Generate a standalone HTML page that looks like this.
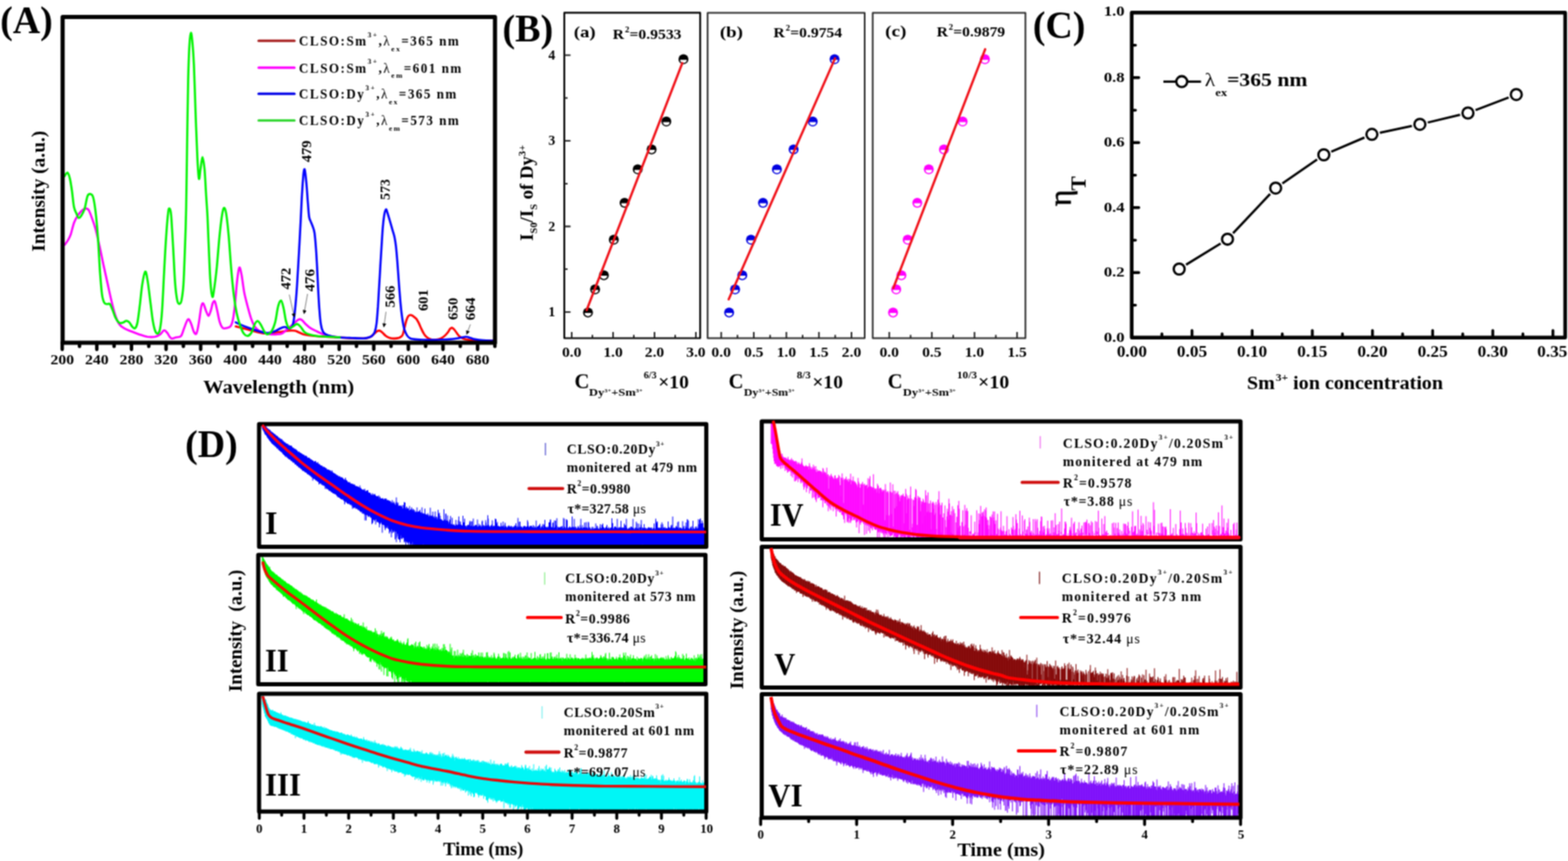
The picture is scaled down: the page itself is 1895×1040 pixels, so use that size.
<!DOCTYPE html>
<html lang="en"><head><meta charset="utf-8"><title>Figure</title>
<style>
html,body{margin:0;padding:0;background:#fff;}
body{width:1895px;height:1040px;overflow:hidden;}
svg{display:block;}
svg text{font-family:"Liberation Serif","DejaVu Serif",serif;font-weight:bold;fill:#000;}
</style></head><body>
<svg width="1895" height="1040" viewBox="0 0 1895 1040">
<defs><filter id="soft" x="0" y="0" width="100%" height="100%" color-interpolation-filters="sRGB"><feConvolveMatrix order="3" kernelMatrix="1 2 1 2 4 2 1 2 1" divisor="16" edgeMode="duplicate" preserveAlpha="false"/></filter></defs>
<g filter="url(#soft)">
<rect width="1895" height="1040" fill="#fff"/>
<g id="panelA">
<g fill="none" stroke-width="2.6" stroke-linejoin="round" stroke-linecap="round">
<path stroke="#ff0000" d="M284.9 394.3C286.7 394.7 291.9 396.1 295.7 397.1C299.5 398.1 303.7 399.3 307.7 400.3C311.8 401.2 316.5 402.4 320 402.7C323.5 402.9 325.8 402.2 328.9 401.9C331.9 401.7 335.3 401.4 338.5 401C341.7 400.6 345.1 399.8 348.1 399.5C351.1 399.3 354.3 399.2 356.5 399.5C358.7 399.9 359.5 400.7 361.3 401.5C363.1 402.2 364.3 403.1 367.3 403.9C370.3 404.6 374.5 405.3 379.3 405.8C384.1 406.3 391 406.7 396.2 407C401.4 407.3 405.8 407.5 410.6 407.7C415.4 408 419.8 408.3 425 408.4C430.2 408.6 438 409 441.8 408.7C445.7 408.4 446.1 407.8 447.9 406.8C449.7 405.8 451.3 403.8 452.7 402.7C454.1 401.5 455.2 400.3 456.3 399.8C457.4 399.3 458.2 399.2 459.2 399.5C460.2 399.9 461.1 400.9 462.3 401.9C463.5 403 464.9 404.7 466.4 405.8C467.9 406.8 469.5 407.7 471.2 408.2C472.9 408.7 474.9 409 476.7 408.9C478.6 408.9 480.6 408.6 482.2 408C483.8 407.3 485.2 407 486.3 405.1C487.4 403.2 487.9 399.7 488.7 396.7C489.5 393.7 490.3 389.5 491.1 387C491.9 384.6 492.7 382.8 493.5 381.7C494.3 380.7 495 380.5 495.9 380.5C496.9 380.5 497.9 381 499.1 381.7C500.3 382.5 502 383.6 503.2 385.1C504.4 386.6 505.3 388.6 506.3 390.6C507.3 392.6 508.1 394.9 509.2 397.1C510.2 399.3 511.6 402.1 512.8 403.9C514 405.6 515 406.7 516.4 407.7C517.8 408.7 519.4 409.4 521.2 409.9C523 410.3 525.2 410.6 527.2 410.4C529.2 410.2 531.4 409.6 533.2 408.7C535 407.8 536.6 406.4 538 405.1C539.4 403.8 540.6 402.3 541.6 401C542.6 399.7 543.2 398 544 397.1C544.8 396.3 545.6 395.8 546.4 395.9C547.2 396.1 547.9 396.8 548.8 397.9C549.8 398.9 550.9 400.8 552 402.2C553 403.6 554 405.2 555.3 406.3C556.6 407.4 557.7 408.2 559.7 408.9C561.6 409.6 563.7 410.2 566.9 410.6C570.1 411 573.9 411.2 578.9 411.3C583.9 411.5 593.9 411.5 596.9 411.6"/>
<path stroke="#ff00ff" d="M78.1 295.7C78.7 294.9 80.5 292.9 81.7 290.9C82.9 288.9 84.1 287.3 85.3 283.7C86.6 280.1 88 273 89.4 269.2C90.8 265.4 92.2 263.2 93.8 260.8C95.3 258.4 97 256.3 98.6 254.8C100.2 253.3 102 252.1 103.4 251.9C104.8 251.7 105.8 251.9 107 253.6C108.2 255.3 109.2 258.2 110.6 262C112 265.8 113.8 270.6 115.4 276.4C117 282.3 118.6 289.7 120.2 296.9C121.8 304.1 123.4 312.3 125 319.7C126.6 327.1 128.2 334.1 129.8 341.4C131.4 348.6 133 356.4 134.6 363C136.2 369.6 137.8 376.2 139.4 381C141 385.8 142.4 389.2 144.3 391.8C146.1 394.5 147.9 395.3 150.3 396.7C152.7 398.1 155.7 399.1 158.7 400.3C161.7 401.5 165.1 402.8 168.3 403.9C171.5 405 174.7 406.3 177.9 406.8C181.1 407.2 184.9 407.2 187.5 406.8C190.1 406.3 191.7 405.2 193.5 403.9C195.3 402.6 196.9 399.4 198.3 399.1C199.7 398.7 200.5 400.3 202 401.9C203.4 403.5 205 407.8 206.8 408.7C208.6 409.6 210.8 408 212.8 407.5C214.8 407 217.2 407.6 218.8 405.8C220.4 404 221 400 222.4 396.7C223.8 393.3 225.8 386.8 227.2 385.8C228.6 384.8 229.6 388.1 230.8 390.6C232 393.2 233.3 399 234.4 401C235.5 403 236.5 404.6 237.5 402.7C238.5 400.7 239.5 394.9 240.4 389.4C241.4 384 242.4 374 243.3 370.2C244.2 366.4 244.8 365.8 245.7 366.6C246.6 367.4 247.8 372.5 248.8 375C249.9 377.5 251 381.5 252 381.5C253 381.5 254 377.6 254.8 375C255.7 372.4 256.4 367.7 257.2 365.9C258.1 364.1 258.8 362.7 259.7 364.2C260.5 365.7 261.5 370.8 262.5 375C263.5 379.2 264.5 385.9 265.7 389.4C266.8 393 267.9 395.1 269.3 396.2C270.7 397.3 272.5 396.6 274.1 396.2C275.7 395.8 277.6 395.7 278.9 393.8C280.2 391.8 280.9 389.4 281.8 384.6C282.7 379.9 283.4 373 284.2 365.4C285 357.8 285.7 346 286.6 339C287.4 331.9 288.3 324.5 289.2 323.3C290.1 322.1 290.9 326.7 291.9 331.7C292.9 336.8 294 347 295.2 353.4C296.5 359.8 298 365 299.3 370.2C300.7 375.4 302 380.6 303.4 384.6C304.8 388.6 306.2 391.8 307.7 394.3C309.3 396.7 310.5 397.8 312.5 399.1C314.6 400.3 318.1 401.2 320 401.9C321.9 402.7 321.8 403.1 324 403.4C326.3 403.7 330.9 404 333.7 403.9C336.5 403.7 338.7 403.7 340.9 402.7C343.1 401.7 345.1 399.3 346.9 397.9C348.7 396.4 350.1 395.2 351.7 393.8C353.3 392.4 354.9 390.8 356.5 389.4C358.1 388.1 359.9 386.3 361.3 385.8C362.7 385.4 363.5 385.6 364.9 386.6C366.3 387.6 367.9 390.2 369.7 391.8C371.5 393.5 373.5 395.3 375.7 396.7C377.9 398.1 380.3 399.1 382.9 400.3C385.5 401.5 388.4 402.9 391.4 403.9C394.4 404.9 397.8 405.7 401 406.3C404.2 406.9 409 407.3 410.6 407.5"/>
<path stroke="#0000ff" d="M284.9 389.4C286.7 390.2 291.9 392.7 295.7 394.3C299.5 395.8 303.7 397.3 307.7 398.6C311.8 399.9 316.9 401.4 320 401.9C323.1 402.5 324.2 402.3 326.4 401.9C328.7 401.5 331.5 400.5 333.7 399.5C335.9 398.6 337.9 396.9 339.7 396.2C341.5 395.4 342.8 394.9 344.5 395C346.2 395.1 348.4 397.1 350 396.7C351.6 396.2 352.8 395.9 353.9 392.3C354.9 388.7 355.7 382.7 356.5 375C357.3 367.3 358.1 357.8 358.9 346.2C359.7 334.5 360.5 318.9 361.3 305.3C362.1 291.7 362.8 276.8 363.5 264.4C364.1 252 364.6 239.6 365.2 230.8C365.7 222 366.2 216 366.6 211.6C367 207.2 367.4 204.8 367.8 204.4C368.2 204 368.5 205.6 369 209.2C369.5 212.8 370.2 220 370.7 226C371.2 232 371.6 239.2 372.1 245.2C372.6 251.2 373 258.2 373.6 262C374.2 265.8 375 266 375.7 268C376.5 270 377.4 271.8 378.1 274C378.9 276.2 379.5 277.2 380.1 281.3C380.7 285.3 381.2 291.3 381.7 298.1C382.3 304.9 382.7 313.3 383.2 322.1C383.7 330.9 384.1 342.2 384.6 351C385.1 359.8 385.5 368.2 386.1 375C386.6 381.8 387.1 387.6 387.8 391.8C388.4 396.1 389.2 398.3 390.2 400.3C391.2 402.3 392 402.9 393.8 403.9C395.6 404.9 398.2 405.7 401 406.3C403.8 406.9 406.6 407.2 410.6 407.5C414.6 407.8 420.2 408 425 408.2C429.8 408.4 436 408.8 439.4 408.7C442.8 408.6 443.8 408.2 445.5 407.7C447.1 407.2 448.3 406.9 449.5 405.8C450.8 404.7 452 403.5 452.9 401C453.8 398.5 454.4 395.8 455.1 390.6C455.7 385.5 456.2 377.6 456.8 370.2C457.3 362.8 457.7 354.2 458.2 346.2C458.7 338.2 459.2 330.1 459.6 322.1C460.1 314.1 460.6 305.7 461.1 298.1C461.6 290.5 462 282.7 462.5 276.4C463 270.2 463.6 264.7 464.2 260.8C464.8 256.9 465.7 253.5 466.4 252.9C467.1 252.3 467.5 254.9 468.3 257.2C469.1 259.5 470.2 263.4 471.2 266.8C472.2 270.2 473.4 274.4 474.3 277.6C475.2 280.9 476 282.7 476.7 286.1C477.4 289.5 478 292.9 478.6 298.1C479.2 303.3 479.7 309.7 480.3 317.3C480.9 324.9 481.6 335.3 482.2 343.8C482.9 352.2 483.5 360.8 484.2 367.8C484.8 374.8 485.6 380.8 486.3 385.8C487.1 390.8 487.8 394.7 488.7 397.9C489.7 401.1 490.7 403.3 491.9 405.1C493.1 406.9 493.9 407.8 495.9 408.7C498 409.5 501 409.8 504.4 410.1C507.8 410.4 512 410.6 516.4 410.6C520.8 410.6 526.4 410.5 530.8 410.4C535.2 410.2 539.2 410.2 542.8 409.9C546.4 409.6 549.8 409.1 552.4 408.7C555 408.3 556.6 407.8 558.5 407.5C560.3 407.2 561.7 406.7 563.3 406.8C564.9 406.8 566.3 407.4 568.1 408C569.9 408.5 571.5 409.4 574.1 409.9C576.7 410.4 579.9 410.8 583.7 411.1C587.5 411.4 594.7 411.5 596.9 411.6"/>
<path stroke="#00f400" d="M78.1 212.8C78.5 212.3 79.4 210.2 80.1 209.6C80.7 209 81.5 208 82.2 209.2C83 210.3 83.8 212.8 84.6 216.4C85.4 220 86.2 225.2 87 230.8C87.8 236.4 88.5 245.4 89.4 250C90.4 254.6 91.6 256.2 92.6 258.4C93.5 260.6 94 262.8 95 263.2C95.9 263.6 96.9 262.6 98.1 260.8C99.3 259 100.9 256.4 102.2 252.4C103.5 248.4 104.6 239.8 105.8 236.8C107 233.8 108.3 234.2 109.4 234.4C110.5 234.6 111.5 234.6 112.5 238C113.5 241.4 114.4 246.8 115.4 254.8C116.4 262.8 117.4 273.6 118.3 286.1C119.2 298.5 120.1 317.7 120.9 329.3C121.8 341 122.5 349.7 123.3 355.8C124.2 361.9 125.1 364 126.2 365.9C127.3 367.8 128.7 367.1 129.8 367.3C130.9 367.5 131.7 366 132.7 367.1C133.7 368.2 134.7 371.1 135.8 373.8C137 376.5 138 380.7 139.4 383.4C140.8 386.1 142.6 388.9 144.3 389.9C145.9 390.9 147.7 389.8 149.1 389.4C150.5 389 151.5 387.5 152.7 387.5C153.9 387.5 155.1 388.2 156.3 389.4C157.5 390.6 158.8 393.5 159.9 394.7C161 395.9 162 397.3 163 396.7C164 396 164.9 395.1 165.9 390.6C166.9 386.2 167.8 378 168.8 370.2C169.8 362.4 170.8 350.8 171.9 343.8C173 336.8 174.4 328.9 175.5 328.1C176.6 327.3 177.4 333.1 178.4 339C179.4 344.8 180.5 355 181.5 363C182.6 371 183.6 380.9 184.6 387C185.6 393.1 186.5 396.9 187.5 399.5C188.5 402.2 189.7 403.4 190.7 402.9C191.7 402.4 192.7 401.3 193.5 396.7C194.4 392 195.1 386.2 195.9 375C196.7 363.8 197.5 344.2 198.3 329.3C199.1 314.5 199.9 298.1 200.8 286.1C201.6 274 202.5 262.9 203.2 257.2C203.8 251.5 204.2 251.5 204.8 251.9C205.4 252.3 206 251.9 206.8 259.6C207.5 267.3 208.4 284.5 209.2 298.1C210 311.7 210.8 330.7 211.6 341.4C212.4 352 213.2 357.5 214 361.8C214.8 366.1 215.5 366.9 216.4 367.1C217.3 367.3 218.4 366.9 219.3 363C220.1 359.1 220.9 354.6 221.7 343.8C222.4 332.9 223 313.7 223.6 298.1C224.2 282.5 224.6 271.6 225 250C225.5 228.4 225.8 193.9 226.2 168.3C226.6 142.7 227 115 227.4 96.2C227.9 77.3 228.3 64.7 228.9 55.3C229.4 45.9 230.2 40.1 230.8 39.7C231.4 39.3 232.1 46.3 232.7 52.9C233.3 59.5 233.8 65.7 234.4 79.3C235 93 235.7 116.2 236.3 134.6C237 153.1 237.8 176.4 238.5 189.9C239.2 203.5 239.8 213.5 240.4 215.9C241.1 218.3 241.6 208.7 242.3 204.4C243.1 200 243.9 189.9 244.7 189.9C245.5 189.9 246.4 196.7 247.2 204.4C247.9 212 248.5 226 249.1 235.6C249.7 245.2 250.2 251.2 250.8 262C251.3 272.8 251.8 287.3 252.4 300.5C253 313.7 253.6 331.7 254.4 341.4C255.1 351.1 256 357.9 256.8 358.7C257.6 359.5 258.3 352.3 259.2 346.2C260.1 340.1 261 332.9 262.1 322.1C263.1 311.3 264.5 292.1 265.7 281.3C266.8 270.4 267.9 262.2 268.8 257.2C269.7 252.2 270.4 250.8 271.2 251.2C272 251.6 272.7 253.8 273.6 259.6C274.5 265.4 275.5 275.2 276.5 286.1C277.4 296.9 278.4 312.9 279.4 324.5C280.4 336.2 281.4 346.8 282.5 355.8C283.6 364.8 284.8 372.3 286.1 378.6C287.4 385 289 389.8 290.4 393.8C291.8 397.8 293 400.7 294.5 402.7C296 404.7 297.7 406 299.3 405.8C300.9 405.6 302.7 403.8 304.1 401.5C305.5 399.1 306.5 394.1 307.7 391.8C308.9 389.6 310.1 387.8 311.3 387.8C312.5 387.8 313.5 389.6 314.9 391.8C316.4 394.1 318.7 399.5 320 401.5C321.3 403.5 321.6 403.9 322.8 403.9C324.1 403.8 326 403.4 327.6 401C329.3 398.6 331.1 394.6 332.5 389.4C333.9 384.3 334.9 374.6 336.1 370.2C337.3 365.8 338.5 362.6 339.7 363C340.8 363.4 341.8 368.4 342.8 372.6C343.8 376.8 344.6 384.3 345.7 388.2C346.8 392.2 347.9 395.2 349.3 396.2C350.7 397.2 352.5 395.1 354.1 394.3C355.7 393.5 357.4 391.4 358.9 391.4C360.4 391.4 361.6 392.8 363 394.3C364.4 395.7 365.8 398.7 367.3 400.3C368.8 401.8 369.7 402.5 372.1 403.4C374.5 404.3 377.7 405.2 381.7 405.8C385.7 406.4 391.4 406.5 396.2 406.8C401 407 408.2 407.4 410.6 407.5"/>
</g>
<rect x="75.7" y="20.6" width="522.5" height="393.3" fill="none" stroke="#000" stroke-width="5" stroke-linejoin="round"/>
<path d="M75.2 413.9V422.1M96.1 413.9V418.5M117 413.9V422.1M137.9 413.9V418.5M158.9 413.9V422.1M179.8 413.9V418.5M200.7 413.9V422.1M221.6 413.9V418.5M242.5 413.9V422.1M263.4 413.9V418.5M284.4 413.9V422.1M305.3 413.9V418.5M326.2 413.9V422.1M347.1 413.9V418.5M368 413.9V422.1M388.9 413.9V418.5M409.9 413.9V422.1M430.8 413.9V418.5M451.7 413.9V422.1M472.6 413.9V418.5M493.5 413.9V422.1M514.4 413.9V418.5M535.4 413.9V422.1M556.3 413.9V418.5M577.2 413.9V422.1M598.1 413.9V418.5" stroke="#000" stroke-width="4.2" stroke-linecap="round" fill="none"/>
<text x="75.2" y="440.3" font-size="17.6" text-anchor="middle" textLength="28.6" lengthAdjust="spacingAndGlyphs">200</text>
<text x="117" y="440.3" font-size="17.6" text-anchor="middle" textLength="28.6" lengthAdjust="spacingAndGlyphs">240</text>
<text x="158.9" y="440.3" font-size="17.6" text-anchor="middle" textLength="28.6" lengthAdjust="spacingAndGlyphs">280</text>
<text x="200.7" y="440.3" font-size="17.6" text-anchor="middle" textLength="28.6" lengthAdjust="spacingAndGlyphs">320</text>
<text x="242.5" y="440.3" font-size="17.6" text-anchor="middle" textLength="28.6" lengthAdjust="spacingAndGlyphs">360</text>
<text x="284.4" y="440.3" font-size="17.6" text-anchor="middle" textLength="28.6" lengthAdjust="spacingAndGlyphs">400</text>
<text x="326.2" y="440.3" font-size="17.6" text-anchor="middle" textLength="28.6" lengthAdjust="spacingAndGlyphs">440</text>
<text x="368" y="440.3" font-size="17.6" text-anchor="middle" textLength="28.6" lengthAdjust="spacingAndGlyphs">480</text>
<text x="409.9" y="440.3" font-size="17.6" text-anchor="middle" textLength="28.6" lengthAdjust="spacingAndGlyphs">520</text>
<text x="451.7" y="440.3" font-size="17.6" text-anchor="middle" textLength="28.6" lengthAdjust="spacingAndGlyphs">560</text>
<text x="493.5" y="440.3" font-size="17.6" text-anchor="middle" textLength="28.6" lengthAdjust="spacingAndGlyphs">600</text>
<text x="535.4" y="440.3" font-size="17.6" text-anchor="middle" textLength="28.6" lengthAdjust="spacingAndGlyphs">640</text>
<text x="577.2" y="440.3" font-size="17.6" text-anchor="middle" textLength="28.6" lengthAdjust="spacingAndGlyphs">680</text>
<text x="336.8" y="474.5" font-size="23" text-anchor="middle" textLength="182.5" lengthAdjust="spacingAndGlyphs">Wavelength (nm)</text>
<text x="53.5" y="231" font-size="23" text-anchor="middle" textLength="146" lengthAdjust="spacingAndGlyphs" transform="rotate(-90 53.5 231)">Intensity (a.u.)</text>
<text x="0.3" y="40.4" font-size="47" textLength="63.5" lengthAdjust="spacingAndGlyphs">(A)</text>
<line x1="312.6" y1="49.3" x2="355.8" y2="49.3" stroke="#a82020" stroke-width="3" stroke-linecap="round"/>
<text x="361.3" y="55.1" font-size="15.8" textLength="193.2" lengthAdjust="spacing">CLSO:Sm<tspan font-size="9" dy="-10.5">3+</tspan><tspan dy="10.5">,</tspan><tspan font-weight="normal">λ</tspan><tspan font-size="9" dy="6.5">ex</tspan><tspan dy="-6.5">=365 nm</tspan></text>
<line x1="312.6" y1="81.7" x2="355.8" y2="81.7" stroke="#ff00ff" stroke-width="3" stroke-linecap="round"/>
<text x="361.3" y="87.5" font-size="15.8" textLength="196.2" lengthAdjust="spacing">CLSO:Sm<tspan font-size="9" dy="-10.5">3+</tspan><tspan dy="10.5">,</tspan><tspan font-weight="normal">λ</tspan><tspan font-size="9" dy="6.5">em</tspan><tspan dy="-6.5">=601 nm</tspan></text>
<line x1="312.6" y1="113.2" x2="355.8" y2="113.2" stroke="#0000e8" stroke-width="3" stroke-linecap="round"/>
<text x="361.3" y="119" font-size="15.8" textLength="190.2" lengthAdjust="spacing">CLSO:Dy<tspan font-size="9" dy="-10.5">3+</tspan><tspan dy="10.5">,</tspan><tspan font-weight="normal">λ</tspan><tspan font-size="9" dy="6.5">ex</tspan><tspan dy="-6.5">=365 nm</tspan></text>
<line x1="312.6" y1="145.6" x2="355.8" y2="145.6" stroke="#38d838" stroke-width="3" stroke-linecap="round"/>
<text x="361.3" y="151.4" font-size="15.8" textLength="193.2" lengthAdjust="spacing">CLSO:Dy<tspan font-size="9" dy="-10.5">3+</tspan><tspan dy="10.5">,</tspan><tspan font-weight="normal">λ</tspan><tspan font-size="9" dy="6.5">em</tspan><tspan dy="-6.5">=573 nm</tspan></text>
<text x="376.2" y="182.8" font-size="16" text-anchor="middle" textLength="26.5" lengthAdjust="spacingAndGlyphs" transform="rotate(-90 376.2 182.8)">479</text>
<text x="471.2" y="228.9" font-size="16" text-anchor="middle" textLength="25.3" lengthAdjust="spacingAndGlyphs" transform="rotate(-90 471.2 228.9)">573</text>
<text x="351" y="336.6" font-size="16" text-anchor="middle" textLength="26.5" lengthAdjust="spacingAndGlyphs" transform="rotate(-90 351 336.6)">472</text>
<text x="380.5" y="338.6" font-size="16" text-anchor="middle" textLength="27.2" lengthAdjust="spacingAndGlyphs" transform="rotate(-90 380.5 338.6)">476</text>
<text x="476.7" y="358.2" font-size="16" text-anchor="middle" textLength="26.4" lengthAdjust="spacingAndGlyphs" transform="rotate(-90 476.7 358.2)">566</text>
<text x="516.8" y="362.6" font-size="16" text-anchor="middle" textLength="25.7" lengthAdjust="spacingAndGlyphs" transform="rotate(-90 516.8 362.6)">601</text>
<text x="552.9" y="372.9" font-size="16" text-anchor="middle" textLength="27.1" lengthAdjust="spacingAndGlyphs" transform="rotate(-90 552.9 372.9)">650</text>
<text x="573.8" y="373.2" font-size="16" text-anchor="middle" textLength="27.6" lengthAdjust="spacingAndGlyphs" transform="rotate(-90 573.8 373.2)">664</text>
<defs><marker id="ah" viewBox="0 0 10 10" refX="9" refY="5" markerWidth="9.5" markerHeight="4.8" markerUnits="userSpaceOnUse" orient="auto"><path d="M0 0L10 5L0 10z" fill="#000"/></marker></defs>
<line x1="349.6" y1="355.8" x2="355.6" y2="383" stroke="#444" stroke-width="0.7" marker-end="url(#ah)"/>
<line x1="371.7" y1="355" x2="367.4" y2="379" stroke="#444" stroke-width="0.7" marker-end="url(#ah)"/>
<line x1="466.5" y1="376.6" x2="463.9" y2="395" stroke="#444" stroke-width="0.7" marker-end="url(#ah)"/>
<line x1="568.5" y1="391.8" x2="564" y2="403.8" stroke="#444" stroke-width="0.7" marker-end="url(#ah)"/>
</g>
<g id="panelB">
<circle cx="710.6" cy="377.4" r="6" fill="#000000"/><path d="M706.6 378.1A4 3.8 0 0 0 714.6 378.1z" fill="#fff"/>
<circle cx="719.2" cy="349.6" r="6" fill="#000000"/><path d="M715.2 350.3A4 3.8 0 0 0 723.2 350.3z" fill="#fff"/>
<circle cx="729.8" cy="332.4" r="6" fill="#000000"/><path d="M725.8 333.1A4 3.8 0 0 0 733.8 333.1z" fill="#fff"/>
<circle cx="741.8" cy="289.6" r="6" fill="#000000"/><path d="M737.8 290.3A4 3.8 0 0 0 745.8 290.3z" fill="#fff"/>
<circle cx="754.8" cy="244.9" r="6" fill="#000000"/><path d="M750.8 245.6A4 3.8 0 0 0 758.8 245.6z" fill="#fff"/>
<circle cx="770.7" cy="204.6" r="6" fill="#000000"/><path d="M766.7 205.3A4 3.8 0 0 0 774.7 205.3z" fill="#fff"/>
<circle cx="787.5" cy="180.4" r="6" fill="#000000"/><path d="M783.5 181.1A4 3.8 0 0 0 791.5 181.1z" fill="#fff"/>
<circle cx="805.3" cy="146.8" r="6" fill="#000000"/><path d="M801.3 147.5A4 3.8 0 0 0 809.3 147.5z" fill="#fff"/>
<circle cx="826" cy="71.5" r="6" fill="#000000"/><path d="M822 72.2A4 3.8 0 0 0 830 72.2z" fill="#fff"/>
<line x1="709" y1="374.5" x2="824.6" y2="76.3" stroke="#f01018" stroke-width="2.8" stroke-linecap="round"/>
<rect x="682" y="15.4" width="164.2" height="393.1" fill="none" stroke="#000" stroke-width="2.2" stroke-linejoin="round"/>
<text x="690.9" y="430.8" font-size="16.5" text-anchor="middle" textLength="23.5" lengthAdjust="spacingAndGlyphs">0.0</text>
<text x="740.9" y="430.8" font-size="16.5" text-anchor="middle" textLength="23.5" lengthAdjust="spacingAndGlyphs">1.0</text>
<text x="791" y="430.8" font-size="16.5" text-anchor="middle" textLength="23.5" lengthAdjust="spacingAndGlyphs">2.0</text>
<text x="841" y="430.8" font-size="16.5" text-anchor="middle" textLength="23.5" lengthAdjust="spacingAndGlyphs">3.0</text>
<path d="M690.9 408.5V401M715.9 408.5V404.5M740.9 408.5V401M766 408.5V404.5M791 408.5V401M816 408.5V404.5M841 408.5V401M682 376.9H689.5M682 325.2H686M682 273.5H689.5M682 221.8H686M682 170.1H689.5M682 118.4H686M682 66.7H689.5" stroke="#1a1a1a" stroke-width="1.8" fill="none"/>
<circle cx="881.2" cy="377.4" r="6" fill="#0000e0"/><path d="M877.2 378.1A4 3.8 0 0 0 885.2 378.1z" fill="#fff"/>
<circle cx="888.4" cy="349.6" r="6" fill="#0000e0"/><path d="M884.4 350.3A4 3.8 0 0 0 892.4 350.3z" fill="#fff"/>
<circle cx="897.1" cy="332.4" r="6" fill="#0000e0"/><path d="M893.1 333.1A4 3.8 0 0 0 901.1 333.1z" fill="#fff"/>
<circle cx="907.6" cy="289.6" r="6" fill="#0000e0"/><path d="M903.6 290.3A4 3.8 0 0 0 911.6 290.3z" fill="#fff"/>
<circle cx="922.1" cy="244.9" r="6" fill="#0000e0"/><path d="M918.1 245.6A4 3.8 0 0 0 926.1 245.6z" fill="#fff"/>
<circle cx="938.9" cy="204.6" r="6" fill="#0000e0"/><path d="M934.9 205.3A4 3.8 0 0 0 942.9 205.3z" fill="#fff"/>
<circle cx="959.1" cy="180.4" r="6" fill="#0000e0"/><path d="M955.1 181.1A4 3.8 0 0 0 963.1 181.1z" fill="#fff"/>
<circle cx="982.2" cy="146.8" r="6" fill="#0000e0"/><path d="M978.2 147.5A4 3.8 0 0 0 986.2 147.5z" fill="#fff"/>
<circle cx="1008.6" cy="71.5" r="6" fill="#0000e0"/><path d="M1004.6 72.2A4 3.8 0 0 0 1012.6 72.2z" fill="#fff"/>
<line x1="880.7" y1="361.5" x2="1009.2" y2="70.5" stroke="#f01018" stroke-width="2.8" stroke-linecap="round"/>
<rect x="855.2" y="15.4" width="189.8" height="393.1" fill="none" stroke="#2a2a2a" stroke-width="2" stroke-linejoin="round"/>
<text x="871.6" y="430.8" font-size="16.5" text-anchor="middle" textLength="23.5" lengthAdjust="spacingAndGlyphs">0.0</text>
<text x="911" y="430.8" font-size="16.5" text-anchor="middle" textLength="23.5" lengthAdjust="spacingAndGlyphs">0.5</text>
<text x="950.4" y="430.8" font-size="16.5" text-anchor="middle" textLength="23.5" lengthAdjust="spacingAndGlyphs">1.0</text>
<text x="989.7" y="430.8" font-size="16.5" text-anchor="middle" textLength="23.5" lengthAdjust="spacingAndGlyphs">1.5</text>
<text x="1029.1" y="430.8" font-size="16.5" text-anchor="middle" textLength="23.5" lengthAdjust="spacingAndGlyphs">2.0</text>
<path d="M871.6 408.5V401M891.3 408.5V404.5M911 408.5V401M930.7 408.5V404.5M950.4 408.5V401M970 408.5V404.5M989.7 408.5V401M1009.4 408.5V404.5M1029.1 408.5V401" stroke="#1a1a1a" stroke-width="1.8" fill="none"/>
<circle cx="1079.3" cy="377.4" r="6" fill="#ff00ff"/><path d="M1075.3 378.1A4 3.8 0 0 0 1083.3 378.1z" fill="#fff"/>
<circle cx="1083.1" cy="349.6" r="6" fill="#ff00ff"/><path d="M1079.1 350.3A4 3.8 0 0 0 1087.1 350.3z" fill="#fff"/>
<circle cx="1089.4" cy="332.4" r="6" fill="#ff00ff"/><path d="M1085.4 333.1A4 3.8 0 0 0 1093.4 333.1z" fill="#fff"/>
<circle cx="1097" cy="289.6" r="6" fill="#ff00ff"/><path d="M1093 290.3A4 3.8 0 0 0 1101 290.3z" fill="#fff"/>
<circle cx="1108.6" cy="244.9" r="6" fill="#ff00ff"/><path d="M1104.6 245.6A4 3.8 0 0 0 1112.6 245.6z" fill="#fff"/>
<circle cx="1122.5" cy="204.6" r="6" fill="#ff00ff"/><path d="M1118.5 205.3A4 3.8 0 0 0 1126.5 205.3z" fill="#fff"/>
<circle cx="1140.8" cy="180.4" r="6" fill="#ff00ff"/><path d="M1136.8 181.1A4 3.8 0 0 0 1144.8 181.1z" fill="#fff"/>
<circle cx="1163.4" cy="146.8" r="6" fill="#ff00ff"/><path d="M1159.4 147.5A4 3.8 0 0 0 1167.4 147.5z" fill="#fff"/>
<circle cx="1190.3" cy="71.5" r="6" fill="#ff00ff"/><path d="M1186.3 72.2A4 3.8 0 0 0 1194.3 72.2z" fill="#fff"/>
<line x1="1079.6" y1="348" x2="1190.6" y2="59.5" stroke="#f01018" stroke-width="2.8" stroke-linecap="round"/>
<rect x="1054.7" y="15.4" width="184.6" height="393.1" fill="none" stroke="#2a2a2a" stroke-width="2" stroke-linejoin="round"/>
<text x="1074.7" y="430.8" font-size="16.5" text-anchor="middle" textLength="23.5" lengthAdjust="spacingAndGlyphs">0.0</text>
<text x="1126.2" y="430.8" font-size="16.5" text-anchor="middle" textLength="23.5" lengthAdjust="spacingAndGlyphs">0.5</text>
<text x="1177.7" y="430.8" font-size="16.5" text-anchor="middle" textLength="23.5" lengthAdjust="spacingAndGlyphs">1.0</text>
<text x="1229.2" y="430.8" font-size="16.5" text-anchor="middle" textLength="23.5" lengthAdjust="spacingAndGlyphs">1.5</text>
<path d="M1074.7 408.5V401M1100.5 408.5V404.5M1126.2 408.5V401M1152 408.5V404.5M1177.7 408.5V401M1203.5 408.5V404.5M1229.2 408.5V401" stroke="#1a1a1a" stroke-width="1.8" fill="none"/>
<text x="671" y="381.9" font-size="16.5" text-anchor="end">1</text>
<text x="671" y="278.5" font-size="16.5" text-anchor="end">2</text>
<text x="671" y="175.1" font-size="16.5" text-anchor="end">3</text>
<text x="671" y="71.7" font-size="16.5" text-anchor="end">4</text>
<text x="693.4" y="45.3" font-size="19" textLength="26.5" lengthAdjust="spacingAndGlyphs">(a)</text>
<text x="870" y="44.8" font-size="19" textLength="28" lengthAdjust="spacingAndGlyphs">(b)</text>
<text x="1069.8" y="44.3" font-size="19" textLength="25.5" lengthAdjust="spacingAndGlyphs">(c)</text>
<text x="740.6" y="46.5" font-size="17.5" textLength="83" lengthAdjust="spacingAndGlyphs">R<tspan font-size="10" dy="-8" dx="1">2</tspan><tspan dy="8">=0.9533</tspan></text>
<text x="934.8" y="45.3" font-size="17.5" textLength="83" lengthAdjust="spacingAndGlyphs">R<tspan font-size="10" dy="-8" dx="1">2</tspan><tspan dy="8">=0.9754</tspan></text>
<text x="1131.9" y="44" font-size="17.5" textLength="82.9" lengthAdjust="spacingAndGlyphs">R<tspan font-size="10" dy="-8" dx="1">2</tspan><tspan dy="8">=0.9879</tspan></text>
<text x="607.2" y="50.4" font-size="47" textLength="61.5" lengthAdjust="spacingAndGlyphs">(B)</text>
<text x="644" y="233" font-size="23" text-anchor="middle" textLength="116" lengthAdjust="spacingAndGlyphs" transform="rotate(-90 644 233)">I<tspan font-size="13" dy="5">S0</tspan><tspan dy="-5">/I</tspan><tspan font-size="13" dy="5">S</tspan><tspan dy="-5"> of Dy</tspan><tspan font-size="13" dy="-9">3+</tspan></text>
<text x="694.2" y="469" font-size="25">C</text>
<text x="711.8" y="478" font-size="13.5" textLength="64.9" lengthAdjust="spacingAndGlyphs">Dy<tspan font-size="7" dy="-4.5">3+</tspan><tspan dy="4.5">+Sm</tspan><tspan font-size="7" dy="-4.5">3+</tspan></text>
<text x="777.9" y="456.8" font-size="12" textLength="15.6" lengthAdjust="spacingAndGlyphs">6/3</text>
<text x="795.4" y="469" font-size="24" textLength="37.1" lengthAdjust="spacingAndGlyphs">×10</text>
<text x="880.4" y="469" font-size="25">C</text>
<text x="899" y="478" font-size="13.5" textLength="61.5" lengthAdjust="spacingAndGlyphs">Dy<tspan font-size="7" dy="-4.5">3+</tspan><tspan dy="4.5">+Sm</tspan><tspan font-size="7" dy="-4.5">3+</tspan></text>
<text x="963" y="456.8" font-size="12" textLength="16.8" lengthAdjust="spacingAndGlyphs">8/3</text>
<text x="981.7" y="469" font-size="24" textLength="37" lengthAdjust="spacingAndGlyphs">×10</text>
<text x="1072.7" y="469" font-size="25">C</text>
<text x="1091.3" y="478" font-size="13.5" textLength="63.9" lengthAdjust="spacingAndGlyphs">Dy<tspan font-size="7" dy="-4.5">3+</tspan><tspan dy="4.5">+Sm</tspan><tspan font-size="7" dy="-4.5">3+</tspan></text>
<text x="1156.6" y="456.8" font-size="12" textLength="24.1" lengthAdjust="spacingAndGlyphs">10/3</text>
<text x="1182.1" y="469" font-size="24" textLength="37.5" lengthAdjust="spacingAndGlyphs">×10</text>
</g>
<g id="panelC">
<path d="M1433.4 319.8L1475.2 294.1M1490.2 281.8L1535 234.3M1549.8 221.6L1591.8 192.6M1608.9 183.2L1649 166.1M1667.6 160.3L1706.4 152.2M1725.5 148L1764.6 138.7M1783.3 133L1823.3 117.7" stroke="#000" stroke-width="2.8" fill="none"/>
<circle cx="1425.1" cy="325" r="6.6" fill="#fff" stroke="#000" stroke-width="2.8"/>
<circle cx="1483.5" cy="288.9" r="6.6" fill="#fff" stroke="#000" stroke-width="2.8"/>
<circle cx="1541.7" cy="227.2" r="6.6" fill="#fff" stroke="#000" stroke-width="2.8"/>
<circle cx="1599.9" cy="187" r="6.6" fill="#fff" stroke="#000" stroke-width="2.8"/>
<circle cx="1658" cy="162.3" r="6.6" fill="#fff" stroke="#000" stroke-width="2.8"/>
<circle cx="1716" cy="150.2" r="6.6" fill="#fff" stroke="#000" stroke-width="2.8"/>
<circle cx="1774.1" cy="136.5" r="6.6" fill="#fff" stroke="#000" stroke-width="2.8"/>
<circle cx="1832.5" cy="114.2" r="6.6" fill="#fff" stroke="#000" stroke-width="2.8"/>
<rect x="1367.7" y="15.3" width="523.9" height="392.5" fill="none" stroke="#000" stroke-width="4.4" stroke-linejoin="round"/>
<path d="M1404.2 407.8V403.2M1440.6 407.8V399.2M1477 407.8V403.2M1513.3 407.8V399.2M1549.7 407.8V403.2M1586 407.8V399.2M1622.4 407.8V403.2M1658.7 407.8V399.2M1695.1 407.8V403.2M1731.4 407.8V399.2M1767.8 407.8V403.2M1804.1 407.8V399.2M1840.5 407.8V403.2M1876.8 407.8V399.2M1367.7 368.6H1372.3M1367.7 329.3H1376.3M1367.7 290.1H1372.3M1367.7 250.8H1376.3M1367.7 211.6H1372.3M1367.7 172.3H1376.3M1367.7 133.1H1372.3M1367.7 93.8H1376.3M1367.7 54.6H1372.3" stroke="#000" stroke-width="3.4" stroke-linecap="round" fill="none"/>
<text x="1367.9" y="430.5" font-size="18.5" text-anchor="middle" textLength="36.5" lengthAdjust="spacingAndGlyphs">0.00</text>
<text x="1440.6" y="430.5" font-size="18.5" text-anchor="middle" textLength="36.5" lengthAdjust="spacingAndGlyphs">0.05</text>
<text x="1513.3" y="430.5" font-size="18.5" text-anchor="middle" textLength="36.5" lengthAdjust="spacingAndGlyphs">0.10</text>
<text x="1586" y="430.5" font-size="18.5" text-anchor="middle" textLength="36.5" lengthAdjust="spacingAndGlyphs">0.15</text>
<text x="1658.7" y="430.5" font-size="18.5" text-anchor="middle" textLength="36.5" lengthAdjust="spacingAndGlyphs">0.20</text>
<text x="1731.4" y="430.5" font-size="18.5" text-anchor="middle" textLength="36.5" lengthAdjust="spacingAndGlyphs">0.25</text>
<text x="1804.1" y="430.5" font-size="18.5" text-anchor="middle" textLength="36.5" lengthAdjust="spacingAndGlyphs">0.30</text>
<text x="1876" y="430.5" font-size="18.5" text-anchor="middle" textLength="36.5" lengthAdjust="spacingAndGlyphs">0.35</text>
<text x="1359.2" y="412.8" font-size="16.2" text-anchor="end" textLength="25.3" lengthAdjust="spacingAndGlyphs">0.0</text>
<text x="1359.2" y="334.3" font-size="16.2" text-anchor="end" textLength="25.3" lengthAdjust="spacingAndGlyphs">0.2</text>
<text x="1359.2" y="255.8" font-size="16.2" text-anchor="end" textLength="25.3" lengthAdjust="spacingAndGlyphs">0.4</text>
<text x="1359.2" y="177.3" font-size="16.2" text-anchor="end" textLength="25.3" lengthAdjust="spacingAndGlyphs">0.6</text>
<text x="1359.2" y="98.8" font-size="16.2" text-anchor="end" textLength="25.3" lengthAdjust="spacingAndGlyphs">0.8</text>
<text x="1359.2" y="19.3" font-size="16.2" text-anchor="end" textLength="25.3" lengthAdjust="spacingAndGlyphs">1.0</text>
<text x="1625.5" y="469.8" font-size="22.5" text-anchor="middle" textLength="237" lengthAdjust="spacingAndGlyphs">Sm<tspan font-size="13" dy="-10" dx="1">3+</tspan><tspan dy="10"> ion concentration</tspan></text>
<text x="1294" y="249" font-size="38" transform="rotate(-90 1294 249)"><tspan font-weight="normal" stroke="#000" stroke-width="0.6">η</tspan><tspan font-size="26" dy="17.5" dx="-1">T</tspan></text>
<text x="1248.3" y="45.6" font-size="47" textLength="63.5" lengthAdjust="spacingAndGlyphs">(C)</text>
<line x1="1406" y1="98.6" x2="1451.5" y2="98.6" stroke="#000" stroke-width="2.8" />
<circle cx="1428.2" cy="98.6" r="6.6" fill="#fff" stroke="#000" stroke-width="2.8"/>
<text x="1456" y="104" font-size="22.5" textLength="124" lengthAdjust="spacingAndGlyphs"><tspan font-weight="normal">λ</tspan><tspan font-size="13" dy="11.5">ex</tspan><tspan dy="-11.5">=365 nm</tspan></text>
</g>
<g id="panelD">
<path d="M317 513.2V517.6M317.5 513.2V518.7M318 513.2V519.8M318.5 513.2V520.5M319 513.2V521.5M319.5 513.4V522.4M320 513.6V524.2M320.5 515.3V524.6M321 515.1V525.4M321.5 515.1V525.7M322 515.8V526.1M322.5 516.6V527.2M323 517.1V528.4M323.5 517.5V528.8M324 518V529.6M324.5 518.2V530.2M325 519.5V530.8M325.5 518.9V531.8M326 520.1V532.3M326.5 519.4V533.2M327 520.5V533.1M327.5 521.3V534.2M328 521.1V534.8M328.5 522.1V535.7M329 522V535.8M329.5 522.5V536.4M330 522.9V537M330.5 523.2V537.2M331 523.8V537.8M331.5 524.1V538M332 524.5V538.8M332.5 524.7V538.5M333 525.1V539.8M333.5 526.1V540.1M334 526.2V539.9M334.5 526.5V541.5M335 527.3V541.4M335.5 526.8V541.3M336 527.9V542.6M336.5 528.6V542.4M337 528.3V543.8M337.5 529.5V544M338 529.5V544.2M338.5 529.5V544.9M339 530.2V545.3M339.5 530.8V545.5M340 530.4V545.9M340.5 530.6V546.4M341 531.1V546.6M341.5 532.6V547.5M342 532.6V548.5M342.5 532.6V548.9M343 533.4V548.9M343.5 534V550M344 534.3V550M344.5 534.5V550.8M345 534.8V551.8M345.5 535.5V550.9M346 535.6V552.1M346.5 536V551.4M347 536.2V552.7M347.5 536.2V553.3M348 536.5V552.7M348.5 538.1V553.9M349 537.1V554.5M349.5 537.9V554.9M350 538.2V554M350.5 538.2V554.9M351 539V555.7M351.5 538.3V556M352 539.8V557.1M352.5 538.5V556.8M353 540.5V556.8M353.5 540.4V557.7M354 540.5V558.7M354.5 541.2V558.1M355 541.2V559.2M355.5 541.8V558.8M356 542.2V559.4M356.5 542.5V560.8M357 542.6V561.2M357.5 542.7V560.8M358 543.3V560.9M358.5 543.8V562.3M359 544V562.6M359.5 544.8V562.6M360 545.7V563M360.5 546.1V563.8M361 545.8V564.7M361.5 545.4V564.2M362 546.5V565.2M362.5 546.8V564.8M363 547.1V565.9M363.5 547.1V565.9M364 547.7V567.2M364.5 547.9V566.9M365 548.2V567.1M365.5 548.6V568.7M366 549.9V567.9M366.5 549.1V568.5M367 549.6V568.9M367.5 549.5V569.3M368 550.2V569.6M368.5 550.9V569.9M369 550.8V570.6M369.5 550.4V570.6M370 551.6V571M370.5 550.9V570.9M371 551.6V571.9M371.5 553.1V572.8M372 552.7V572.4M372.5 553.1V572.6M373 553V573.4M373.5 552.8V573.6M374 553.5V574.2M374.5 553.9V574M375 554.4V575.2M375.5 555.3V574.8M376 554.8V575.6M376.5 555V576.3M377 556.6V576.8M377.5 556V576.4M378 556.3V580.6M378.5 556.5V578.2M379 557.5V577.8M379.5 557.8V578.2M380 557.8V578.7M380.5 557.1V579M381 558.3V578.8M381.5 556.8V580.4M382 559.1V579.8M382.5 558.8V580.2M383 558.9V580.9M383.5 559.6V581.6M384 558V581.3M384.5 559.8V582M385 560.2V582.4M385.5 561.1V585.2M386 560.4V582.8M386.5 561.1V583.7M387 562.2V584.3M387.5 562.2V583.7M388 562.2V584.7M388.5 562.5V584.3M389 562.5V586M389.5 563.4V585M390 563.3V586.2M390.5 564.5V586.2M391 563.9V586.5M391.5 563.9V586.1M392 564.4V587.1M392.5 564.6V587.4M393 565V590.6M393.5 565.3V588.5M394 565.4V589.9M394.5 566.2V589.5M395 566.5V590.9M395.5 567.5V590M396 567.4V591.1M396.5 567.2V591.3M397 567.5V591M397.5 567.6V592.5M398 567.8V592.5M398.5 568.3V592.5M399 568.8V593.4M399.5 568.4V593M400 568.5V593.8M400.5 570V594.4M401 570V594.7M401.5 568.4V594.9M402 571.1V594.8M402.5 570.6V596.2M403 571.6V595.3M403.5 571.4V596M404 572.7V595.7M404.5 571.8V597M405 572.9V597.2M405.5 572.5V596.5M406 572.9V597M406.5 573.8V598.1M407 573.6V598.7M407.5 574.4V599.1M408 574.2V600.5M408.5 574.6V599.8M409 575V600.6M409.5 576V601M410 576.6V600.8M410.5 575V601.6M411 577.2V601M411.5 576.6V602.5M412 576.5V601.4M412.5 576.2V603.1M413 577.1V602M413.5 577V603.4M414 576.7V603.2M414.5 578V603.1M415 578.2V604.2M415.5 579.2V605M416 578.9V605.2M416.5 580.1V609.2M417 579.4V605.7M417.5 577.1V605.5M418 581.5V606.8M418.5 579.7V606.1M419 581.3V607.4M419.5 580.6V607.9M420 581.9V606.7M420.5 582.5V608.8M421 583V608.4M421.5 582.3V607.8M422 583.1V608.6M422.5 582.9V608.9M423 582.4V610M423.5 584.1V609M424 584.2V609.9M424.5 584.5V609.5M425 584V611.3M425.5 584.6V610.3M426 584.6V614.7M426.5 584.8V612.5M427 585.9V613.4M427.5 585.5V613.5M428 584.8V613.2M428.5 585.8V613.1M429 585.8V613.5M429.5 587.2V612.7M430 587.4V614.6M430.5 587.3V614.3M431 587.5V614.3M431.5 587.6V614.1M432 587.3V615M432.5 588V616M433 588.9V615.3M433.5 588.2V615.4M434 588.8V616.8M434.5 589.3V616.9M435 586.4V617.3M435.5 589.4V618.3M436 589.4V617.8M436.5 590.1V617.9M437 592.5V619.3M437.5 591.1V617.9M438 591V620.2M438.5 592V620.2M439 591.9V620.9M439.5 591.6V619.8M440 590.8V619.8M440.5 592.9V621.4M441 590.6V628.6M441.5 593.1V621.8M442 593V622.2M442.5 593.4V628.6M443 593.7V621.7M443.5 592.4V622.1M444 593V622.1M444.5 592V623M445 594.9V624.5M445.5 594.7V624M446 595V624.1M446.5 595.3V622.7M447 595.9V623.1M447.5 595.4V624.7M448 596.6V625.2M448.5 597.5V624.8M449 598.1V626.2M449.5 598V633.2M450 595.7V626.2M450.5 597.6V631.7M451 596.8V627.6M451.5 598.4V627.7M452 597.5V627.9M452.5 597.2V629.5M453 596.5V627.9M453.5 597.9V627.6M454 599.6V633.5M454.5 598.9V627.4M455 600.4V627.4M455.5 599.6V630.2M456 599.8V631M456.5 599V629.9M457 600.3V628M457.5 600.5V631.5M458 598.4V630.2M458.5 602.8V637M459 600.6V633.6M459.5 600.3V632.3M460 602.2V632.3M460.5 602V630.7M461 602.7V631.1M461.5 602.2V633.3M462 602.5V643.5M462.5 601.6V633.8M463 604.5V633.3M463.5 602.7V634M464 603.1V633.8M464.5 603.8V634.8M465 602V637.3M465.5 602.1V640.3M466 602.9V638M466.5 602.8V635.6M467 602.2V637.7M467.5 604.2V636.9M468 605.8V638.2M468.5 604.1V635.2M469 605.6V637.1M469.5 604.2V639.1M470 604.5V638.8M470.5 605.3V644.4M471 606.5V641.3M471.5 604.9V641.7M472 606V642.6M472.5 607.7V639.4M473 606.1V649M473.5 607.6V639.4M474 604V644M474.5 607.5V641.4M475 608.8V639.2M475.5 607.2V643.1M476 605.8V642.4M476.5 608.2V640.5M477 609.1V641.9M477.5 609.9V651.5M478 607.4V641.2M478.5 610.1V642.1M479 600.8V654.8M479.5 606.4V649.7M480 610.3V644.9M480.5 608.5V644.4M481 606.9V647.6M481.5 611.4V651.1M482 610.4V646.4M482.5 611V652M483 611.1V648.4M483.5 610.8V655M484 610.6V650M484.5 612V646.6M485 610.6V651M485.5 611.7V649.9M486 613.4V651.4M486.5 614.5V648.8M487 609.9V650M487.5 614.1V649.5M488 610.1V649.7M488.5 606.5V654.6M489 612.8V655.2M489.5 607V653.3M490 613.2V652.3M490.5 615V659.1M491 613.6V652.2M491.5 611.9V654.5M492 615.7V654.3M492.5 614.4V655.7M493 613.6V653.3M493.5 614.1V659.6M494 616.4V655.9M494.5 616.6V654.6M495 611.3V654.4M495.5 616.1V659.6M496 617.7V659.4M496.5 615.3V656.8M497 615.3V658.8M497.5 612.8V656.9M498 615.7V659.6M498.5 616.9V654.7M499 615.3V659.6M499.5 614.6V659.6M500 616V659.6M500.5 617.7V657.5M501 615.9V659.6M501.5 618.5V659.6M502 617.8V658.3M502.5 618.7V659.6M503 618.7V659.6M503.5 617.7V659.5M504 612.9V659.5M504.5 618.5V659.6M505 619.3V659.6M505.5 617.8V659.1M506 619.5V659.6M506.5 617.5V659.6M507 619.7V658.8M507.5 615.8V659.2M508 618.5V658.1M508.5 619V659.6M509 619V659.6M509.5 620.5V659.6M510 612.8V659.6M510.5 619.6V659.6M511 619.7V659.6M511.5 620.4V657.5M512 620.3V659.6M512.5 620.7V659.3M513 620.9V659.6M513.5 614.4V659.6M514 620.7V659.6M514.5 621.4V659.6M515 621.7V659.6M515.5 621.5V659.6M516 621.9V659.6M516.5 622.3V659.6M517 619.8V659.5M517.5 621.7V659.6M518 624V659.6M518.5 623.8V659.5M519 622.2V659.6M519.5 622.5V659.6M520 613.3V659.6M520.5 623.4V658.8M521 622.8V659.6M521.5 623.4V659.6M522 623.4V659.6M522.5 622.4V659.6M523 618V659.6M523.5 624.4V659.6M524 623.9V659.6M524.5 625.6V659.6M525 623.5V659.6M525.5 625.5V659.6M526 617.8V659.5M526.5 626.1V659.6M527 624.2V659.6M527.5 624.1V659.6M528 624.8V659.6M528.5 627.3V659.6M529 626.5V659.6M529.5 615.8V659.6M530 626.6V659.6M530.5 620.4V659.6M531 619.4V659.6M531.5 627V659.6M532 623.1V659.6M532.5 626.8V659.6M533 627.7V659.3M533.5 627.5V659.5M534 627.7V659.6M534.5 628.6V659.6M535 629.1V659.6M535.5 628.9V659.6M536 629V659.6M536.5 615.1V659.6M537 628V659.6M537.5 629V659.6M538 627.3V659.6M538.5 620.6V659.6M539 620.5V658.9M539.5 628.8V658.7M540 629.7V659.6M540.5 628.5V659.6M541 622.6V659M541.5 629.3V659.6M542 630.1V659.6M542.5 632.8V659.6M543 631.2V659.3M543.5 627.6V659.6M544 631.1V659.6M544.5 623.3V659.1M545 633.5V659.6M545.5 633.4V659.6M546 632.8V659.6M546.5 625.4V659.6M547 633.8V659.6M547.5 634V658.3M548 633.4V659.6M548.5 633.6V659.6M549 633.7V659.6M549.5 634.9V658.9M550 635.4V659.6M550.5 634.7V659.5M551 628V659.6M551.5 632.9V659.6M552 635.8V659.6M552.5 634.2V659.6M553 634.5V659.6M553.5 633.6V659.6M554 628.5V659.6M554.5 623.8V659.6M555 633.6V659.6M555.5 633.7V659.6M556 629.6V659.6M556.5 630.4V659.6M557 635.1V659.6M557.5 633.8V659.6M558 634.4V659.6M558.5 634.8V659.6M559 635.9V659.6M559.5 623V659.6M560 634.7V659.6M560.5 630.9V659.1M561 635.6V659.6M561.5 626.5V659.6M562 634.9V659.2M562.5 635.4V658.8M563 635V659.4M563.5 637.1V659.6M564 635V659.6M564.5 636V658.2M565 634.3V659.6M565.5 634V658.5M566 635V659.6M566.5 634.5V659.6M567 633.5V659.6M567.5 630.9V659.5M568 629V658.9M568.5 635.5V659.5M569 630V659.6M569.5 635.3V659.6M570 635.1V659.6M570.5 629.6V659.2M571 636.3V659.6M571.5 635.9V659.6M572 626.4V659.6M572.5 634.8V659.3M573 635.7V659.6M573.5 635.6V659.6M574 635.2V659.5M574.5 634.1V659.6M575 633.9V659.6M575.5 634.3V659.6M576 634.6V659.6M576.5 635.9V659.6M577 627.5V659.4M577.5 636.6V659.6M578 635.5V659.6M578.5 635.4V659.6M579 632.7V659.6M579.5 635.3V659.6M580 635.5V659.6M580.5 634.2V659.6M581 635.6V659.6M581.5 636.7V659M582 635.4V659.6M582.5 630.1V659.6M583 628.7V659.2M583.5 635.6V659.6M584 635.7V659.6M584.5 634.1V659.6M585 634.8V659.6M585.5 636.2V659.6M586 635.3V659.6M586.5 635.2V659.6M587 628.3V659.5M587.5 631.3V659.6M588 634.3V659.6M588.5 635.6V659.6M589 635V659.6M589.5 622.3V659.6M590 626.4V659.6M590.5 634V659.6M591 635.5V659.6M591.5 635.7V659.6M592 635.9V659M592.5 636.9V659.6M593 634.8V659.6M593.5 634.8V659.6M594 634.7V659.6M594.5 633.4V659.6M595 628.5V659.6M595.5 636.2V659.6M596 635.9V659.6M596.5 635V659.6M597 635.7V659.6M597.5 635.9V659.6M598 634.8V659.6M598.5 626.5V659.6M599 637V659.6M599.5 627.1V659.4M600 636.5V659.6M600.5 632.3V658.9M601 630.4V658.9M601.5 635.5V659.3M602 637.1V659.6M602.5 635.2V659.6M603 635.7V659.6M603.5 636V659.6M604 636.2V658.9M604.5 636.3V659.6M605 635.7V659.6M605.5 631.5V659.6M606 635.9V659.6M606.5 635.7V659.6M607 635.9V659.6M607.5 635.4V659.6M608 630V659.2M608.5 635.7V659.6M609 634.4V659.6M609.5 636.6V659.6M610 637.5V659.6M610.5 631.5V659.6M611 635.5V659.6M611.5 635.8V659.6M612 636.3V659.6M612.5 637.7V659.6M613 636.9V659.6M613.5 636.6V659.6M614 635.3V658.8M614.5 635.9V659.6M615 634.6V659.6M615.5 635.3V659.6M616 636.1V659.6M616.5 636.4V659.6M617 637.1V659.6M617.5 635.4V659.6M618 635.3V659.6M618.5 636.9V659.6M619 636V659.6M619.5 637.8V659.6M620 636.7V659.6M620.5 636.3V659.6M621 637.7V659.4M621.5 636.3V659.6M622 634.5V659.6M622.5 635.1V659.6M623 637.3V659.6M623.5 632V659.6M624 636V659.6M624.5 637.7V659.6M625 635.3V658.8M625.5 636.7V659.6M626 625.6V659.6M626.5 636.8V659.6M627 630.3V659M627.5 636.3V659.6M628 636V659.6M628.5 630V659.6M629 635.4V659M629.5 636.6V659.6M630 636.9V659.6M630.5 636V659.6M631 638.1V659.6M631.5 637.5V659.6M632 637.6V659.6M632.5 635.6V659.6M633 636.8V659.6M633.5 635.6V659.6M634 636.2V659.6M634.5 635.2V659.6M635 637.8V659.3M635.5 636.6V659.6M636 636.4V659.6M636.5 636V659.5M637 635.8V659.6M637.5 628.4V659.6M638 630.6V659.6M638.5 635.3V659.5M639 636.2V659.6M639.5 637V658.6M640 636.7V659.6M640.5 635.4V659.2M641 635.2V659.6M641.5 635.7V659.6M642 638.4V659.6M642.5 634.9V659.6M643 637.1V659.6M643.5 636.7V659.6M644 637.1V659.6M644.5 634.3V659.6M645 637.5V659.6M645.5 637.7V659.3M646 635.4V659M646.5 636.5V659.6M647 636.9V659.6M647.5 637.4V659.6M648 628.7V659.6M648.5 637.8V659.5M649 636.4V658.5M649.5 636V659.6M650 636.5V659.6M650.5 635.3V659.1M651 636.8V659.6M651.5 634.3V659.6M652 637.5V659.6M652.5 632.7V659.6M653 638.1V659.6M653.5 638V659.6M654 635.8V659.6M654.5 636.8V659.6M655 636V659.6M655.5 634.8V659.6M656 632.8V659.6M656.5 637.8V659M657 636.4V659.6M657.5 633.6V659.6M658 635.1V659.1M658.5 627.9V659.6M659 636.7V659.6M659.5 636.3V659.6M660 636.6V659.6M660.5 637.2V658.5M661 637.5V659.5M661.5 637.1V659.6M662 635.8V659.6M662.5 637.4V659.6M663 636.5V659.6M663.5 631V659.6M664 638.2V659.6M664.5 630.7V659.6M665 627.7V659.3M665.5 627.6V659.6M666 636.3V659.2M666.5 637V659.6M667 636.7V659.6M667.5 637.3V659.6M668 631.5V659.6M668.5 631.3V659.6M669 638.8V659.6M669.5 637.5V659.6M670 628.7V659.6M670.5 636.8V659.6M671 637.3V659.6M671.5 628.8V659.6M672 637.1V658.7M672.5 634.5V659.6M673 625.9V659.6M673.5 639.3V659.6M674 637.1V659.6M674.5 636.3V659.6M675 637.9V659.6M675.5 637.3V659.6M676 636.9V659.6M676.5 636.9V659.6M677 636.7V659.6M677.5 636.5V658.2M678 636V659.6M678.5 637.9V659.6M679 635.7V659.6M679.5 635.6V659.6M680 638.8V659.6M680.5 638.1V659.6M681 625.6V657.9M681.5 637.4V659.6M682 626.6V659.6M682.5 636V658.4M683 637.2V659.6M683.5 638.7V659.3M684 637.6V659.6M684.5 627.2V659.6M685 638.4V659.6M685.5 628.2V659.6M686 637.4V659.6M686.5 638.8V659.6M687 637.5V659.6M687.5 637.1V658.6M688 637.8V659.5M688.5 635.7V659.6M689 637.8V659.3M689.5 637.5V659.6M690 637V659.6M690.5 637.2V659.6M691 636.4V659.6M691.5 623.8V659.6M692 638.5V659.2M692.5 637.1V659.6M693 636V659.6M693.5 636.7V659.6M694 626.7V659.6M694.5 637.9V659.6M695 636.7V659.6M695.5 636.5V659.6M696 636.4V659.6M696.5 638.6V659.6M697 638.4V659.6M697.5 638.2V659.6M698 637.5V659.2M698.5 635.5V659.2M699 636.3V659.6M699.5 637.6V659.6M700 638.5V659.6M700.5 638.2V659.6M701 634.4V659.2M701.5 637.9V659.6M702 626.7V659.6M702.5 636.9V659.6M703 637.7V658.9M703.5 638.2V659.6M704 634.4V659.6M704.5 638.3V659.6M705 637V659.6M705.5 637V659.6M706 637.8V659.6M706.5 631.2V659.6M707 638V659.6M707.5 637.5V659.6M708 636.6V659.6M708.5 630.7V659.6M709 637V659.6M709.5 637.6V659.4M710 637.9V659.6M710.5 638.9V658.9M711 630.3V659.6M711.5 631.3V659.6M712 637.7V659.6M712.5 637.7V659M713 636.6V659.2M713.5 639.1V659.6M714 638.3V659.2M714.5 639.3V659.1M715 640.1V659.6M715.5 636.5V659.6M716 638.7V659.6M716.5 639V659.6M717 636.5V657.8M717.5 639V659.6M718 638.2V659.2M718.5 638.8V659.6M719 638.1V659.6M719.5 638V659.5M720 632.3V659.6M720.5 638.4V659.6M721 638.1V659.6M721.5 635.3V659.6M722 635.5V659.6M722.5 638.1V659.6M723 638.4V659.6M723.5 638.8V658.7M724 640V659.6M724.5 638.6V659.6M725 636.4V659.6M725.5 633.2V659.6M726 638.3V659.4M726.5 637.7V659.6M727 638.2V659.6M727.5 634V658.8M728 633.7V659.6M728.5 632.4V659.6M729 636.4V659M729.5 637V659.6M730 638.8V659.6M730.5 638.4V659.6M731 637.6V659.6M731.5 638.4V659.6M732 637.5V659.5M732.5 636.3V659.6M733 637.7V659.6M733.5 634V659.6M734 639V659.6M734.5 638.1V659.6M735 638.4V659.6M735.5 636.5V659.6M736 638.2V658.9M736.5 639.2V659.6M737 638.3V658.7M737.5 637.8V659.3M738 637V659.6M738.5 637.6V659.6M739 638.9V659.6M739.5 626V659.6M740 637.3V659.6M740.5 631.8V659.6M741 637.6V659.4M741.5 638.9V659.6M742 638.4V659.2M742.5 636.4V659.6M743 637V658.2M743.5 635.7V659.6M744 638.4V659.6M744.5 636.7V659.6M745 639.2V658.3M745.5 637.8V659.6M746 626.7V659.6M746.5 638.4V659.6M747 636.9V659.3M747.5 638.3V659.6M748 638.2V659.6M748.5 637.2V659.6M749 636.5V659.4M749.5 637.6V658.8M750 637.8V659.6M750.5 629.1V659.6M751 637.7V659.6M751.5 637.7V659.6M752 636.9V659.6M752.5 637.8V659.6M753 637.6V659.6M753.5 637.8V659.6M754 637.1V659.6M754.5 632.5V659.6M755 634.1V659.6M755.5 638.1V658.7M756 634.9V659.6M756.5 634.5V659.6M757 626.6V659.6M757.5 637.3V659.6M758 639.5V659.6M758.5 639.1V658.7M759 638.6V659.6M759.5 638.3V659.6M760 638.9V659.6M760.5 637.8V659.6M761 636.8V659.6M761.5 638.6V659.6M762 638.6V659.6M762.5 636.1V659.6M763 637.2V658.7M763.5 636.4V659.6M764 638.2V659.6M764.5 637.6V659.6M765 626.8V659.6M765.5 637.5V659.6M766 638.7V659.6M766.5 639.6V659.6M767 638.6V659.6M767.5 638.3V659.6M768 637.2V659.6M768.5 637.4V659.2M769 630.1V659.6M769.5 638.6V659.6M770 632V659.3M770.5 638.6V659.6M771 638V658.9M771.5 637.7V659.6M772 632.5V659.6M772.5 640V659.6M773 637.9V659.6M773.5 636.9V659.6M774 637.9V659.6M774.5 633.8V659.6M775 628.1V659.6M775.5 639.6V659.6M776 637.2V659.6M776.5 637.3V657.8M777 638.7V659.6M777.5 637.9V659.3M778 637.7V659.6M778.5 633.1V659.6M779 638V659.6M779.5 638V659.6M780 637.2V658.9M780.5 639V659.6M781 637.9V659.6M781.5 639.6V659.6M782 638.4V659.4M782.5 638.6V659.6M783 638.2V659.6M783.5 636.9V659.6M784 636.8V659.3M784.5 637.8V659.6M785 638.1V659.6M785.5 637.4V659.5M786 637.3V659.6M786.5 638.3V659.6M787 639.1V659.6M787.5 637.1V659.5M788 639.7V659.6M788.5 639.3V659.2M789 638.7V659.6M789.5 637.7V659.2M790 638.6V659.6M790.5 632.3V659.6M791 639V659.6M791.5 639.9V659.6M792 638V659.6M792.5 626.5V659.6M793 637.4V659.5M793.5 631.7V659.6M794 629.7V659.6M794.5 630.3V659.6M795 639.7V659.6M795.5 637.8V658.9M796 637.2V659.6M796.5 637.6V659.6M797 637.9V658.6M797.5 637.7V659.6M798 639.7V659.6M798.5 637.5V659.6M799 633.4V659.6M799.5 637V659.4M800 630.9V659.6M800.5 638.8V659.6M801 633.2V659.6M801.5 637.8V659.6M802 636.8V659.6M802.5 637.5V659.6M803 637.6V658.9M803.5 638.6V659.6M804 636.6V659.6M804.5 638.1V658.1M805 639V659.6M805.5 638V659.6M806 639.5V658.9M806.5 638.2V659.6M807 637.8V659.6M807.5 629.9V659.6M808 637.6V659.6M808.5 636.7V659.6M809 639.3V659.6M809.5 637.8V659.6M810 639.7V659.3M810.5 636.9V659.6M811 634.5V659.6M811.5 635.3V659.6M812 633.9V659.6M812.5 638.1V659.6M813 623.9V659.6M813.5 637.9V659.6M814 638.5V659.6M814.5 637.4V658M815 638V658.8M815.5 637.8V659.6M816 639.2V659.6M816.5 637.4V659.6M817 635.7V659.6M817.5 635.5V659.6M818 639.3V659.6M818.5 637.2V659.6M819 630.8V658.4M819.5 637.4V659.6M820 629.8V658.9M820.5 639.1V659.6M821 637.5V659.6M821.5 637.5V659.1M822 638.7V659.6M822.5 637.3V659.6M823 638.9V659.6M823.5 638.4V659.6M824 637.9V659.5M824.5 639.2V659.6M825 629.5V659.1M825.5 638.2V659.6M826 636.7V659.4M826.5 635.4V659.6M827 639.2V659.6M827.5 638.6V659.6M828 639V659.6M828.5 635.6V659.6M829 631.1V659.6M829.5 638.1V659.6M830 636.5V659.6M830.5 627.3V659.6M831 627.6V659.6M831.5 638V659.6M832 628.8V659.6M832.5 638.3V659.6M833 639.4V659.6M833.5 638.9V659.6M834 638.4V659.6M834.5 636.8V659.6M835 636.6V659.6M835.5 638V659.6M836 635.6V659.6M836.5 639.4V659.6M837 639.4V659.6M837.5 629V659.6M838 636.9V659.6M838.5 639V659.6M839 638.7V659.6M839.5 638.9V659.6M840 638.6V659.6M840.5 636.2V659.6M841 638V659.6M841.5 638.3V659.6M842 635.8V659M842.5 638.8V659.6M843 637.9V659.1M843.5 637.9V659.6M844 627.1V659.6M844.5 633.3V659.6M845 638.5V659.6M845.5 627.6V659.6M846 636.1V659.6M846.5 626.2V659.1M847 639.3V659.6M847.5 632.2V659.6M848 638.1V659.6M848.5 628.8V659.6M849 634.4V659.6M849.5 631.7V659.6M850 636.8V659.4M850.5 637.4V659.6M851 638.2V657.7M851.5 638.4V659.6" stroke="#0000ff" stroke-width="1" fill="none"/>
<path d="M317 671.5V682.6M317.5 672.5V683.8M318 673.9V685.1M318.5 674.4V687.7M319 675.4V688.9M319.5 676.6V690.4M320 677.2V692.1M320.5 677.7V693.8M321 679V694.9M321.5 679.8V695.8M322 680.8V697M322.5 681.5V697.7M323 681.9V698.4M323.5 682.7V699.4M324 683.3V699.4M324.5 684.3V700.5M325 684.8V702M325.5 685.6V702.7M326 684.6V703.2M326.5 687.1V704.2M327 688V704.8M327.5 688.5V705.7M328 689.7V706.1M328.5 689.7V706.4M329 690V707M329.5 690.8V707M330 690.5V708.1M330.5 691.6V709M331 691.4V708.9M331.5 692.4V709.4M332 692.4V709.6M332.5 693.3V710.2M333 693.6V710.1M333.5 694.3V710.8M334 694.2V712.6M334.5 694.2V712.4M335 694.8V712.5M335.5 695.6V713.3M336 696V713.2M336.5 696.3V714.1M337 697V714.5M337.5 696.8V714.9M338 697V714.6M338.5 697.7V715.7M339 698.4V716.1M339.5 698.4V716.5M340 699.2V717.4M340.5 699.7V717.2M341 699.4V717.5M341.5 700.8V718.7M342 700.1V718.9M342.5 700.8V721M343 702.1V719.1M343.5 701.7V720M344 702.1V720.3M344.5 701.8V720.6M345 702.7V721.5M345.5 703.1V721.7M346 704.2V722.7M346.5 704.4V722.9M347 704.6V723.3M347.5 704.7V724.4M348 705V723.4M348.5 705.6V724.6M349 705.1V725.1M349.5 705.7V725.2M350 706.3V725.6M350.5 706.6V725.4M351 707.2V726.4M351.5 707.2V726.5M352 707.2V727.3M352.5 707.8V727.9M353 708V728M353.5 708.8V729.2M354 709V729.4M354.5 710.5V728.8M355 709.9V729.8M355.5 709.8V729.6M356 711.5V730.2M356.5 711.5V730.4M357 710.9V731.3M357.5 712V732.3M358 713.3V735.7M358.5 711.9V732.5M359 712.9V732.7M359.5 713.3V732.8M360 712.8V733.4M360.5 714.1V734.6M361 714.3V734.4M361.5 715.1V734.3M362 714.7V735.5M362.5 715.8V735.4M363 714.8V735.9M363.5 716.6V736M364 715.8V737M364.5 716.9V736.7M365 716.8V738M365.5 717.5V738M366 718.2V738.5M366.5 718.7V739.7M367 718.4V741.7M367.5 719.1V739M368 718.6V739.2M368.5 719V739.1M369 719.3V740.9M369.5 720.2V740.7M370 719.2V741.5M370.5 720V741.4M371 720.5V741.9M371.5 720.6V742.9M372 721.4V742.7M372.5 721.6V742.8M373 721.7V743.1M373.5 721.9V743.4M374 722.4V743.9M374.5 722.4V744.8M375 723V744.8M375.5 724.3V744.7M376 723.8V745.1M376.5 724.2V746M377 724.3V745.7M377.5 724.8V746.5M378 724.7V747.1M378.5 724.7V747.9M379 725.6V748.2M379.5 725.6V749M380 726.4V748.8M380.5 727V749.3M381 726.4V749.4M381.5 727.4V749.4M382 727.3V749.5M382.5 724.1V750.5M383 728.2V750.3M383.5 728.1V751.2M384 729.1V751M384.5 728.9V751.9M385 728.7V752.6M385.5 730.5V752.6M386 730.1V752.9M386.5 730.1V752.9M387 729.9V753.3M387.5 731.8V753.8M388 730.7V754.2M388.5 731.4V754.4M389 732V755.4M389.5 732.2V754.9M390 732V756.1M390.5 733.2V755.7M391 732.4V756.2M391.5 733.4V756.5M392 733.4V758.1M392.5 733.3V757.6M393 733.4V758.1M393.5 735.1V758.8M394 733.6V759.2M394.5 734.6V759.6M395 734.9V759.3M395.5 735.5V759.8M396 735.4V760.5M396.5 735.5V760.4M397 736.6V761.2M397.5 736.6V760.9M398 736.2V761.5M398.5 737V761.3M399 736.8V763M399.5 738.1V762.2M400 737.7V763.1M400.5 738.6V763.7M401 738.6V764.7M401.5 738.9V764.8M402 738V765.7M402.5 739.1V765.1M403 739.3V765.5M403.5 740.7V765.6M404 740.3V766.9M404.5 740.9V766.3M405 741.6V767.4M405.5 741.7V766.8M406 740.1V767M406.5 741.4V768.1M407 741.4V769.4M407.5 741.7V769.2M408 742V768.6M408.5 742V769M409 742.3V770.7M409.5 743.5V769.6M410 743.6V770.3M410.5 743V770.4M411 743.4V770.8M411.5 742.9V772.7M412 743.8V771.6M412.5 744.6V772.2M413 745.4V773.9M413.5 745.5V773.3M414 745.5V773.6M414.5 746.1V774.1M415 745.2V774M415.5 745.9V774.6M416 741.9V773.9M416.5 747.1V775.4M417 746.8V776.6M417.5 747.3V776.1M418 748.3V775.2M418.5 747.1V777.3M419 747.8V778.5M419.5 747.6V777.2M420 747.5V777.8M420.5 748.7V778M421 749.6V778.8M421.5 749.3V778.6M422 749.4V778.8M422.5 750V778.4M423 750.4V780.4M423.5 751.4V779.5M424 749.7V779.9M424.5 746.2V780.8M425 751.1V780.6M425.5 751V781M426 748.4V781.3M426.5 751.6V782.6M427 752.2V783M427.5 751.6V786.6M428 753.3V782.7M428.5 753.9V783.6M429 751.9V782.3M429.5 752.8V783M430 753.6V783.5M430.5 753.2V784.3M431 753.5V785.3M431.5 754.4V785.5M432 756V784.8M432.5 754.8V787.2M433 753.2V786.1M433.5 753.3V785M434 755.4V785.4M434.5 756V790M435 756V786.4M435.5 756V788.1M436 755.9V785.4M436.5 755.4V790.4M437 757.5V788M437.5 757.4V789.6M438 755.9V791.3M438.5 757.9V789.6M439 751.8V790.4M439.5 758.1V789M440 757.1V789.5M440.5 757.6V789.9M441 757.7V790.1M441.5 759V791M442 759.5V792.4M442.5 760V792.2M443 756.7V793.1M443.5 760.2V793.1M444 761.2V793.9M444.5 761.6V794.1M445 761.9V794.3M445.5 761.3V793.9M446 762V794.2M446.5 761.3V793.9M447 762.8V799.2M447.5 762.2V798.3M448 763.3V797.3M448.5 761.5V799.6M449 762.6V796.8M449.5 763.2V795M450 763V796.1M450.5 764.3V796.3M451 764.6V797.9M451.5 763.5V797.1M452 763.4V799.9M452.5 764V798.2M453 763.6V798M453.5 758.9V798.7M454 764.7V800.7M454.5 766.3V799.4M455 761.8V801M455.5 764.4V805.3M456 766.3V800.8M456.5 766V801.6M457 765.9V800.9M457.5 769.4V802.9M458 766.8V808.4M458.5 767.4V802.5M459 766.3V808.7M459.5 767.1V800M460 765.4V802.6M460.5 768.7V802.7M461 761.9V811.3M461.5 767.5V803.1M462 765V804.9M462.5 767.6V805.2M463 764.9V804.6M463.5 763.9V805.9M464 763.5V815.4M464.5 769.7V807.5M465 768.7V807.1M465.5 769.5V805.8M466 768.6V806.3M466.5 770.3V807.1M467 768.3V806.8M467.5 769.7V816.8M468 770.2V807.4M468.5 769.3V805.9M469 772.2V817.1M469.5 771.5V809M470 773.6V811M470.5 772.1V811M471 770.8V810.4M471.5 772.6V810.9M472 769.8V810.4M472.5 771.8V811.4M473 768.9V813.3M473.5 771V818.4M474 773.7V814M474.5 773V820.4M475 773.6V812.7M475.5 772.2V810.6M476 775.3V812M476.5 774.6V814.9M477 773.7V825.1M477.5 774.7V813.9M478 775.6V814.3M478.5 774.2V816.4M479 775.7V816.7M479.5 774.3V820.4M480 772.7V815.7M480.5 772V823.7M481 775.8V816.9M481.5 774.2V819.1M482 776.9V825.4M482.5 776.1V815.2M483 776.2V818M483.5 777.3V818.2M484 773.8V817.3M484.5 776.4V817.5M485 776.1V817.1M485.5 777.8V825.4M486 777V819.5M486.5 778.8V819.5M487 779.6V823.3M487.5 777.3V821.6M488 774.9V825.4M488.5 777.2V820M489 779.5V822.6M489.5 778.8V825.4M490 779.8V821.9M490.5 778.5V818.9M491 779.7V822.2M491.5 776.3V823.2M492 776.2V821.7M492.5 772.4V823.4M493 770.9V818.9M493.5 778.9V823.1M494 780V824.5M494.5 780.2V825.4M495 780.5V825.4M495.5 780V825.4M496 779.3V822.4M496.5 779.6V822.2M497 781.3V825.4M497.5 778.2V825.1M498 779V824.8M498.5 778.6V825.2M499 782.2V825.4M499.5 779.4V824M500 781V825.4M500.5 782.9V825.1M501 776.9V825.4M501.5 781.5V825.4M502 780.2V825.4M502.5 775V825.4M503 781V825.4M503.5 782.5V825.1M504 781.5V825.4M504.5 779.9V825.4M505 781.4V825.4M505.5 781.2V825.4M506 776.1V824.7M506.5 782.9V824.8M507 779.6V825.4M507.5 774.8V825.2M508 781.7V825.4M508.5 780.9V824.6M509 781.7V825.4M509.5 781.2V825.4M510 782.6V824.8M510.5 781.9V825.3M511 782.6V825.4M511.5 783.5V825.4M512 781V825.4M512.5 783.6V825.4M513 781.2V825.4M513.5 783.2V825.4M514 783.5V825.4M514.5 784.5V825.3M515 783V824.6M515.5 783.9V825.4M516 778.8V825.4M516.5 784.3V825.4M517 781.4V825M517.5 782.9V825.4M518 780V825.2M518.5 777.9V825.4M519 781.6V825.4M519.5 785.9V825.4M520 782.6V825.4M520.5 784V825.4M521 784.8V825.4M521.5 783.7V825.4M522 780.7V823.5M522.5 782.9V825.4M523 784.2V825.4M523.5 777.7V825.4M524 783.1V825.4M524.5 785.3V825.1M525 783.9V825.4M525.5 777.4V825.4M526 784.8V825.4M526.5 784.7V825.1M527 781.8V824.3M527.5 785.2V825M528 777.7V825.4M528.5 783V825.4M529 785V825.4M529.5 784.5V825.4M530 780.5V824.5M530.5 784.7V825.4M531 785.2V825.4M531.5 786.6V825.4M532 784.7V825.4M532.5 784.2V825.4M533 786.7V825.4M533.5 786.3V825.4M534 782.6V825.4M534.5 786.3V825.4M535 785.3V825.4M535.5 783.1V825.4M536 778.1V825.1M536.5 786.2V825.4M537 778.1V825.2M537.5 786.3V825.4M538 781.2V825.4M538.5 784.9V824.3M539 786V825.4M539.5 785V825.4M540 785.8V825.4M540.5 786.1V825.4M541 787.1V825.4M541.5 789V825.4M542 786.8V825.4M542.5 787.1V824.8M543 787.5V825.2M543.5 788.3V825.4M544 777.7V825.4M544.5 790.5V824.8M545 784.5V825.4M545.5 787.6V825.4M546 782.1V824.5M546.5 791.7V824.6M547 792.8V825.4M547.5 791.9V825.4M548 791.7V825.4M548.5 794.9V825.4M549 786.3V825.4M549.5 793.3V825.4M550 786.5V825.4M550.5 792.2V825.4M551 792.2V823.7M551.5 792.9V824.8M552 791.3V825.4M552.5 792.2V825.4M553 784.7V825.4M553.5 793.5V825.4M554 793.2V825.4M554.5 791.2V825.4M555 792.5V825.4M555.5 793.3V825.4M556 788.8V823.5M556.5 792.3V825.4M557 793.6V825.4M557.5 789.6V825.4M558 792.7V825.4M558.5 793.7V824.1M559 788.3V824.3M559.5 788.8V825.4M560 784.8V824.7M560.5 793.8V825.4M561 793.1V825.4M561.5 790.9V825M562 792.5V825.4M562.5 791.8V825.3M563 793.4V825.4M563.5 794.2V823.6M564 791.5V824.6M564.5 789.9V825M565 794.1V824.7M565.5 793.5V825.4M566 791.1V825.1M566.5 792.4V825.4M567 794.7V824.9M567.5 792V823.7M568 793.7V825.4M568.5 792.4V825.4M569 795.4V824M569.5 788.8V825.4M570 793.9V825.4M570.5 792.1V825.4M571 785.5V825.4M571.5 794.9V825.4M572 791.8V825.4M572.5 791.3V825.4M573 794.7V824.6M573.5 794.1V824.5M574 792.1V823.7M574.5 790.1V825.4M575 790.9V825.4M575.5 793.4V824.4M576 793.6V825.4M576.5 791.7V825.4M577 792.7V825.4M577.5 792.2V823.9M578 793V825.4M578.5 788.2V825.3M579 792.8V825.4M579.5 794V825.4M580 793.6V824.7M580.5 792.5V825.4M581 788.3V825.4M581.5 794.9V825.4M582 793V825.1M582.5 793.3V824.7M583 788.3V825.4M583.5 793.1V825.4M584 793.9V825.4M584.5 795.1V825.4M585 794V824.8M585.5 794.7V825.4M586 792.8V824.7M586.5 794.2V825.4M587 793.7V825.4M587.5 795.4V825.4M588 788.1V824.7M588.5 788.5V825.1M589 787.7V823.2M589.5 794.5V823.4M590 792.1V824.9M590.5 795.1V825.4M591 793.8V824.9M591.5 793.9V825.4M592 794.2V825.4M592.5 795.4V824.6M593 793.4V825.4M593.5 795.1V824.3M594 791.3V825.4M594.5 795.5V825.4M595 794.3V825.4M595.5 795.3V825.4M596 793.8V825.4M596.5 795.1V825.4M597 788.3V823.9M597.5 790.2V825.4M598 792.9V823.6M598.5 794.6V825.4M599 795.7V825.3M599.5 796.3V825.4M600 794.8V824.7M600.5 796.2V825.4M601 795.1V825.4M601.5 793.1V825.4M602 797.6V825.4M602.5 789.7V823.2M603 794.3V825.4M603.5 797.2V825.1M604 792.8V825.4M604.5 794.7V825.4M605 795.6V824.5M605.5 795V825.4M606 795.8V823.9M606.5 795V825.1M607 795.9V825.4M607.5 794.2V823.9M608 795.3V823.6M608.5 788.7V825.4M609 794.9V825M609.5 795.3V825.4M610 789V825.4M610.5 795.1V825.4M611 793.1V825.4M611.5 789.9V825.4M612 795.4V825.4M612.5 794.4V825.4M613 796.7V825.4M613.5 795.6V825.4M614 787.4V825.3M614.5 796.3V825.4M615 786.4V825.4M615.5 794V825.4M616 795.9V825.4M616.5 788.2V824.4M617 796.1V824.5M617.5 795.9V825.4M618 795.2V825.4M618.5 795.9V823.9M619 794.1V824.9M619.5 794.8V825.4M620 793.1V825.4M620.5 795.2V825.4M621 796.6V825.4M621.5 793.2V825.4M622 794.9V824M622.5 790.8V825.4M623 794.9V825.4M623.5 794.9V825.4M624 797.1V825.4M624.5 795.5V824.5M625 796.3V825.4M625.5 791.5V825.4M626 795.1V825.4M626.5 789.9V825.4M627 794.6V824.9M627.5 795.6V825.4M628 793.7V824.8M628.5 795V825.4M629 788.5V825.4M629.5 795.9V825.1M630 793.4V825.4M630.5 795.3V825.4M631 795.4V825.4M631.5 796.3V825.4M632 793.2V825.4M632.5 796.4V825.4M633 795.2V825.4M633.5 793.6V825.4M634 796.6V825.4M634.5 796.1V825.4M635 791.7V825.4M635.5 791.8V823.9M636 794.9V824.6M636.5 796.3V824.8M637 788.1V825.4M637.5 795.7V825.3M638 793V825.1M638.5 795V825.4M639 794.3V825.4M639.5 794.9V825.4M640 795.8V824.5M640.5 794.7V823.3M641 795.7V824.7M641.5 796.4V825.4M642 788.8V825.4M642.5 796.6V825.4M643 796V825.4M643.5 796.6V825.4M644 795.7V825.4M644.5 795.1V824.6M645 795.3V825.4M645.5 794.7V825.3M646 794.9V825.4M646.5 787.4V825.4M647 795.7V825.4M647.5 794.8V825.4M648 797.3V825.4M648.5 796.9V825.4M649 794.8V825.4M649.5 792.4V825.4M650 796.3V825.4M650.5 796.9V825.4M651 793.8V825.4M651.5 795.1V825.4M652 796.1V824.7M652.5 790.9V825.4M653 790V823.3M653.5 795.9V825.4M654 795.7V825.4M654.5 795.7V825.2M655 793.1V824M655.5 795.2V825.4M656 794.6V825.4M656.5 796.9V824.8M657 792.6V825.4M657.5 795.2V825.4M658 795.5V825.4M658.5 789.5V823.9M659 796V825.4M659.5 796.9V825.4M660 796.7V825.4M660.5 797V825.4M661 795.1V825.4M661.5 789V825.4M662 789V825.4M662.5 794.9V823.5M663 797.1V825.4M663.5 795.9V825.4M664 796.9V825.4M664.5 795.9V823.4M665 788.4V825.4M665.5 794.9V825.4M666 788V824.8M666.5 795.5V824.4M667 792.9V824.9M667.5 793.4V825.4M668 796.2V825.4M668.5 796.1V825.4M669 795.7V824M669.5 793.7V825M670 793.9V825.4M670.5 796.1V825.4M671 792.8V825.4M671.5 795.5V823.7M672 796.2V824.8M672.5 794.7V825.4M673 790.6V825.4M673.5 795.4V825.4M674 795.2V823.1M674.5 796.8V825.4M675 794.7V825.4M675.5 787.9V825.4M676 797.5V825.4M676.5 795.5V825.4M677 797V824.6M677.5 795V824.9M678 793.9V825.4M678.5 796.3V825.4M679 795.6V825.4M679.5 798.2V824.5M680 794.4V824.4M680.5 794.3V825.4M681 794.9V824.6M681.5 796.1V825.4M682 795.8V825.2M682.5 796.1V825.4M683 795.2V824.1M683.5 795.2V825.4M684 794.6V823.9M684.5 796.3V825.3M685 789.7V825.4M685.5 796.8V824.6M686 796.3V825.4M686.5 794.2V825.4M687 796.1V825.4M687.5 795.1V824.9M688 795.8V825.4M688.5 796.5V825.4M689 790.3V825.4M689.5 796.1V824.7M690 796.4V825.4M690.5 794.7V825.4M691 793.8V825.4M691.5 795.1V824.9M692 798.5V825.4M692.5 795.6V825.4M693 794.9V825.4M693.5 797.2V824.8M694 796.5V825.4M694.5 795.2V825.4M695 790.8V825.4M695.5 794.8V824.6M696 796.3V825.4M696.5 794.7V825.4M697 794.6V825.4M697.5 796.8V825.4M698 796.6V824.6M698.5 795V823.6M699 797.3V824.6M699.5 795V824.2M700 795.5V825.4M700.5 796.4V825.4M701 797.7V825.4M701.5 796.1V825.4M702 796.7V825.4M702.5 795.4V824.8M703 795.6V825.4M703.5 795.9V825.4M704 794.4V825.4M704.5 795.9V825.4M705 795.2V825.4M705.5 795.6V824.6M706 798.1V825.4M706.5 796.9V823.7M707 795V825.4M707.5 794.8V825.4M708 790.6V825.4M708.5 796.1V825.4M709 794.7V825.4M709.5 795.7V825.4M710 796.4V825.4M710.5 794.8V825.4M711 798.4V825.4M711.5 795.5V825.4M712 795.6V825.4M712.5 794.2V824.3M713 794.9V824.4M713.5 795.1V825.4M714 795.4V825.4M714.5 795.5V825.4M715 793.1V824.4M715.5 787.5V824.8M716 792.5V825.4M716.5 793.8V825.4M717 790.9V825.4M717.5 795V824.6M718 795.9V825.4M718.5 797.6V825.4M719 794.5V824.9M719.5 796.3V825.4M720 794.8V825.3M720.5 795.4V825.4M721 795.4V825.4M721.5 793.9V825.4M722 795V825.4M722.5 795.3V825.4M723 796.1V825.1M723.5 795.8V824.2M724 796.3V825.4M724.5 795V824.3M725 794.6V825.4M725.5 794.6V825M726 791.4V825.1M726.5 792.1V825.4M727 795.9V825.4M727.5 794.3V824.3M728 796.4V824.5M728.5 795.7V825.4M729 794.2V825.4M729.5 792.8V825.4M730 793.1V825.4M730.5 795.2V825.4M731 796.8V825.4M731.5 790.4V825.4M732 788.7V825.4M732.5 794.5V825.4M733 795.1V824.5M733.5 797.5V825.4M734 795.5V824.4M734.5 797.3V825.4M735 795.6V825.4M735.5 797.7V825.4M736 795.8V823.4M736.5 788.5V825.4M737 795.9V825.4M737.5 796.5V825.3M738 796.4V823.9M738.5 796.2V825.4M739 793.5V824.4M739.5 797.8V825.4M740 794.5V825.4M740.5 793.5V825.4M741 794.3V825.4M741.5 793.9V825.4M742 795.7V825.4M742.5 796V825.4M743 796.7V825.4M743.5 796.4V825.2M744 797.4V825.3M744.5 795V825.4M745 793.2V825.4M745.5 795.6V825.4M746 797.9V825.1M746.5 797V825.4M747 795.7V825M747.5 794.1V825.4M748 795.2V825.4M748.5 794.1V825.4M749 790.5V825.4M749.5 794.6V825.4M750 797.3V825.4M750.5 795.6V824.9M751 794V824.4M751.5 796.4V825.4M752 794.9V824.3M752.5 797.3V825.4M753 794V825.4M753.5 788.4V825.1M754 794.3V824.3M754.5 791.8V823M755 797.8V825.4M755.5 796.4V825.4M756 788.2V825.4M756.5 793.5V824.5M757 795.6V825.4M757.5 798.3V825.4M758 797.3V825.4M758.5 792V825.4M759 796.9V825.4M759.5 795.1V825.4M760 793V824.5M760.5 796.6V825.4M761 797.6V825.4M761.5 794V823.9M762 790.6V825.4M762.5 797.2V824.8M763 796.5V823.5M763.5 795.3V825.3M764 798.6V823.2M764.5 795.1V825.4M765 795.5V824.8M765.5 791.5V823.9M766 797.5V825.4M766.5 795.3V824.2M767 797.2V825.4M767.5 795.7V825.4M768 796.4V825.4M768.5 795.7V824.2M769 796.6V825.4M769.5 797.5V825.4M770 793.2V825.4M770.5 797.3V824.7M771 798.4V825.4M771.5 795.1V825.4M772 797V825.4M772.5 795.5V824.5M773 796.5V825.4M773.5 795.9V824.5M774 795.8V825.4M774.5 794.6V825.4M775 796.1V825.4M775.5 795V825.4M776 796.2V825.4M776.5 798.7V824.6M777 795.9V825.4M777.5 795.7V825M778 793.7V825.4M778.5 795V825.4M779 791.8V824.9M779.5 794.2V825.2M780 796V825.4M780.5 796.3V825.4M781 790.4V825.4M781.5 796.3V825.4M782 795.2V825.3M782.5 796.5V825.3M783 793.8V824.8M783.5 796.3V825.4M784 790.3V825.4M784.5 795.8V825.4M785 794.3V825.4M785.5 797V824.2M786 793.2V823.6M786.5 796.4V825.4M787 793V825.4M787.5 791.5V825.4M788 795.4V825.4M788.5 796.1V825.4M789 795.6V824.9M789.5 795.1V825.4M790 796V825.4M790.5 798.4V825.4M791 795.4V825.4M791.5 796.7V825.4M792 790.1V825.4M792.5 795.3V825.4M793 795.6V825M793.5 797.5V825.4M794 791.6V825.4M794.5 794.5V825.4M795 796.4V825.4M795.5 795.2V824.9M796 795.8V825.4M796.5 797.4V825.4M797 795.6V825.4M797.5 795V824M798 796.6V825.4M798.5 794.9V825.4M799 793.7V825.4M799.5 795.8V825.4M800 794.3V824.1M800.5 794.7V825.4M801 795.5V825.4M801.5 796.1V825.4M802 793.9V825.4M802.5 795.3V825.3M803 795.9V825.4M803.5 796.6V824.7M804 797.4V825.4M804.5 796.8V825.4M805 792.5V825.4M805.5 795.6V825.4M806 795.6V825M806.5 796.9V825.4M807 797.5V825.4M807.5 791.5V824.4M808 794V824.8M808.5 796.8V825.4M809 796.2V825.4M809.5 795.8V825.4M810 797.6V825.4M810.5 796.8V825.4M811 793.9V825.4M811.5 793.6V825.4M812 795.8V825.4M812.5 795.5V824M813 795.1V825.4M813.5 795.2V825.1M814 795V825.4M814.5 795V825.4M815 794.1V823.2M815.5 792.4V825.3M816 795.6V825.4M816.5 786.7V825.4M817 788.3V825.4M817.5 795.3V825.4M818 794.3V823.8M818.5 796.5V825.4M819 793.6V825.4M819.5 794V824.5M820 791.1V825.3M820.5 795.7V825.4M821 796.6V824.5M821.5 793.9V825.4M822 796.4V825.4M822.5 796V825.4M823 795.4V825.4M823.5 796.1V824.9M824 795.3V825.4M824.5 796.2V825.4M825 789.8V825.4M825.5 795.7V824M826 794.9V825.4M826.5 791.8V825.4M827 796.7V825.4M827.5 797.4V825.4M828 796.9V825.4M828.5 795.2V825.4M829 794.9V825.4M829.5 789.5V825.4M830 795.4V825.4M830.5 795.2V825.4M831 797.1V825.4M831.5 795.8V825.4M832 795.8V825.4M832.5 794.2V825.1M833 796.9V824.6M833.5 797V825.4M834 796.6V825.4M834.5 795.9V825.4M835 794.5V825M835.5 798V825.4M836 795.1V825.4M836.5 794.8V825.4M837 796.7V825.4M837.5 796V825.4M838 797.6V825.4M838.5 797.9V825.4M839 791.5V825.1M839.5 795.6V825.4M840 795V825.4M840.5 798.5V824.3M841 796.5V825.4M841.5 794.2V825.4M842 795.2V825.4M842.5 796.7V824.8M843 795.8V824.1M843.5 790.3V825.4M844 797.1V825.4M844.5 794.4V825.4M845 797.4V824.5M845.5 792.4V825.4M846 790.5V824.6M846.5 796.2V825.4M847 795.4V825.4M847.5 793.5V825.4M848 790V825.4M848.5 796.1V825.4M849 796.5V824.1M849.5 795.9V824.3M850 795.1V825.4M850.5 795.8V825.4M851 788.9V825.4M851.5 796.5V825.4" stroke="#00fa00" stroke-width="1" fill="none"/>
<path d="M317 839V851.3M317.5 840.2V853.7M318 840.5V855.3M318.5 841.6V857.2M319 842.4V858.7M319.5 842.7V861.2M320 844.2V862.3M320.5 844.6V865.2M321 845.4V865.9M321.5 845.1V866.8M322 847.5V867.9M322.5 849V868.4M323 850.1V869.1M323.5 850.6V870.8M324 852.3V871.1M324.5 853.9V872.8M325 855V873.8M325.5 855.8V874.2M326 856.5V875.6M326.5 857.6V875.7M327 857.9V876.2M327.5 857.4V876.6M328 858.2V877M328.5 858.4V876.5M329 858.4V876.7M329.5 857.4V877.3M330 858.1V876.7M330.5 859.5V877.1M331 859V877.5M331.5 859.1V877.7M332 860V878.2M332.5 859.1V877.7M333 859.9V878.1M333.5 860.5V878M334 860.2V877.6M334.5 860.5V878.8M335 860.7V878.4M335.5 861.1V878.6M336 861.4V879.7M336.5 861.5V879.5M337 861.2V879.3M337.5 862V880.3M338 862.6V880.1M338.5 862.6V880.3M339 862.5V880.5M339.5 860.5V880.7M340 862.6V881M340.5 863V880.9M341 863.6V881.6M341.5 863.6V881.5M342 863.7V881.7M342.5 864.6V881.7M343 864.1V882.1M343.5 864.5V882.6M344 864.7V881.6M344.5 864.3V882.6M345 865V882.9M345.5 864.4V883.4M346 865.7V883.6M346.5 865.5V883.4M347 865.3V883.4M347.5 865.3V883.7M348 866.3V884.1M348.5 865.9V884.4M349 866.1V884.7M349.5 866.4V885.2M350 866.9V884.8M350.5 866.9V885.4M351 867.1V885.2M351.5 866.6V885.3M352 867.4V887M352.5 867.2V886.7M353 867.6V886.1M353.5 867.6V886.8M354 867.5V887.2M354.5 868.3V887.8M355 868.6V888.1M355.5 868.6V887.5M356 868V887.9M356.5 868.8V888.3M357 869.1V891.7M357.5 868.7V888.3M358 868.6V889.3M358.5 869.5V889.6M359 869V889.5M359.5 869.5V889.8M360 870.4V889.8M360.5 869.4V890.5M361 869.8V890.5M361.5 870.1V890.9M362 871V890.6M362.5 869.8V891M363 870.9V892.3M363.5 871V891.2M364 870.5V891.4M364.5 871V891.5M365 872V892.4M365.5 871.7V891.6M366 871.4V892.5M366.5 872.2V893.4M367 871.9V893M367.5 871.7V893.5M368 871.8V892.7M368.5 872.6V893.6M369 872.8V893.1M369.5 872.3V895M370 872.9V894M370.5 873.4V893.5M371 873.1V894.2M371.5 872.8V894.8M372 873V894.7M372.5 871V895M373 873.3V895.1M373.5 873.8V896.5M374 874.3V895.5M374.5 874V895.4M375 873.8V895.7M375.5 874.9V896.4M376 875.2V896.6M376.5 875.5V896.6M377 875.4V895.9M377.5 875.3V896.7M378 874.9V896.8M378.5 875.5V897.9M379 876.1V897.7M379.5 876.9V896.8M380 873.1V897.9M380.5 876V898.4M381 875.9V898.6M381.5 876.5V898.9M382 876.7V898.5M382.5 877.7V899.2M383 877V898.7M383.5 876.9V899.9M384 876.9V899.2M384.5 877.4V899.7M385 877.2V900M385.5 877.4V899.5M386 878.4V900.6M386.5 877.8V899.4M387 877.7V900.7M387.5 877V900.2M388 877.1V900.7M388.5 878.8V901.3M389 877.7V901.2M389.5 878.3V901.7M390 879.5V901.2M390.5 878.7V900.7M391 879.7V902.4M391.5 879.8V901.8M392 877.8V901.4M392.5 879.8V901.6M393 879.5V903.1M393.5 879.6V902.6M394 881.3V902.9M394.5 879.2V903.1M395 881.2V902.5M395.5 880.3V903.3M396 881.2V903.1M396.5 880.2V903.8M397 881V903.4M397.5 881.2V902.8M398 881.8V904.7M398.5 881.4V904M399 882V904M399.5 881.8V904.8M400 882.2V904.9M400.5 882.1V905.1M401 882.5V904.8M401.5 882.3V904.8M402 883.6V904.2M402.5 883V905.1M403 883.2V905.8M403.5 882.8V905.8M404 883V905.8M404.5 883.4V905.1M405 883.4V906.8M405.5 884.5V907M406 883.3V906.1M406.5 884V907.2M407 884.7V906.3M407.5 883.6V906.7M408 884.1V907.3M408.5 884.3V908.2M409 884.3V907.6M409.5 884.7V907.2M410 885V908.2M410.5 885.9V908.2M411 885.4V909.5M411.5 885V909.1M412 885.9V911.8M412.5 884.8V909.6M413 886V908.6M413.5 885.3V910.3M414 886.6V910.8M414.5 886.9V909.8M415 886V910.4M415.5 886.5V910.8M416 886.6V910.5M416.5 887.2V911.2M417 886.9V910.8M417.5 887.5V911.2M418 887.7V911.2M418.5 888V911.5M419 888.4V911.5M419.5 887.2V912.3M420 887.9V912.2M420.5 887.1V912.4M421 887.9V912.3M421.5 888.2V911.6M422 888.3V912.4M422.5 888V913.1M423 889.3V912.2M423.5 889.2V913.4M424 888.6V913.6M424.5 887.2V912.6M425 889.9V913.7M425.5 889.2V914M426 889.7V915.3M426.5 889.8V913.6M427 890.3V914.9M427.5 890.7V915.2M428 889.8V914.9M428.5 889.5V915.5M429 891.3V914.7M429.5 890.8V914.6M430 891V915.1M430.5 890.7V914.9M431 889.7V915.2M431.5 891.8V914.8M432 891.6V915.6M432.5 891.3V915.8M433 892.1V916.1M433.5 892.2V917.7M434 892.5V915.2M434.5 892.7V916.6M435 892.1V915.7M435.5 892.3V917.7M436 892.7V917M436.5 892.3V917.3M437 892.4V917.9M437.5 892.5V917.9M438 893.7V921.4M438.5 893.8V917.5M439 893.4V917.6M439.5 890.4V918.5M440 894.1V918.5M440.5 893V918.7M441 894.4V918M441.5 894.4V919.7M442 894.2V918.6M442.5 894.7V918.8M443 892.9V920.1M443.5 895.1V919.3M444 894.1V919.9M444.5 895.6V918.8M445 896.2V919.7M445.5 894.6V919.1M446 894.5V920.2M446.5 895.4V920M447 896.1V920.4M447.5 896.5V920M448 894.7V921M448.5 896.7V921.4M449 896.7V920.6M449.5 895.6V921.7M450 896.9V921.6M450.5 897.7V920.9M451 895.6V920.9M451.5 897.2V921.9M452 897V922.9M452.5 897.8V922.4M453 894.3V923.4M453.5 896.8V923M454 898.7V921.8M454.5 897.7V922.8M455 897V921.7M455.5 898.7V922.6M456 898.6V923.6M456.5 898.5V922.9M457 899.2V923.2M457.5 897.7V927.2M458 899V923.9M458.5 898.3V923.5M459 899.8V924.8M459.5 899.8V923.6M460 900.9V925.3M460.5 899.6V925.2M461 899V924.7M461.5 899.6V925.3M462 899.5V924.8M462.5 899.6V926.6M463 898.6V927.2M463.5 900.3V926.3M464 900.9V925.2M464.5 899.6V925.8M465 900.7V926.3M465.5 900.2V926.9M466 900.3V927.4M466.5 901.2V927.3M467 902.1V926.8M467.5 901.9V928.1M468 900.6V931.4M468.5 901.8V928.2M469 900.9V927.4M469.5 900.5V928.2M470 900.9V928.9M470.5 902.2V928.7M471 902.4V929.6M471.5 901.3V928.6M472 902.6V929.7M472.5 902V929.8M473 903.2V929.1M473.5 903.3V932.7M474 902.2V929.5M474.5 903V928.8M475 902.3V930.4M475.5 903.4V930.5M476 905V930.8M476.5 903.4V930.5M477 901.9V932.2M477.5 901.5V930.3M478 903.5V931.8M478.5 903.7V932.1M479 901.8V930.9M479.5 902.6V931.8M480 901.6V931.2M480.5 904.1V932.6M481 903.6V933.5M481.5 903.6V932.2M482 905.4V933.5M482.5 904.9V933.1M483 903.7V932.7M483.5 904.6V932.9M484 904.6V932.7M484.5 901.9V932.9M485 904.5V932.9M485.5 903.8V933.1M486 903.5V934.8M486.5 905.5V934M487 906.2V934.1M487.5 905.7V934.7M488 905.8V934.3M488.5 906.4V935M489 905.9V938.2M489.5 905.4V935.5M490 905.6V933.9M490.5 905.7V936.5M491 906.9V935.7M491.5 905.8V934.6M492 906.3V934.5M492.5 906.4V935.8M493 905.7V935.9M493.5 906.4V936.2M494 907.3V935.2M494.5 905.9V935.7M495 905V935.5M495.5 908.3V935.2M496 903.3V936.2M496.5 906V937.1M497 907.3V937.1M497.5 908V937.3M498 907.8V937.9M498.5 908.1V938.3M499 907.9V938.8M499.5 908.2V938M500 904.6V937.6M500.5 908.7V938M501 907.5V936.7M501.5 906.7V942M502 909.5V938.5M502.5 908.2V938.6M503 908.7V939.6M503.5 907.2V941.1M504 909V939.6M504.5 906.8V939.5M505 909.4V939.3M505.5 907.9V939.4M506 907.3V942.5M506.5 908.3V938.2M507 910.3V939.6M507.5 907.8V940.5M508 908.4V940.8M508.5 910.8V941.1M509 908.4V944.4M509.5 909.8V938.3M510 906.4V941M510.5 910.2V941.7M511 910.9V941.4M511.5 910.3V942.7M512 911.2V940.4M512.5 910.3V942.5M513 910.5V941.6M513.5 910.8V940.1M514 910.6V941.1M514.5 910.2V942.1M515 909.1V941.1M515.5 908.9V942.1M516 910.9V945.2M516.5 910.2V942.5M517 911.1V942.4M517.5 911.3V941.6M518 910.6V943.1M518.5 911.7V942M519 911.2V945.9M519.5 908.8V943.2M520 910.1V943.3M520.5 911.2V942.2M521 908.4V942.9M521.5 910.8V942.4M522 909.6V943.4M522.5 912V942.6M523 909.7V942.1M523.5 911.6V947.7M524 911.5V942.8M524.5 912.8V941.5M525 911.1V944.6M525.5 911.1V943M526 912.1V940.1M526.5 912.8V943.1M527 912.6V943.9M527.5 911.3V943.8M528 912.2V944.5M528.5 913.1V943.2M529 912.1V943.8M529.5 911.4V943.1M530 910.5V943.6M530.5 913.6V942.5M531 907.5V944.6M531.5 913.9V943.9M532 910.9V943.8M532.5 910.6V942.4M533 913.6V949.1M533.5 915.3V944.5M534 912.6V945.7M534.5 914.2V944.8M535 910V948.9M535.5 910.5V945.3M536 914.6V945.5M536.5 913.8V944.2M537 909.2V946.7M537.5 912.7V944.7M538 914.5V942.9M538.5 912.2V949.8M539 912.4V943.1M539.5 913.1V945.8M540 911.5V944.5M540.5 913.5V944.2M541 915V947.4M541.5 913.9V946.4M542 911.8V946.8M542.5 913.1V945.1M543 914.6V946.3M543.5 914.6V947.3M544 914.6V949.8M544.5 915.5V947.7M545 916.1V947.1M545.5 915.8V952.2M546 913.4V948.6M546.5 915.2V948M547 910.6V950.4M547.5 914.1V949M548 912.8V951.7M548.5 915.4V949.8M549 915.3V950.2M549.5 918.7V949.9M550 914.6V950.3M550.5 916.4V951.7M551 914.6V949.5M551.5 914.2V950.2M552 916.3V950.5M552.5 915.9V951.6M553 916.6V951.6M553.5 916.7V952.3M554 914.2V952.7M554.5 917.3V950.8M555 917V951.2M555.5 916.3V953.1M556 916.5V951.1M556.5 917.4V951.4M557 916.7V955.5M557.5 917.3V953.2M558 917.5V954.4M558.5 915.7V952.3M559 919.8V953M559.5 917.1V954.8M560 917.7V954.7M560.5 917.2V955M561 915.8V953.6M561.5 915.7V953M562 917.7V954.6M562.5 918V957.4M563 917V954M563.5 917.7V954.6M564 918.9V956.1M564.5 918.1V955.1M565 918.9V955M565.5 917V954.6M566 918.1V961.1M566.5 917.3V955.7M567 921.7V956.9M567.5 920.3V955.4M568 917V959.5M568.5 916.8V956M569 918V958.5M569.5 919.2V961.8M570 918.9V957.6M570.5 919.3V957.3M571 919V957.1M571.5 917.6V959.1M572 918.3V956.6M572.5 919.9V963M573 917.5V962.6M573.5 920.3V961.7M574 918.6V958M574.5 919.1V957.6M575 920V956.9M575.5 920.2V957.8M576 918.6V958.6M576.5 918.4V957.4M577 920.9V958.4M577.5 919.5V960.2M578 917.9V960M578.5 921.3V963.3M579 919.4V959M579.5 921V960.6M580 920.4V958.5M580.5 920.8V960M581 921.4V961.5M581.5 920.9V959.9M582 920.2V961.1M582.5 919.1V961M583 921V960.6M583.5 922V958.7M584 918.8V960.3M584.5 919.3V964.8M585 922.6V961.8M585.5 919.9V960.6M586 920V961.6M586.5 922.1V962.1M587 921.2V960.7M587.5 920V966.2M588 921.2V962.2M588.5 921.4V966.9M589 922V962.7M589.5 922.2V969.5M590 919.9V962.9M590.5 922.4V965.2M591 921.8V964.1M591.5 922.2V963.2M592 923.2V962.8M592.5 923.2V965.4M593 917.5V962.2M593.5 923.9V963.8M594 924.3V966.2M594.5 923V965.5M595 921.6V965.3M595.5 923.1V963.9M596 922.8V968.1M596.5 923.5V964.2M597 918.9V965.8M597.5 923.1V964.2M598 922.8V967.2M598.5 923.7V966.6M599 922.8V966.6M599.5 925V968.2M600 922.6V969.8M600.5 923.3V967.8M601 923.9V968.3M601.5 924.2V966.9M602 922.6V965.1M602.5 924V967.4M603 925.6V966.9M603.5 925.1V965.7M604 923.8V967M604.5 922.9V966.8M605 923.6V967.4M605.5 922.2V968.8M606 924V966.8M606.5 922.8V968.1M607 924.5V967.6M607.5 924.8V968.2M608 924.6V968.1M608.5 924.5V965.7M609 926.3V976.3M609.5 924.5V968.1M610 926.2V967.7M610.5 922.3V969.4M611 924.1V969.4M611.5 924V969.8M612 922.3V970.3M612.5 923.3V969.6M613 926.7V970.5M613.5 922.2V969.6M614 921V972.3M614.5 924V970.1M615 925.8V971M615.5 926.7V970.4M616 925.8V975.9M616.5 927.1V971.5M617 926.2V975.9M617.5 927.3V971.7M618 924.5V970.7M618.5 924.8V971M619 927.9V970.5M619.5 926.8V972M620 927V970M620.5 926V979.2M621 927.5V973M621.5 926.3V971.9M622 925.7V971.2M622.5 924.9V975.7M623 926.7V973.3M623.5 927.8V974M624 925.3V971.1M624.5 927.9V972.3M625 926.8V973.4M625.5 929.1V979.2M626 927.1V979.2M626.5 927.1V976.9M627 927V973.5M627.5 929.1V976.3M628 926.7V973.6M628.5 927.9V974.2M629 927.6V973.8M629.5 928.9V975M630 928V979.2M630.5 924.2V973.1M631 926.4V975.4M631.5 927.6V971.9M632 926.8V975M632.5 928V974.5M633 929.8V979.2M633.5 930.1V979.2M634 929V978.2M634.5 926.4V979.2M635 923.7V979.2M635.5 924.4V977M636 927.9V976.6M636.5 928.3V976.2M637 928.2V974.4M637.5 930.7V976.1M638 927.3V978.2M638.5 927.8V979.2M639 929.7V978.7M639.5 929.8V979M640 925.2V979.2M640.5 929.4V975.8M641 932V977.7M641.5 929.8V976.5M642 931.4V978.6M642.5 931V978.9M643 928.1V979.2M643.5 932.2V975.4M644 930.8V978.2M644.5 931.1V979.2M645 923.1V979.1M645.5 930.7V978.5M646 930.4V977.3M646.5 931V979.2M647 931V979.2M647.5 929.6V979.2M648 931V979.2M648.5 930.6V979.2M649 931V979.2M649.5 931V977.6M650 928.2V978.5M650.5 930.9V979.2M651 930.4V979.2M651.5 925.3V979.2M652 929.9V979.2M652.5 931.8V977.6M653 931.5V979.2M653.5 930.3V979.2M654 927.9V978.2M654.5 930.7V977.8M655 931.3V979.2M655.5 929.4V979.2M656 932.4V979.2M656.5 928.6V979M657 932V979.2M657.5 931.2V976.7M658 930.5V979.2M658.5 930.3V977.8M659 925.6V977.8M659.5 932.1V978.8M660 932V978.7M660.5 923.8V979.2M661 931.1V979.2M661.5 929.3V979.2M662 931.3V979M662.5 929.2V977.4M663 931.5V979.2M663.5 928V979.2M664 926.3V978.3M664.5 927.7V978.9M665 932.1V979M665.5 930.6V978M666 927.1V978.2M666.5 931.3V979.1M667 933.4V979.2M667.5 932.9V979.2M668 932.4V979.2M668.5 931.9V979.2M669 933V979.2M669.5 933.5V978.3M670 932.4V979.2M670.5 928.5V978.4M671 931.9V979.2M671.5 930.5V978.7M672 932.3V979.2M672.5 933.4V978.8M673 931.4V979.2M673.5 931.7V977.5M674 933.6V979.2M674.5 929.2V978.3M675 932.3V979.2M675.5 932.1V979.2M676 929.5V979M676.5 927V979.2M677 933.1V977.2M677.5 932.2V978.7M678 933V978.3M678.5 932.6V979.2M679 930.2V979.2M679.5 932.7V979.2M680 934.2V977.3M680.5 931.2V979.2M681 932V979.2M681.5 933.7V978.2M682 933.4V979.2M682.5 930.1V979.2M683 933.9V979M683.5 933.8V979.2M684 932.8V978.7M684.5 932.3V977.9M685 933.3V979.2M685.5 933.3V979.1M686 933.8V977.9M686.5 933V979M687 933.5V979.2M687.5 930.5V979.2M688 934.1V979M688.5 929V975.6M689 932.9V979.2M689.5 932.3V977.8M690 933V979.2M690.5 932.9V978.6M691 933.4V979.2M691.5 931.5V978.1M692 935V979.2M692.5 935.5V978.6M693 932.9V979.2M693.5 933.7V979.2M694 934.5V979.2M694.5 935.1V979.2M695 930.2V977.5M695.5 933.4V978.9M696 930.2V977.3M696.5 933V977.8M697 934.9V979.2M697.5 931.1V979M698 933.6V979.2M698.5 935.8V978.4M699 935.5V975.9M699.5 935.1V976.9M700 934.6V979.2M700.5 932.2V977M701 929V979.2M701.5 934V978.4M702 935.3V977.9M702.5 927.9V979.2M703 934.7V979.1M703.5 935.1V978.9M704 935V977.5M704.5 934.9V978.7M705 935.5V978.4M705.5 934.6V979M706 936V979.2M706.5 934.8V979.2M707 934.9V979.2M707.5 935V979.2M708 934.6V979.2M708.5 934.9V979.2M709 934.3V979.2M709.5 932.6V979.2M710 934V979.2M710.5 936.5V979.2M711 933.1V979.2M711.5 934.4V979.2M712 935.8V979.2M712.5 935.2V976.9M713 934.4V978M713.5 934.6V979.2M714 935.7V979.2M714.5 935.9V979.2M715 936.6V977.4M715.5 936.9V977.2M716 935.9V978.9M716.5 933.2V978.5M717 937.6V979.2M717.5 935.7V978M718 935.6V978.1M718.5 934.8V979.2M719 935.5V977M719.5 936.3V979.2M720 938.1V977.8M720.5 935.3V979M721 935.4V979.1M721.5 935.6V979.2M722 935.3V978.4M722.5 934.8V977M723 936.9V979.2M723.5 938.5V978.5M724 936.7V978.6M724.5 936.9V979.2M725 934.5V979.2M725.5 935.1V979.2M726 933.8V979.2M726.5 936.5V979.2M727 937.3V979.2M727.5 936.7V979.2M728 938.3V979.2M728.5 935.8V978.7M729 936V978.4M729.5 938.2V978M730 930.8V977.1M730.5 935.8V979.2M731 936.4V978.6M731.5 939.9V978.1M732 936.7V978.3M732.5 938.3V979.2M733 939.8V979.2M733.5 938.7V978.9M734 937.7V977.8M734.5 937.7V979.2M735 937.1V979.2M735.5 934.2V979.2M736 937.7V977.6M736.5 936.8V979.2M737 937.1V979.2M737.5 938.3V978.4M738 937.2V979.1M738.5 939.5V979.2M739 932.8V979.2M739.5 939.1V979.2M740 937.7V978M740.5 937.4V979.2M741 937.8V979.2M741.5 937.4V979.2M742 937.6V979.2M742.5 937.2V979.2M743 937V979.2M743.5 939.6V979.2M744 938.8V979.2M744.5 938.4V978.8M745 938V979.2M745.5 939.4V979.2M746 939.2V979.2M746.5 936.6V978.6M747 938.7V979.2M747.5 938.8V979.2M748 940.3V979.2M748.5 932V977.7M749 937.3V979.2M749.5 939.8V979.2M750 938.2V977.2M750.5 941.2V977.9M751 939.3V979.2M751.5 937.6V977.7M752 937.8V978.7M752.5 939.7V978.3M753 938.5V978.8M753.5 937.5V979.2M754 936.4V979.2M754.5 937.8V979.2M755 939V977M755.5 940.3V979.2M756 939.8V979.2M756.5 941V979.2M757 938.9V978.4M757.5 940.9V979.2M758 939.3V979.1M758.5 939.7V979.2M759 937.7V977.3M759.5 938.8V977.4M760 938.4V976.8M760.5 938.9V979.2M761 940.5V979.2M761.5 938.9V977.7M762 936.3V979.2M762.5 939.6V977M763 939V979.2M763.5 941.6V977.9M764 938.3V979.2M764.5 939.5V978.5M765 937.5V978M765.5 938.2V979.2M766 935.7V979.2M766.5 939.5V979.2M767 940.6V978.6M767.5 941.3V975.8M768 940.2V979.2M768.5 938.9V979.2M769 940.1V979.2M769.5 940.7V979.2M770 939.2V979.2M770.5 939.7V976.7M771 939.7V978.8M771.5 939.7V979.2M772 940.6V976.3M772.5 941.7V979.2M773 940.1V979.2M773.5 940.6V978M774 941.4V979.2M774.5 940.6V979.2M775 939.2V978.5M775.5 939V978.6M776 940.6V978.4M776.5 939.7V979.2M777 940.4V978.6M777.5 940.1V979.2M778 941.1V979.2M778.5 939.1V977.6M779 934.6V978.4M779.5 941.6V979.2M780 939.6V979.2M780.5 941V977M781 935.8V979.2M781.5 941.1V977.3M782 941.3V979.2M782.5 940.9V979.2M783 942.4V979.2M783.5 940.1V978.7M784 940.6V979.2M784.5 940.2V979.2M785 938.6V979.2M785.5 938V978.8M786 941.8V979.2M786.5 939.1V979.2M787 935.8V979.2M787.5 941.5V979.2M788 942.5V979.2M788.5 937.6V978.9M789 937.4V979.2M789.5 940.3V978.4M790 941.1V975.9M790.5 940.9V979.2M791 940.7V979.2M791.5 940V978.2M792 940.5V978M792.5 941.7V978.8M793 940.1V979.2M793.5 936.6V978.5M794 940.4V978.9M794.5 941.1V979.2M795 942V979.2M795.5 942.5V979.2M796 942.9V979.2M796.5 941.9V979.2M797 941.8V979.2M797.5 943.5V978.6M798 942.4V978.3M798.5 945.8V978.3M799 941.8V978.7M799.5 936.7V979.2M800 943.5V979.2M800.5 941.9V977.8M801 935.2V978.4M801.5 941.8V979.2M802 937.1V978.9M802.5 943.5V979.2M803 943.6V978.6M803.5 943.3V979.2M804 943.1V978.1M804.5 942.5V977.3M805 941.6V979.2M805.5 943.7V979.2M806 943.3V978.5M806.5 942.7V978.2M807 943.8V979.2M807.5 942.2V979.2M808 943.7V978.3M808.5 939.4V979.2M809 945.5V979.2M809.5 942.1V979.2M810 942.1V979.2M810.5 943.5V979.2M811 944.4V979.2M811.5 942.7V978.2M812 943.8V979.2M812.5 944.1V979.2M813 942.6V979.2M813.5 943.1V979M814 942.8V979.2M814.5 940.2V975.9M815 944.8V978.1M815.5 942.9V979.1M816 943V979.2M816.5 945.6V977.8M817 945.1V977M817.5 943.6V977.4M818 944.1V978.9M818.5 942.8V979.2M819 942.6V978.8M819.5 944.3V979.2M820 943.5V979.2M820.5 945.2V979.2M821 938.8V979.2M821.5 943.7V977.9M822 943.8V979.2M822.5 943.7V979.2M823 945V979.2M823.5 941.8V978M824 944.3V979.2M824.5 944.8V979.2M825 944.5V979.2M825.5 944.3V978.6M826 944.7V977.6M826.5 942.6V979.2M827 944.4V979.2M827.5 943.1V978.7M828 945.6V979.2M828.5 946.5V976.7M829 943.4V979.2M829.5 944.1V979.2M830 944.5V979.2M830.5 940.8V979.2M831 941.4V979.2M831.5 944.9V977.1M832 945.5V979.2M832.5 946.5V979.2M833 944.6V979.2M833.5 941.4V979.2M834 945V977.5M834.5 945.2V979M835 944.4V979.2M835.5 945.1V978.4M836 946.1V979.2M836.5 945.3V979.2M837 944.9V979.2M837.5 943.6V977.1M838 942.4V979.2M838.5 945.9V979.2M839 937.8V979.2M839.5 936.5V979.2M840 944V979.2M840.5 944.8V978.7M841 945.6V978M841.5 947.4V979M842 945.6V978.9M842.5 946.4V979.2M843 945.2V979.2M843.5 946.4V979.2M844 944.8V977.4M844.5 944.7V976.5M845 944.2V979.2M845.5 937.8V978.7M846 945V979.2M846.5 945.4V979.1M847 947V979.2M847.5 946.1V978.6M848 946.3V978.5M848.5 946.2V979.2M849 942.5V979.2M849.5 946V979M850 944.9V979.2M850.5 945.8V977.9M851 946.4V979.2M851.5 944.3V979.2" stroke="#00f6f6" stroke-width="1" fill="none"/>
<rect x="313.1" y="512.2" width="540.5" height="148.4" fill="none" stroke="#000" stroke-width="5" stroke-linejoin="round"/>
<rect x="312.1" y="670.2" width="540.5" height="156.2" fill="none" stroke="#000" stroke-width="5" stroke-linejoin="round"/>
<rect x="313.1" y="838" width="540.5" height="142.2" fill="none" stroke="#000" stroke-width="5" stroke-linejoin="round"/>
<path d="M316.9 513.4C317.8 514.4 320.2 517.5 322 519.6C323.9 521.7 325.9 523.9 327.9 526C329.9 528.1 331.9 530.1 333.9 532C335.9 533.9 337.9 535.7 339.9 537.5C342 539.3 344 541.2 346 543C348 544.7 348.9 545.5 352 548.1C355.1 550.7 359.3 554.6 364.4 558.7C369.5 562.8 376.6 568.1 382.7 572.6C388.8 577 394.9 581.1 401 585.4C407.1 589.6 413.1 594 419.2 598.2C425.3 602.3 431.4 606.5 437.5 610.2C443.6 614 449.7 617.5 455.8 620.6C461.9 623.7 468 626.6 474 628.9C480.1 631.1 486.2 632.9 492.3 634.3C498.4 635.8 502.6 636.6 510.6 637.6C518.5 638.6 530.7 639.5 540 640.2C549.3 640.8 549.9 641.3 566.5 641.6C583.1 642 591.8 642 639.6 642.2C687.4 642.3 817.8 642.5 853.4 642.6" stroke="#ff0018" stroke-width="3.4" fill="none" stroke-linejoin="round"/>
<path d="M317.5 678.3C317.8 679.8 318.7 684.7 319.7 687.4C320.6 690.1 322 692.7 323.3 694.7C324.7 696.7 324.1 696 327.9 699.3C331.7 702.6 340.1 709.7 346.2 714.4C352.2 719.2 358.3 723.4 364.4 728C370.5 732.5 376.6 737.3 382.7 741.8C388.8 746.4 394.9 751 401 755.4C407.1 759.8 413.1 764.2 419.2 768.2C425.3 772.1 431.4 775.8 437.5 779.1C443.6 782.5 449.7 785.5 455.8 788.3C461.9 791 468 793.6 474 795.6C480.1 797.5 486.2 798.6 492.3 799.8C498.4 800.9 502.6 801.7 510.6 802.5C518.5 803.3 530.7 804.2 540 804.7C549.3 805.2 549.9 805.2 566.5 805.4C583.1 805.6 591.8 805.7 639.6 805.8C687.4 805.9 817.8 805.8 853.4 805.8" stroke="#ee1000" stroke-width="3.4" fill="none" stroke-linejoin="round"/>
<path d="M317.5 840.9C318 842.7 319.5 848.2 320.6 851.8C321.7 855.5 323 860.3 324.2 862.8C325.5 865.3 326.1 865.7 327.9 866.8C329.7 868 332.2 868.6 335.2 869.7C338.2 870.8 341.3 871.8 346.2 873.4C351 875 358.3 877.2 364.4 879.2C370.5 881.3 376.6 883.5 382.7 885.6C388.8 887.8 394.9 889.9 401 892C407.1 894.2 413.1 896.3 419.2 898.4C425.3 900.5 431.4 902.5 437.5 904.4C443.6 906.4 449.7 908.4 455.8 910.3C461.9 912.2 468 914 474 915.8C480.1 917.5 486.2 919.2 492.3 920.9C498.4 922.6 502.6 924.1 510.6 925.8C518.5 927.6 530.7 929.6 540 931.5C549.3 933.4 559.1 935.8 566.5 937.3C574 938.9 578.7 939.7 584.8 940.6C590.9 941.5 597 942.1 603.1 942.8C609.2 943.5 615.3 944.1 621.3 944.6C627.4 945.2 632 945.6 639.6 946.1C647.2 946.6 657.9 947.3 667 947.7C676.2 948.2 683.8 948.5 694.4 948.8C705.1 949.1 715.7 949.4 731 949.6C746.2 949.8 765.4 949.8 785.8 949.9C806.2 950.1 842.1 950.2 853.4 950.3" stroke="#e60a0a" stroke-width="3.4" fill="none" stroke-linejoin="round"/>
<text x="313.4" y="1006.4" font-size="15.5" text-anchor="middle">0</text>
<text x="367.4" y="1006.4" font-size="15.5" text-anchor="middle">1</text>
<text x="421.4" y="1006.4" font-size="15.5" text-anchor="middle">2</text>
<text x="475.4" y="1006.4" font-size="15.5" text-anchor="middle">3</text>
<text x="529.4" y="1006.4" font-size="15.5" text-anchor="middle">4</text>
<text x="583.4" y="1006.4" font-size="15.5" text-anchor="middle">5</text>
<text x="637.4" y="1006.4" font-size="15.5" text-anchor="middle">6</text>
<text x="691.4" y="1006.4" font-size="15.5" text-anchor="middle">7</text>
<text x="745.4" y="1006.4" font-size="15.5" text-anchor="middle">8</text>
<text x="799.4" y="1006.4" font-size="15.5" text-anchor="middle">9</text>
<text x="853.9" y="1006.4" font-size="15.5" text-anchor="middle">10</text>
<path d="M313.4 980.2V988.4M340.4 980.2V984.8M367.4 980.2V988.4M394.4 980.2V984.8M421.4 980.2V988.4M448.4 980.2V984.8M475.4 980.2V988.4M502.4 980.2V984.8M529.4 980.2V988.4M556.4 980.2V984.8M583.4 980.2V988.4M610.4 980.2V984.8M637.4 980.2V988.4M664.4 980.2V984.8M691.4 980.2V988.4M718.4 980.2V984.8M745.4 980.2V988.4M772.4 980.2V984.8M799.4 980.2V988.4M826.4 980.2V984.8M853.4 980.2V988.4" stroke="#000" stroke-width="3.6" stroke-linecap="round" fill="none"/>
<text x="584" y="1033" font-size="22.5" text-anchor="middle" textLength="97" lengthAdjust="spacingAndGlyphs">Time (ms)</text>
<text x="291.7" y="762" font-size="22.5" text-anchor="middle" textLength="147.5" lengthAdjust="spacingAndGlyphs" transform="rotate(-90 291.7 762)">Intensity  (a.u.)</text>
<text x="223.8" y="552.2" font-size="47" textLength="63.5" lengthAdjust="spacingAndGlyphs">(D)</text>
<text x="320.3" y="644.6" font-size="39">I</text>
<text x="320.3" y="811" font-size="39" textLength="28.5" lengthAdjust="spacingAndGlyphs">II</text>
<text x="320.3" y="960.8" font-size="39" textLength="43.5" lengthAdjust="spacingAndGlyphs">III</text>
<line x1="659.2" y1="535" x2="659.2" y2="550" stroke="#5a5ad0" stroke-width="1.3" />
<text x="685" y="548.3" font-size="16.6" textLength="118" lengthAdjust="spacing">CLSO:0.20Dy<tspan font-size="9" dy="-9.5">3+</tspan></text>
<text x="685" y="570.2" font-size="16.4" textLength="157.5" lengthAdjust="spacing">monitered at 479 nm</text>
<line x1="639.3" y1="590.1" x2="680.1" y2="590.1" stroke="#d01010" stroke-width="3.8" stroke-linecap="round"/>
<text x="685" y="595.8" font-size="16.8" textLength="77" lengthAdjust="spacing">R<tspan font-size="9.5" dy="-9">2</tspan><tspan dy="9">=0.9980</tspan></text>
<text x="686" y="620.3" font-size="16.8" textLength="94.5" lengthAdjust="spacing">τ*=327.58 <tspan font-weight="normal">μs</tspan></text>
<line x1="658.3" y1="691.3" x2="658.3" y2="706.3" stroke="#90f090" stroke-width="1.3" />
<text x="683.1" y="704.4" font-size="16.6" textLength="119" lengthAdjust="spacing">CLSO:0.20Dy<tspan font-size="9" dy="-9.5">3+</tspan></text>
<text x="683.1" y="726.3" font-size="16.4" textLength="157.5" lengthAdjust="spacing">monitered at 573 nm</text>
<line x1="637.5" y1="745.9" x2="678.3" y2="745.9" stroke="#ff0000" stroke-width="3.8" stroke-linecap="round"/>
<text x="683.1" y="752.5" font-size="16.8" textLength="78" lengthAdjust="spacing">R<tspan font-size="9.5" dy="-9">2</tspan><tspan dy="9">=0.9986</tspan></text>
<text x="685.3" y="776.2" font-size="16.8" textLength="95" lengthAdjust="spacing">τ*=336.74 <tspan font-weight="normal">μs</tspan></text>
<line x1="655.1" y1="853" x2="655.1" y2="868" stroke="#80f0f0" stroke-width="1.3" />
<text x="681.3" y="865.7" font-size="16.6" textLength="121" lengthAdjust="spacing">CLSO:0.20Sm<tspan font-size="9" dy="-9.5">3+</tspan></text>
<text x="681.3" y="888" font-size="16.4" textLength="157.5" lengthAdjust="spacing">monitered at 601 nm</text>
<line x1="635.6" y1="908.5" x2="675.6" y2="908.5" stroke="#d01010" stroke-width="3.8" stroke-linecap="round"/>
<text x="681.3" y="914.5" font-size="16.8" textLength="77" lengthAdjust="spacing">R<tspan font-size="9.5" dy="-9">2</tspan><tspan dy="9">=0.9877</tspan></text>
<text x="685.3" y="937.9" font-size="16.8" textLength="94.7" lengthAdjust="spacing">τ*=697.07 <tspan font-weight="normal">μs</tspan></text>
<path d="M932 510V536.1M932.6 510V536M933.2 510V537.3M933.8 510V542.3M934.4 510.4V547.9M935 510.3V553.2M935.6 512V557M936.2 514.8V560.6M936.8 521.9V559.7M937.4 525.7V559.9M938 532.4V561M938.6 537.5V563M939.2 543V563.1M939.8 544.5V563.2M940.4 546.4V564.3M941 546.9V563.1M941.6 546.5V563.5M942.2 548V563.2M942.8 544.3V562.5M943.4 548.2V566.4M944 548.4V561M944.6 551.4V562M945.2 547.9V562.5M945.8 550.4V565.7M946.4 551.9V562M947 553.3V562.1M947.6 552.4V562.2M948.2 552.6V564.7M948.8 553V568.9M949.4 553.3V565.4M950 552.6V566.5M950.6 554.4V567.7M951.2 554.7V567.7M951.8 554.5V571M952.4 551.8V570.1M953 554.9V567.2M953.6 555.5V568.8M954.2 557V569.3M954.8 555.3V569.6M955.4 555.4V567.8M956 557.5V575M956.6 553.4V570.9M957.2 557.3V571M957.8 555.6V576.8M958.4 555.4V571.2M959 557.3V573M959.6 557V573M960.2 557.5V581.4M960.8 557.5V574M961.4 556.7V581.3M962 557V574.3M962.6 559.8V579.9M963.2 557.9V575.6M963.8 561V578.1M964.4 560.4V582.4M965 559.3V578.5M965.6 558.4V577.6M966.2 561.2V578.2M966.8 560.1V579.3M967.4 560.7V582.3M968 561.1V584M968.6 558.4V581.3M969.2 553.7V581.1M969.8 560.4V582.9M970.4 561.8V582.2M971 562.9V587.6M971.6 562.9V591.5M972.2 563.9V585.8M972.8 563.4V588.8M973.4 563.1V584.8M974 561.7V587M974.6 562.9V594.5M975.2 563.5V588.6M975.8 563.8V590M976.4 563.7V586.9M977 563V586.7M977.6 566.9V586.6M978.2 559.5V596.2M978.8 562.5V587.4M979.4 564.3V592.4M980 566.6V592.4M980.6 566.7V592.6M981.2 564.1V591.3M981.8 565.4V601.7M982.4 566.9V593.2M983 561.3V600.8M983.6 565V594.1M984.2 563.3V595.1M984.8 567.4V600.7M985.4 567.2V603.6M986 563.1V599.6M986.6 569.8V606.4M987.2 570.4V595.8M987.8 566.9V598.3M988.4 569V602.2M989 568.8V599.9M989.6 569.2V600.8M990.2 568V601.3M990.8 569.3V600.8M991.4 568.9V600.3M992 570.1V604.5M992.6 569.4V603.6M993.2 570.3V603.9M993.8 572.3V604.3M994.4 565.4V612.7M995 566.3V605.1M995.6 571.5V603.9M996.2 569.4V604.4M996.8 570.3V607.6M997.4 570.8V608M998 571V605.2M998.6 573.1V606.2M999.2 564.9V609.6M999.8 575.6V610.7M1000.4 572.9V607.1M1001 573.3V617.5M1001.6 590.4V611.8M1002.2 575.5V609.5M1002.8 574.5V614.1M1003.4 577.1V610.3M1004 574.4V616.2M1004.6 572.4V608.7M1005.2 574.9V611.6M1005.8 575.5V611.6M1006.4 576.6V611.9M1007 577.4V617.5M1007.6 578.4V613M1008.2 578.9V611.4M1008.8 574.5V612.4M1009.4 574.2V615.1M1010 577.8V614M1010.6 578.3V623.9M1011.2 577.4V615.1M1011.8 579.4V614.7M1012.4 577V617.4M1013 579.6V615.7M1013.6 573.7V615.5M1014.2 582.5V617.9M1014.8 575.3V618.8M1015.4 586V619M1016 599.3V618.4M1016.6 577.1V617.5M1017.2 577.5V621.7M1017.8 571.8V621.8M1018.4 579.9V621.8M1019 577.2V623.4M1019.6 607.6V627.3M1020.2 579V620.1M1020.8 579.8V631.7M1021.4 578.2V619.4M1022 580.8V621.1M1022.6 575.8V620M1023.2 579.7V622.7M1023.8 579.3V630.8M1024.4 580.6V628.5M1025 578.3V630.2M1025.6 582.2V631.6M1026.2 581.3V626.1M1026.8 578.6V621.1M1027.4 579.3V631.2M1028 572.2V631.6M1028.6 585V628.5M1029.2 580V626.9M1029.8 580.7V628.9M1030.4 581.9V625.1M1031 575.5V624.1M1031.6 580.5V628M1032.2 583.3V628.4M1032.8 581.3V626.5M1033.4 581.9V626.5M1034 583.2V628.4M1034.6 583.8V631.2M1035.2 586.3V637.1M1035.8 585.3V629.9M1036.4 588.3V630.3M1037 577.3V628M1037.6 581.6V628.4M1038.2 583.5V644.1M1038.8 585.1V629.8M1039.4 589.1V631.6M1040 622.2V633.8M1040.6 584.7V631M1041.2 584.3V629.2M1041.8 586.1V631M1042.4 582.1V629.6M1043 585.1V630.6M1043.6 609.5V632.8M1044.2 585.3V630.9M1044.8 584.1V646.3M1045.4 586.4V631.6M1046 588.7V634.3M1046.6 586.1V633.7M1047.2 585.8V644.9M1047.8 585.7V632M1048.4 589.7V634.8M1049 577.6V632.9M1049.6 588.1V641.3M1050.2 587.8V633.3M1050.8 578.4V635.7M1051.4 575.2V643.9M1052 590.4V636.1M1052.6 587.4V637.5M1053.2 588.3V638.5M1053.8 588.1V635.8M1054.4 589.3V640.8M1055 589.2V636.5M1055.6 572.8V636.6M1056.2 588.8V637.1M1056.8 592V638.9M1057.4 590.1V639.3M1058 590.4V640.2M1058.6 591.4V639.7M1059.2 589.8V639.6M1059.8 595.1V638.8M1060.4 584.4V650.4M1061 593.3V643.2M1061.6 586.6V642.5M1062.2 595.9V640.2M1062.8 590.2V650M1063.4 589.7V642.3M1064 589.3V643.1M1064.6 589.4V641.1M1065.2 593.4V644.3M1065.8 591.1V641.8M1066.4 594.1V643.8M1067 592V641.3M1067.6 593V645.7M1068.2 591.4V650.4M1068.8 592.9V643.1M1069.4 628.5V644.2M1070 584.7V650.4M1070.6 591.2V644.4M1071.2 594.4V645.9M1071.8 622.3V644M1072.4 593.7V640.2M1073 593.1V650.4M1073.6 595.3V643.2M1074.2 622.5V644.2M1074.8 638.9V645.5M1075.4 593.6V648.2M1076 582.8V645.7M1076.6 593.7V647.3M1077.2 620.9V647.2M1077.8 595.2V646.2M1078.4 594.6V646.4M1079 584.9V644.1M1079.6 636.2V644.2M1080.2 592.7V650.4M1080.8 597.1V647.6M1081.4 613.9V647.9M1082 592.8V645.7M1082.6 596.7V650.4M1083.2 595.7V649.6M1083.8 611.7V648.9M1084.4 594.8V650M1085 593.2V650.4M1085.6 597.6V648.2M1086.2 597.1V646.3M1086.8 600.4V644.7M1087.4 605.4V645.6M1088 598.8V650.4M1088.6 601.3V647.1M1089.2 598.6V650.4M1089.8 597.7V648.1M1090.4 598.5V648.5M1091 644.8V646.6M1091.6 596.3V648.2M1092.2 599V650.3M1092.8 632.1V648.2M1093.4 599.9V650.4M1094 601.1V646.4M1094.6 590.6V650.2M1095.2 596.5V647M1095.8 619.9V645.6M1096.4 603.3V650.4M1097 598.5V649.6M1097.6 601.1V649.2M1098.2 602.2V650.1M1098.8 602.6V650.4M1099.4 640V649.6M1100 597.8V650.4M1100.6 587.7V646.1M1101.2 643.1V648.9M1101.8 602.3V646.8M1102.4 637V647.8M1103 632.6V647.4M1103.6 603.7V650.2M1104.2 603.9V650.4M1104.8 611.1V649.8M1105.4 600.6V646M1106 601.7V648.2M1106.6 590.6V647.9M1107.2 591.8V648.4M1107.8 601.7V650.2M1108.4 634V649M1109 646.5V647.8M1109.6 599V649.4M1110.2 604.4V650.4M1110.8 600.8V650.2M1111.4 600.7V647.3M1112 601.5V649.1M1112.6 617.5V650.4M1113.2 605.1V649.3M1113.8 608.9V648.8M1114.4 606.2V649.5M1115 632.6V649.8M1115.6 602.4V650.4M1116.2 604.4V649.8M1116.8 606.8V650.1M1117.4 607V646.4M1118 622.9V648.7M1118.6 592.1V650.4M1119.2 606.8V650.4M1119.8 598.3V646.6M1120.4 618.4V650.4M1121 607.3V647.6M1121.6 594.7V649.7M1122.2 617.3V648.2M1122.8 608.2V649.1M1123.4 619.1V646.2M1124 608V649.2M1124.6 604.6V648.5M1125.2 639.3V650.1M1125.8 618.9V648.1M1126.4 607.5V648.9M1127 608V647.8M1127.6 605.8V646.9M1128.2 614.5V648.4M1128.8 607.6V650.4M1129.4 621.8V645.8M1130 609.9V648M1130.6 619.6V647.4M1131.2 606.4V650.4M1131.8 639V650.4M1132.4 646.3V648.8M1133 609.3V648.7M1133.6 603.5V650.2M1134.2 612.5V648.3M1134.8 593.3V650.4M1135.4 607.4V648M1136 610.2V650.4M1136.6 621.4V650.4M1137.2 643.3V648.2M1137.8 610.2V650.4M1138.4 607.2V649.9M1139 647.6V650.4M1139.6 625V646.9M1140.2 647.8V650.4M1140.8 620V650.1M1141.4 648V650M1142 610.5V650.4M1142.6 628.1V650.4M1143.2 636.6V648.5M1143.8 647.4V649.1M1144.4 623.9V648.9M1145 614.5V645.5M1145.6 618V647.2M1146.2 627.5V647.2M1146.8 602.4V650.3M1147.4 608.1V649.3M1148 623V650.4M1148.6 621.8V649.5M1149.2 643.6V646.4M1149.8 617.4V649.1M1150.4 623V650.4M1151 611.5V648.6M1151.6 645.1V647.9M1152.2 616.8V650.4M1152.8 614.9V648.5M1153.4 648.8V650.4M1154 619.8V650.4M1154.6 648.6V650M1155.2 631V650M1155.8 647.7V650.4M1156.4 624.2V649.3M1157 641.2V647.5M1157.6 610.3V649.5M1158.2 637.4V650.2M1158.8 605V650.4M1159.4 614.5V649.4M1160 642.1V644.6M1160.6 635.2V650.4M1161.2 647.9V649.5M1161.8 647.1V649M1162.4 630.6V650.4M1163 646.7V648.8M1163.6 616.4V649M1164.2 648.2V650.4M1164.8 635.6V647.7M1165.4 645.7V648.2M1166 609.8V650.4M1166.6 633.8V647.7M1167.2 616.8V650.1M1167.8 646.8V648.8M1168.4 613.8V647.9M1169 648.9V650.1M1169.6 617.3V649.1M1170.2 637.6V649.5M1170.8 648.3V650.1M1171.4 646.3V648M1172 642.1V648.4M1172.6 641.6V644.3M1173.2 642.8V644.4M1173.8 622.4V649.5M1174.4 647.8V649.1M1175 647.5V649.4M1175.6 645.1V647.5M1176.2 645.9V648.7M1176.8 644.3V649.4M1177.4 645.6V648.5M1178 630.1V648.2M1178.6 642.6V645.7M1179.2 647.1V650.4M1179.8 647.5V649.7M1180.4 616.4V648.7M1181 648.6V650.4M1181.6 647.1V650M1182.2 643.2V650.4M1182.8 620.1V647.2M1183.4 632.9V647.6M1184 628.2V647M1184.6 620.8V650.4M1185.2 611.1V648.8M1185.8 648.2V650.4M1186.4 623.8V650.4M1187 619.2V650.4M1187.6 619.6V650.4M1188.2 617.8V650.4M1188.8 622.8V648M1189.4 648.2V650.4M1190 615.1V649.1M1190.6 624V650.4M1191.2 616.7V650.4M1191.8 612.9V649M1192.4 625.4V648M1193 628.1V650.4M1193.6 634.2V650.4M1194.2 628V650.4M1194.8 639.1V649.4M1195.4 647.6V650M1196 634.4V648.7M1196.6 623.8V648.8M1197.2 645.3V648.2M1197.8 624.5V648.7M1198.4 625.6V648.9M1199 621.5V650.4M1199.6 646.1V650.1M1200.2 617.7V647.9M1200.8 624.9V647.5M1201.4 629V650.4M1202 617.8V650.4M1202.6 632.8V649.7M1203.2 648.2V650.4M1203.8 628.5V650.4M1204.4 645V650.4M1205 645.9V648.4M1205.6 620.6V647.8M1206.2 638.4V648.5M1206.8 647.6V650.1M1207.4 648.8V650.4M1208 639.7V649.5M1208.6 648.7V650.4M1209.2 637.2V650.4M1209.8 617.5V650.4M1210.4 640.4V647.9M1211 648.3V650.4M1211.6 641.5V648.6M1212.2 646.9V648.9M1212.8 635.2V648.2M1213.4 641.2V647.9M1214 648.2V650.4M1214.6 645.7V648.4M1215.2 646.3V649.1M1215.8 642.1V649.2M1216.4 640.8V649.3M1217 623.5V649.2M1217.6 646.1V648.8M1218.2 647.5V650.4M1218.8 649.1V650.4M1219.4 639.3V650.4M1220 644.7V647.2M1220.6 646.9V648.7M1221.2 646.1V648.3M1221.8 645.6V649.8M1222.4 637.2V645.7M1223 648.5V649.8M1223.6 639.3V649.9M1224.2 624.5V650.4M1224.8 635.3V647.1M1225.4 646.9V648.9M1226 640.1V646.9M1226.6 646.3V649.1M1227.2 638.6V650.4M1227.8 621.1V650.4M1228.4 627.7V649.8M1229 646.7V649.1M1229.6 631.8V648.3M1230.2 646.3V647.6M1230.8 646.6V648.5M1231.4 648.9V650.4M1232 638.5V649.5M1232.6 616.9V648.5M1233.2 648.3V650.4M1233.8 645.1V647.7M1234.4 646.8V648.4M1235 648.7V650.4M1235.6 622.6V649.5M1236.2 647.3V649.1M1236.8 641.9V649.2M1237.4 647.4V649.3M1238 628.9V642.1M1238.6 627.1V646.3M1239.2 645.2V647.6M1239.8 644.8V650.4M1240.4 639.9V650.4M1241 639.5V650.2M1241.6 645V648M1242.2 635.9V649M1242.8 646.5V648.2M1243.4 647V649.8M1244 625.3V648.9M1244.6 630.4V648.3M1245.2 644.7V650.4M1245.8 643V649.5M1246.4 641V650.4M1247 645.7V647.5M1247.6 646.2V649M1248.2 643.2V645.7M1248.8 627V650.4M1249.4 644.7V646.6M1250 648.1V650.4M1250.6 646.3V648M1251.2 626.9V650.4M1251.8 629.5V649.6M1252.4 645.7V649.9M1253 647.8V650.4M1253.6 627.2V648.1M1254.2 637.6V650.4M1254.8 644.7V646M1255.4 646V647.4M1256 647.7V650.4M1256.6 641.3V647.2M1257.2 645.9V649.3M1257.8 629.5V650.4M1258.4 623.9V649.5M1259 624.3V650.4M1259.6 645.5V648.9M1260.2 641.5V646.1M1260.8 636.1V647.1M1261.4 643.4V650.4M1262 635.1V649.8M1262.6 638.7V650.4M1263.2 646.7V649.4M1263.8 647.5V649.4M1264.4 645.4V650.4M1265 647.8V650.4M1265.6 638.2V649M1266.2 628.9V650.4M1266.8 641.7V647.1M1267.4 645.3V647.9M1268 638.3V649.1M1268.6 645.6V648.5M1269.2 644.4V646.1M1269.8 645.8V647.6M1270.4 628.7V648.2M1271 649.1V650.4M1271.6 646.5V648.4M1272.2 628.4V649.4M1272.8 643V648.8M1273.4 646.4V648M1274 637V650.4M1274.6 643.1V649.6M1275.2 619.9V648.2M1275.8 648.1V650.2M1276.4 634.1V650.1M1277 646.9V650M1277.6 645.3V647.2M1278.2 646.1V648.7M1278.8 633V647.4M1279.4 644.2V646.9M1280 641.2V643M1280.6 630.1V649.5M1281.2 648V649.3M1281.8 647.6V650.4M1282.4 642.5V645.1M1283 614.2V649.7M1283.6 648.2V650.4M1284.2 649.2V650.4M1284.8 645.7V647.6M1285.4 645.3V647.9M1286 645.8V648.7M1286.6 638.4V648.1M1287.2 630.1V650.4M1287.8 630.2V649.7M1288.4 632.5V648.1M1289 648.1V649.7M1289.6 646.9V648.4M1290.2 647V648.8M1290.8 644.6V646.3M1291.4 647.4V650.4M1292 647.6V650.4M1292.6 640.4V649M1293.2 636.5V649.9M1293.8 639.3V650.4M1294.4 641.4V649.6M1295 625.4V650.4M1295.6 646.9V649.1M1296.2 644.7V646.1M1296.8 648.4V650.4M1297.4 632.4V649.9M1298 648.7V650.4M1298.6 630.2V648.1M1299.2 646.6V648.2M1299.8 644.4V648.5M1300.4 643V647.3M1301 647.6V650.4M1301.6 649V650.4M1302.2 638.7V645.9M1302.8 645.1V646.3M1303.4 645.9V650.4M1304 630.8V648.3M1304.6 641V647.3M1305.2 647.8V650.2M1305.8 644.2V646.8M1306.4 638.5V650.4M1307 648.1V650.4M1307.6 634.8V649.9M1308.2 648.4V650.4M1308.8 643.4V646.5M1309.4 648.5V650.4M1310 631.1V646.5M1310.6 647.4V650.4M1311.2 630.6V649.4M1311.8 647.3V649.7M1312.4 630.5V645.7M1313 633.1V649.2M1313.6 627.6V650.4M1314.2 649V650.4M1314.8 648V649.8M1315.4 632.4V650.4M1316 631.8V648.3M1316.6 643.9V646.1M1317.2 645.5V647.3M1317.8 634.4V649M1318.4 647.6V650.4M1319 629.5V646.7M1319.6 647.9V650.4M1320.2 631.1V647.7M1320.8 641.6V650.4M1321.4 647.2V649.4M1322 646.8V649M1322.6 644.6V645.9M1323.2 647.4V649.4M1323.8 629.3V646.6M1324.4 648V649.9M1325 641.4V648.7M1325.6 630.2V647.9M1326.2 642.4V645.3M1326.8 647.6V649.3M1327.4 616.8V650.4M1328 637.6V650.4M1328.6 646V647.8M1329.2 646.8V648.9M1329.8 647.9V650.4M1330.4 647.2V648.7M1331 647.5V650.4M1331.6 626.4V650.4M1332.2 645.4V647M1332.8 647.2V648.6M1333.4 645.6V646.9M1334 633V650.4M1334.6 645.4V648.2M1335.2 623.4V649.9M1335.8 647.6V650.4M1336.4 642.6V650.4M1337 647.5V650.4M1337.6 640.8V648.5M1338.2 644.5V646M1338.8 647.5V648.7M1339.4 643.9V645.6M1340 646.8V648.7M1340.6 648.8V650.2M1341.2 646.4V650.1M1341.8 648V650.4M1342.4 646.5V648M1343 649.1V650.4M1343.6 648.7V650.4M1344.2 632.1V650.2M1344.8 648V650.4M1345.4 648V650.1M1346 631.1V650.4M1346.6 637.3V650.4M1347.2 646.7V649.5M1347.8 644.7V646.4M1348.4 631.6V650.4M1349 648.8V650.4M1349.6 648.4V650.4M1350.2 637.8V650.3M1350.8 644.1V650.4M1351.4 631.2V650.4M1352 643.5V649.2M1352.6 646.1V647.6M1353.2 639.5V647.2M1353.8 645.6V647.4M1354.4 648.1V650M1355 647.9V649.6M1355.6 641.3V650.4M1356.2 646.4V648.1M1356.8 647.6V650.4M1357.4 644.5V647.1M1358 632.4V649.5M1358.6 648.3V649.7M1359.2 632.8V650.4M1359.8 642.4V650.4M1360.4 632.9V647.7M1361 647.7V649.4M1361.6 644.6V648.5M1362.2 635V648.9M1362.8 646.3V649M1363.4 630.5V649.3M1364 637.9V644.8M1364.6 649.1V650.4M1365.2 641V648.7M1365.8 648.4V649.9M1366.4 648.6V650.4M1367 648.4V650.4M1367.6 636.3V648.2M1368.2 647.3V649.2M1368.8 617.6V647.7M1369.4 642.9V648.6M1370 648V650.4M1370.6 641.6V647.4M1371.2 635.5V649M1371.8 635.9V650.4M1372.4 635.1V647.6M1373 647.3V650.3M1373.6 646V647.6M1374.2 644.5V647.3M1374.8 648.2V650.4M1375.4 615.5V650.4M1376 645.8V650.4M1376.6 647V649.6M1377.2 639.4V650.4M1377.8 641.6V650.4M1378.4 646.2V649.5M1379 623.1V650.4M1379.6 634.6V650.4M1380.2 641.3V649.7M1380.8 646.2V647.7M1381.4 631.8V649.1M1382 633.7V649.4M1382.6 648.4V649.7M1383.2 648.3V649.9M1383.8 648.2V649.9M1384.4 645.4V650.3M1385 623.5V644.8M1385.6 647.6V650.4M1386.2 639.9V650.4M1386.8 643.2V645.2M1387.4 648.3V650.4M1388 630.3V645.7M1388.6 647.3V649.7M1389.2 647.2V648.4M1389.8 637.7V650.4M1390.4 630.9V645.3M1391 640.3V647.8M1391.6 641.6V650.3M1392.2 648.7V650M1392.8 647.6V650.4M1393.4 646.7V648.2M1394 606.6V646.2M1394.6 635.2V644.8M1395.2 615.8V648.1M1395.8 648.9V650.3M1396.4 646.9V649.1M1397 648.3V650.4M1397.6 643.4V650.4M1398.2 649V650.4M1398.8 649V650.4M1399.4 643.5V645.5M1400 632.6V646.1M1400.6 644.4V650.4M1401.2 648.1V650.4M1401.8 643.9V647.8M1402.4 648.5V650.4M1403 631.9V650.4M1403.6 645V646.9M1404.2 631.3V649.3M1404.8 644.3V649.5M1405.4 635.8V648.8M1406 648V650.4M1406.6 646.3V649.3M1407.2 636.4V650.4M1407.8 646.9V649.8M1408.4 637.1V650.4M1409 635.9V649.7M1409.6 639.5V650.4M1410.2 648V650.4M1410.8 649.2V650.4M1411.4 646.7V649.3M1412 646.3V648.5M1412.6 648.1V650.4M1413.2 646.5V648.8M1413.8 647.3V649.4M1414.4 615V649.6M1415 647.5V650.4M1415.6 645.5V647.9M1416.2 645.7V647.9M1416.8 643.9V647.6M1417.4 647.5V650.4M1418 637.6V648.8M1418.6 646.9V649.8M1419.2 647V648.4M1419.8 648.1V650.4M1420.4 648.2V649.4M1421 632.9V647.8M1421.6 649V650.4M1422.2 645.1V647.2M1422.8 649V650.4M1423.4 646.6V648.6M1424 648V650.4M1424.6 647.5V649.2M1425.2 647.4V650.4M1425.8 639.2V648.8M1426.4 616.7V649M1427 639.6V650M1427.6 631.1V647.9M1428.2 644.9V649.3M1428.8 646.9V648.5M1429.4 638.4V648.2M1430 645.2V646.5M1430.6 645.4V647.3M1431.2 646.7V648M1431.8 648.6V650.4M1432.4 631.7V650.4M1433 637.6V649.6M1433.6 646.7V648.5M1434.2 643.5V646.1M1434.8 644.6V647.3M1435.4 648V650.4M1436 647.3V650.4M1436.6 631.4V650.4M1437.2 647.9V650.1M1437.8 648.6V650M1438.4 644.6V646.7M1439 631.8V650.4M1439.6 646.8V650.4M1440.2 636.9V647.5M1440.8 643.6V645.8M1441.4 643.8V646.5M1442 646V648.9M1442.6 644.9V646.2M1443.2 641.7V647.9M1443.8 644.8V647.8M1444.4 644.1V646.1M1445 645.7V647.9M1445.6 619.1V650.4M1446.2 631.9V644.5M1446.8 646.5V648.6M1447.4 647.3V649.7M1448 643.4V647.2M1448.6 647.2V650.2M1449.2 645.2V650.4M1449.8 647.9V650.4M1450.4 647.1V648.7M1451 644V649M1451.6 642.9V650.4M1452.2 643.2V648M1452.8 646.8V649.5M1453.4 632.5V647.6M1454 646.3V648.9M1454.6 645.9V648.5M1455.2 647.1V650M1455.8 646.9V648.3M1456.4 648.8V650M1457 648.4V650.4M1457.6 638.5V648.9M1458.2 646.5V647.8M1458.8 648.9V650.4M1459.4 635.9V650.4M1460 648.3V650.4M1460.6 645.4V648.4M1461.2 647.9V649.5M1461.8 632.2V647.3M1462.4 647.7V650.4M1463 647.6V649.7M1463.6 647.4V648.8M1464.2 647.7V649.5M1464.8 631.7V646.2M1465.4 647.2V649.2M1466 640.5V650.4M1466.6 628.1V647.5M1467.2 646.3V647.7M1467.8 636.2V648.8M1468.4 643.6V645.8M1469 638.7V648.6M1469.6 648.6V650.4M1470.2 634.7V648.5M1470.8 648.9V650.4M1471.4 647.3V649.8M1472 640.9V646.3M1472.6 618.8V649.7M1473.2 647.1V649.4M1473.8 635.3V650.4M1474.4 647.9V650.4M1475 646.3V648.9M1475.6 645.2V647.6M1476.2 645.2V647.3M1476.8 610.5V650.4M1477.4 643V645.4M1478 636.5V647.1M1478.6 637V648.4M1479.2 626.4V650.2M1479.8 645V648.1M1480.4 644.2V649.3M1481 648.3V650.4M1481.6 640.9V646.5M1482.2 645.7V647.4M1482.8 631.4V648.2M1483.4 642.8V649.5M1484 637.3V649.9M1484.6 626.6V647.4M1485.2 644.5V649.3M1485.8 646.8V648.6M1486.4 649V650.4M1487 647.7V650.2M1487.6 640V647.7M1488.2 647.5V649.9M1488.8 647.8V650.1M1489.4 647.9V649.7M1490 646.8V648.7M1490.6 632.9V646.6M1491.2 649.1V650.4M1491.8 631.4V650.4M1492.4 646.8V649.5M1493 648V650.4M1493.6 645.6V647.5M1494.2 639.7V649.3M1494.8 631.2V648.5M1495.4 649.1V650.4M1496 647.7V649.2M1496.6 646V647.5" stroke="#ff00ff" stroke-width="1" fill="none"/>
<path d="M932 663.1V674.7M932.6 664.1V677.2M933.2 665.4V680M933.8 666.5V683M934.4 668.3V684.8M935 668.7V686.4M935.6 670.2V687.7M936.2 672.1V689.4M936.8 671.8V691.8M937.4 674.6V692.2M938 674.5V693.5M938.6 675.4V694.5M939.2 676V695.1M939.8 676.5V695.9M940.4 677.4V696.4M941 678.6V698.1M941.6 678.7V697.8M942.2 680V699.1M942.8 680.1V700M943.4 680.1V700.2M944 681.9V701.2M944.6 681.6V701.8M945.2 682.9V702.1M945.8 682.5V703M946.4 682.6V703.1M947 684V703.5M947.6 683.8V704.1M948.2 683.7V704.5M948.8 684.3V704.4M949.4 684.4V705.4M950 685.9V705.8M950.6 686.1V706.3M951.2 686.3V706.7M951.8 687.6V707.2M952.4 687.5V708.3M953 687.8V707.7M953.6 689.2V707.7M954.2 689.6V708.9M954.8 691.4V708.7M955.4 689.6V709.2M956 690.1V709.4M956.6 691.3V710.2M957.2 691.2V710.6M957.8 691.5V711.5M958.4 691.9V711.3M959 693.2V711.5M959.6 692.8V712M960.2 694.1V713.5M960.8 694.4V712.6M961.4 695.1V713.5M962 695.2V713M962.6 694.9V716.3M963.2 696.2V714.7M963.8 695.9V714M964.4 696V714.9M965 696.5V714.9M965.6 697V714.5M966.2 697.4V714.8M966.8 696.9V716.6M967.4 697.5V717M968 697.6V716.5M968.6 699.3V717M969.2 698.9V717.7M969.8 699V717M970.4 700.3V721.1M971 699.8V718.3M971.6 700.6V717.8M972.2 699.4V719.9M972.8 700.2V718.5M973.4 701.5V719.8M974 701.9V720.3M974.6 701.5V720.6M975.2 702V721.1M975.8 703.2V719.7M976.4 701.4V720.9M977 702.7V721.6M977.6 703V720.8M978.2 701.9V721.6M978.8 702.7V722.5M979.4 705V723.1M980 703.8V723.7M980.6 704.8V722.8M981.2 704.4V724.4M981.8 704.9V726.9M982.4 704.7V723.5M983 705.4V724.5M983.6 705.4V724.8M984.2 706V726.6M984.8 706.1V725.7M985.4 709V726.4M986 707.9V726.6M986.6 706.4V726.2M987.2 708.7V725.8M987.8 708.8V726.7M988.4 708V727.5M989 707.9V727.5M989.6 708.7V727.5M990.2 709.6V730.4M990.8 708.9V727.7M991.4 710.3V729.8M992 710.1V729.8M992.6 709.9V731M993.2 710.3V729.6M993.8 710.9V731.6M994.4 712.5V731.1M995 712.5V731M995.6 712.4V731.6M996.2 713.4V732.8M996.8 711.8V732M997.4 712V732.5M998 713.8V733.9M998.6 712.3V736.5M999.2 714.6V734.2M999.8 712.8V733.9M1000.4 715.5V734.5M1001 715.6V735.5M1001.6 715.2V734.8M1002.2 715.4V736.5M1002.8 714.9V737.4M1003.4 716.5V737.7M1004 716.1V735.3M1004.6 717.5V738.2M1005.2 716.9V736.8M1005.8 717.1V736.6M1006.4 717.1V737.8M1007 718.3V738.2M1007.6 718.1V738.1M1008.2 719.3V737.8M1008.8 718V739.7M1009.4 719.4V739.2M1010 720.2V738.9M1010.6 720.2V740.6M1011.2 719.7V741.1M1011.8 718.7V740.5M1012.4 719.8V740.3M1013 720.3V740.5M1013.6 721.8V741M1014.2 721.2V742.7M1014.8 721.6V742.3M1015.4 723.7V741.4M1016 722.5V743.3M1016.6 722.5V742.6M1017.2 722.8V743.2M1017.8 722.3V743.9M1018.4 723.9V748.4M1019 723.1V743.6M1019.6 724.8V744.2M1020.2 725.3V744.9M1020.8 719.5V746M1021.4 725.2V744.3M1022 726.2V745.8M1022.6 725.4V744.7M1023.2 725V747.2M1023.8 725.1V747.4M1024.4 725.5V745.9M1025 727.3V747.7M1025.6 725.6V746.1M1026.2 726.2V747.5M1026.8 726.8V748.6M1027.4 726.3V748.5M1028 726.4V748.6M1028.6 727.5V749.2M1029.2 727.5V748.9M1029.8 728.2V748M1030.4 728.9V751.4M1031 729.3V750.1M1031.6 730.3V752.3M1032.2 729.9V750.6M1032.8 730.4V751.6M1033.4 730.4V750.1M1034 729.9V751.3M1034.6 730.5V752.2M1035.2 731.9V752.8M1035.8 731.3V751.4M1036.4 732.7V753.5M1037 731.7V752.3M1037.6 732.4V752.7M1038.2 733.3V753.5M1038.8 732.3V752.2M1039.4 731.4V755.3M1040 733.9V754.6M1040.6 734.2V756M1041.2 734.4V753M1041.8 732.2V756.3M1042.4 735.2V754.4M1043 734.3V755.8M1043.6 735V756.8M1044.2 733.5V757.4M1044.8 734.9V755.8M1045.4 734.3V756.3M1046 734.3V759.4M1046.6 737.3V757.8M1047.2 734.3V757.3M1047.8 737.2V757.8M1048.4 737.6V758.4M1049 736.8V758M1049.6 736.9V763.4M1050.2 737.7V758.6M1050.8 736.8V758.2M1051.4 739.1V759.7M1052 737.5V761.1M1052.6 737.3V759.8M1053.2 739.2V759.6M1053.8 739.1V762.1M1054.4 739.4V762.1M1055 739.1V761.4M1055.6 739.6V762.2M1056.2 740.3V761.7M1056.8 740.6V762.2M1057.4 742.4V763.6M1058 738.8V765.5M1058.6 740.1V766.8M1059.2 736.3V763.1M1059.8 740.5V765M1060.4 741.2V763.3M1061 736.6V764.1M1061.6 739.6V763.8M1062.2 741.8V764.9M1062.8 742.4V764.8M1063.4 743V765.7M1064 743.9V764.2M1064.6 742.5V763.8M1065.2 742.6V764.1M1065.8 744.5V764.7M1066.4 744.4V764.9M1067 744.3V764.9M1067.6 744.6V765M1068.2 741.5V770.1M1068.8 744.6V765.6M1069.4 745.8V766M1070 744.5V768.1M1070.6 745.4V768.9M1071.2 744.7V767.7M1071.8 746.4V768.1M1072.4 745.6V768.7M1073 744.1V769.2M1073.6 747.8V768M1074.2 745.8V769.4M1074.8 747.3V770.1M1075.4 747.4V770.7M1076 748V770.4M1076.6 745.6V771.4M1077.2 747.9V770.4M1077.8 747.7V769.9M1078.4 748.5V770.5M1079 749.7V771M1079.6 748.8V770.6M1080.2 749.9V771.6M1080.8 749.6V769.8M1081.4 747.9V770.1M1082 749.3V774.6M1082.6 749V770.7M1083.2 749V773.8M1083.8 750.9V773.8M1084.4 752V774.1M1085 749.6V773M1085.6 749.4V773.8M1086.2 751.2V775.6M1086.8 751.4V775.7M1087.4 747.5V775.4M1088 751.1V775.2M1088.6 754V776.5M1089.2 751.3V775.8M1089.8 752.1V775.6M1090.4 751.8V776.1M1091 751.6V776.3M1091.6 752.8V779.9M1092.2 752.8V776.4M1092.8 753.5V775.9M1093.4 754.4V778.6M1094 752.7V778.5M1094.6 755V784.5M1095.2 753.9V778.4M1095.8 753.2V779.9M1096.4 753.8V778.8M1097 752.2V779.9M1097.6 756.5V780.3M1098.2 753.5V781.7M1098.8 753.7V782.6M1099.4 752.7V780.1M1100 755.8V780.9M1100.6 757.7V780.9M1101.2 755.5V780.2M1101.8 756.1V782.1M1102.4 758.3V781.8M1103 759.4V783.3M1103.6 756.7V780.4M1104.2 760.9V786.4M1104.8 755.4V790M1105.4 757.7V783.6M1106 760.2V783.1M1106.6 758.5V783.8M1107.2 760.6V784.4M1107.8 759.7V785.9M1108.4 756.5V783.8M1109 758.7V783.5M1109.6 757.5V786.2M1110.2 756.6V790.7M1110.8 761.7V784.9M1111.4 762.6V786M1112 760.3V787.7M1112.6 761.6V787.6M1113.2 755.1V786.3M1113.8 761.1V785M1114.4 762.7V785.4M1115 761.7V787M1115.6 762.7V787.3M1116.2 763V789.7M1116.8 761.3V786.5M1117.4 763.5V796.2M1118 762.9V788.3M1118.6 763.8V790.2M1119.2 764.6V789.7M1119.8 765.7V789.1M1120.4 766.4V789.3M1121 764V791.4M1121.6 766.8V794.3M1122.2 767.1V791M1122.8 765.9V790.3M1123.4 766.2V790.8M1124 766.2V790.6M1124.6 766.7V790.4M1125.2 769.3V792.6M1125.8 768.6V791.9M1126.4 764.6V791.5M1127 768.6V793.5M1127.6 762.6V791.9M1128.2 767V791.9M1128.8 769.4V794M1129.4 766V801.9M1130 770.7V795.1M1130.6 768.4V794.9M1131.2 767.1V795.4M1131.8 767.9V795.2M1132.4 766.7V800M1133 770.2V797.3M1133.6 769.7V795.6M1134.2 771.4V796M1134.8 770.2V795M1135.4 771.3V795.9M1136 770.3V795.6M1136.6 769.3V797.9M1137.2 771.8V799.3M1137.8 774.3V798.5M1138.4 771.4V797M1139 772.5V798.5M1139.6 771.8V798.6M1140.2 774.2V797.4M1140.8 769.1V799.6M1141.4 771.6V799.1M1142 768V797.6M1142.6 772.5V799.4M1143.2 767.9V799.4M1143.8 774.9V802.1M1144.4 776.2V799.1M1145 774.1V800.1M1145.6 771.6V800.5M1146.2 775.8V802.1M1146.8 774.8V801.1M1147.4 774.3V803.2M1148 775.3V802.9M1148.6 773.9V801.1M1149.2 772.2V809.3M1149.8 776.3V802.2M1150.4 774V802.6M1151 776.3V804.4M1151.6 772.3V805.1M1152.2 776V804.3M1152.8 776.4V802.7M1153.4 777.4V804M1154 776.7V802.5M1154.6 778V804.5M1155.2 777.2V805.1M1155.8 774V806.4M1156.4 778.1V803.6M1157 779.8V809.4M1157.6 777.1V807.7M1158.2 776.6V805.1M1158.8 779.3V808.8M1159.4 778.3V812.8M1160 778.8V807.4M1160.6 775.7V807.7M1161.2 777.5V807.8M1161.8 779.2V806M1162.4 776.9V809.2M1163 776.3V809.6M1163.6 779.8V810.2M1164.2 778.4V808.8M1164.8 775.1V810.2M1165.4 780.7V816.4M1166 778.8V808M1166.6 781.6V811.9M1167.2 783.1V810.7M1167.8 781.3V810.5M1168.4 782.4V810.5M1169 781.8V810.9M1169.6 782.7V811M1170.2 780.4V816.9M1170.8 780.6V812.9M1171.4 780.5V812.3M1172 782.5V810.1M1172.6 783.5V812.3M1173.2 778.4V813.9M1173.8 782.1V813.7M1174.4 777.5V812.5M1175 783.4V814.1M1175.6 780.2V814.4M1176.2 781.1V813.4M1176.8 777.7V813.3M1177.4 786V821.6M1178 782.6V816.2M1178.6 786.2V816.8M1179.2 779.4V814.4M1179.8 784.2V816.7M1180.4 783.5V816.3M1181 785.6V815.3M1181.6 787.2V814.4M1182.2 785.3V819M1182.8 785.3V817.2M1183.4 786.8V817.2M1184 784.9V818.3M1184.6 778.8V817.7M1185.2 783.9V817.1M1185.8 783.6V818.8M1186.4 785.6V817.9M1187 786.7V817.1M1187.6 787.2V817.5M1188.2 784.6V816.7M1188.8 787.4V819.2M1189.4 787.8V820.4M1190 785.5V818.4M1190.6 784.9V818.7M1191.2 786.8V818.4M1191.8 787V824.6M1192.4 788.8V818.3M1193 784.2V816.7M1193.6 787.8V816.9M1194.2 788.2V820.8M1194.8 790.4V821.4M1195.4 787V820.1M1196 787.7V820.5M1196.6 786.6V819.1M1197.2 787.2V820.7M1197.8 787.2V819M1198.4 788.8V820.7M1199 781.9V822.4M1199.6 786.3V820.2M1200.2 788.2V821.1M1200.8 786.7V823.8M1201.4 789V819.9M1202 785.4V821.7M1202.6 789.4V820.5M1203.2 789.3V821.6M1203.8 789.3V823.3M1204.4 791V829.5M1205 789.2V823.2M1205.6 788V826.6M1206.2 785.9V823.5M1206.8 789.7V822.8M1207.4 788.6V820.6M1208 790.1V824.2M1208.6 789.9V825.9M1209.2 790.7V822.3M1209.8 790V825M1210.4 791.9V824.7M1211 785.1V822.9M1211.6 792V829.4M1212.2 787.6V824.9M1212.8 793.4V825.3M1213.4 788.3V824.7M1214 793.6V826.5M1214.6 791.3V826.9M1215.2 794.7V824.7M1215.8 793.8V826M1216.4 789.5V829.5M1217 795.3V828.2M1217.6 794.5V823.8M1218.2 797.7V828.6M1218.8 792.9V827.2M1219.4 794.3V828.8M1220 785.1V825.4M1220.6 796V825.9M1221.2 793.5V826.5M1221.8 791.6V828.6M1222.4 792.6V826.7M1223 794V826.9M1223.6 793.9V829.5M1224.2 795.1V826.5M1224.8 797.3V823.7M1225.4 796.5V829.5M1226 796.5V826.9M1226.6 795.9V826.2M1227.2 797V825.8M1227.8 798.4V828.8M1228.4 796.7V826.4M1229 796.5V825.7M1229.6 795.1V826.4M1230.2 795.9V826M1230.8 797.6V827.4M1231.4 796.5V829M1232 795.1V827.7M1232.6 793.5V828.4M1233.2 798.1V828.3M1233.8 795.7V826.6M1234.4 797.4V828.4M1235 797.3V828.7M1235.6 796.7V827.4M1236.2 796.3V828.4M1236.8 797.7V828M1237.4 799.6V828M1238 806.4V826.8M1238.6 800V828.4M1239.2 798.1V826.4M1239.8 798.6V826.5M1240.4 797V829.4M1241 790.8V827.9M1241.6 814.8V826.8M1242.2 809.6V827M1242.8 802.2V828.7M1243.4 797.4V829.4M1244 799.5V827.3M1244.6 800.6V828.7M1245.2 798V827.7M1245.8 801.9V828.6M1246.4 801.6V829.5M1247 798.9V825.6M1247.6 819.7V829.5M1248.2 797.8V829.2M1248.8 802.7V828.4M1249.4 800.9V829M1250 799.1V826.3M1250.6 798.4V829.5M1251.2 796.9V826.5M1251.8 802.3V829.5M1252.4 801.4V828.5M1253 794.4V827M1253.6 826.7V829.5M1254.2 801.8V828.3M1254.8 803.9V828.4M1255.4 802.9V827.8M1256 802.2V828.5M1256.6 805.3V825.9M1257.2 803.1V826.6M1257.8 800.7V826.4M1258.4 814.7V826M1259 801.8V824.4M1259.6 826.4V829.5M1260.2 804V828.4M1260.8 802.3V828.1M1261.4 822.6V827.3M1262 810.4V825.2M1262.6 802.4V828.9M1263.2 805.2V829.5M1263.8 802.5V825.1M1264.4 805.6V824.9M1265 806.5V827M1265.6 798.5V828.6M1266.2 804.5V828.3M1266.8 817.8V826.6M1267.4 805.5V828.5M1268 822.7V828.5M1268.6 801.8V828.2M1269.2 804.6V829.5M1269.8 803.3V826M1270.4 806V826.7M1271 804.3V828.6M1271.6 806.5V829.5M1272.2 809.2V827.5M1272.8 807.1V829.5M1273.4 804.3V828.9M1274 804.6V827.5M1274.6 819.9V827.3M1275.2 808.3V825.5M1275.8 797.8V828.4M1276.4 814.7V827.3M1277 824.9V827.5M1277.6 805.3V828.4M1278.2 804.2V828.4M1278.8 806.3V828.8M1279.4 807.6V829.5M1280 806V829M1280.6 808.1V829.3M1281.2 823.5V826M1281.8 821.3V828.8M1282.4 808.4V827.2M1283 805.9V829.5M1283.6 804.8V829M1284.2 807.4V829.2M1284.8 808.6V828.5M1285.4 808V827.5M1286 806.5V829.5M1286.6 801.2V828.7M1287.2 807.1V829.5M1287.8 804V825.9M1288.4 821V826.9M1289 826.5V829.5M1289.6 821.1V824.9M1290.2 802.1V826.7M1290.8 808.4V829.5M1291.4 806.8V827.7M1292 800.4V829.5M1292.6 809.3V828.2M1293.2 808V829.5M1293.8 808V827.3M1294.4 802.7V829.5M1295 811.2V829.5M1295.6 823.6V826.9M1296.2 805V829M1296.8 806.6V828.8M1297.4 820.5V829.5M1298 812V826.5M1298.6 814.7V825M1299.2 809.8V827.9M1299.8 824.9V827.8M1300.4 802.1V825.6M1301 810.7V827.2M1301.6 813V829M1302.2 809.9V829.5M1302.8 808.6V827.5M1303.4 812.5V827.3M1304 824.9V825.9M1304.6 824.4V827.4M1305.2 824.5V827.2M1305.8 809.7V829.5M1306.4 811.7V828.2M1307 815.7V826.6M1307.6 810.7V827.8M1308.2 815.8V825.5M1308.8 813.3V826.9M1309.4 811.2V829.5M1310 819.9V826.5M1310.6 813.6V828.2M1311.2 815.2V825.3M1311.8 826.1V827.9M1312.4 809.2V828.1M1313 812.4V827.3M1313.6 814.4V827.4M1314.2 824.2V826.7M1314.8 825.3V827.3M1315.4 810.7V829.5M1316 826.9V829M1316.6 826.9V828.1M1317.2 808.6V827.9M1317.8 803.3V829.1M1318.4 813.4V829.2M1319 812.2V828.7M1319.6 812.8V827.9M1320.2 812.3V829.5M1320.8 811.6V827M1321.4 810.2V828.1M1322 814.4V828M1322.6 817.6V827.6M1323.2 815V825.5M1323.8 806.3V827.6M1324.4 810.1V827.5M1325 822.6V829.5M1325.6 813.5V828.8M1326.2 821.8V827.2M1326.8 812.9V827.9M1327.4 815.3V827.7M1328 826.3V828.2M1328.6 814.3V829.1M1329.2 827.7V828.9M1329.8 811.3V827.8M1330.4 814.3V829.5M1331 827.3V829.3M1331.6 813V827.9M1332.2 816.5V828.9M1332.8 814.2V827.7M1333.4 813.6V828.1M1334 817.8V829.5M1334.6 824.2V827.6M1335.2 816.8V827.5M1335.8 826V827.6M1336.4 813.7V828M1337 818.2V828.8M1337.6 819.5V828.8M1338.2 814.2V828.7M1338.8 808.3V827.9M1339.4 819V825.2M1340 816.5V827M1340.6 815.4V826.8M1341.2 821.4V828.9M1341.8 826V827.2M1342.4 812.8V829.5M1343 815V826.8M1343.6 812.6V826M1344.2 814.7V829.2M1344.8 812.1V826.4M1345.4 819.8V825.2M1346 826.3V827.3M1346.6 813.4V824.9M1347.2 827.8V829.5M1347.8 820.5V826.2M1348.4 824.9V826.8M1349 818.3V828.8M1349.6 824.3V827.8M1350.2 816.5V828.4M1350.8 822.2V828.8M1351.4 821.6V828M1352 815.3V826.5M1352.6 820.6V827.5M1353.2 817.7V828.3M1353.8 825.7V826.7M1354.4 820.6V827.1M1355 810.9V829.1M1355.6 819.7V827.6M1356.2 826V828.2M1356.8 815.3V828.6M1357.4 821.9V827.7M1358 819.8V827M1358.6 818.9V828.3M1359.2 822.7V824.2M1359.8 825.3V827.9M1360.4 824.5V826.9M1361 827.4V829.5M1361.6 816.1V829M1362.2 806.9V827.5M1362.8 824.6V826.6M1363.4 825V827.3M1364 817V829.5M1364.6 825.8V826.8M1365.2 828.5V829.5M1365.8 823.8V826M1366.4 826.6V829.5M1367 820.6V828.7M1367.6 822.8V829M1368.2 816.9V827.4M1368.8 821.1V829.5M1369.4 825.4V827.8M1370 818.5V828.6M1370.6 816.6V828.1M1371.2 816.7V827.2M1371.8 827.1V828.4M1372.4 827.7V829.5M1373 828V829.3M1373.6 820.6V825.3M1374.2 818.8V828M1374.8 825.8V827.2M1375.4 822.3V827.1M1376 817.3V828.1M1376.6 814.7V829.5M1377.2 825.6V826.6M1377.8 816.3V827M1378.4 826.6V829.2M1379 828.1V829.2M1379.6 818.5V829.5M1380.2 826.6V827.9M1380.8 814.6V829.5M1381.4 825.7V829.5M1382 823.3V825.6M1382.6 815.5V829.5M1383.2 824V828.2M1383.8 820.9V829.5M1384.4 820.8V828.1M1385 808.9V827.8M1385.6 823.8V828.5M1386.2 822.3V824.4M1386.8 825.8V827.9M1387.4 828.4V829.5M1388 824.7V828.9M1388.6 825.4V828M1389.2 813.6V827.2M1389.8 820.3V829.5M1390.4 817.3V825.9M1391 827.5V829.3M1391.6 818.1V825.6M1392.2 826.4V827.4M1392.8 818.1V827.4M1393.4 816.9V828.2M1394 825.7V827.2M1394.6 823.1V828.8M1395.2 807.2V828.6M1395.8 826.7V828.5M1396.4 820.4V826.2M1397 827.6V829.5M1397.6 827.2V829.3M1398.2 821.4V825.6M1398.8 821.6V826.4M1399.4 817.7V826.7M1400 819.3V828.7M1400.6 825.9V827.4M1401.2 822.6V828.9M1401.8 825.2V827.3M1402.4 819.5V826.4M1403 824V825.9M1403.6 825.5V826.7M1404.2 824.2V829.5M1404.8 825.9V827.2M1405.4 825.2V827.5M1406 827.4V829M1406.6 825.4V829M1407.2 817.1V828.8M1407.8 820.9V826.5M1408.4 822.6V825.2M1409 814.4V827M1409.6 821.2V828M1410.2 825.4V826.8M1410.8 824.4V828.3M1411.4 824.9V826.6M1412 822.4V827.4M1412.6 825.1V827.3M1413.2 821.2V829.5M1413.8 825V826.1M1414.4 825.5V827.6M1415 823.8V827.6M1415.6 826.6V829.5M1416.2 825.7V827.3M1416.8 827.3V828.4M1417.4 818.2V827M1418 817.7V828.8M1418.6 824.1V826.6M1419.2 825.3V826.9M1419.8 817.9V828.6M1420.4 824.4V826.7M1421 824.3V826.3M1421.6 823.1V826.8M1422.2 822.1V823.7M1422.8 821.4V824.8M1423.4 821.8V828.6M1424 825.2V827.3M1424.6 822V827M1425.2 807.9V826M1425.8 826.4V828.6M1426.4 824.3V828.3M1427 827.6V829.5M1427.6 820.3V826.4M1428.2 824.9V826.8M1428.8 820.9V827.4M1429.4 822.8V825.1M1430 819.8V828.1M1430.6 816.1V827.2M1431.2 827.5V829.5M1431.8 818.3V827.3M1432.4 818.5V825.7M1433 827.5V829.2M1433.6 825.3V826.7M1434.2 827.1V829.4M1434.8 827.2V829.3M1435.4 826V827.9M1436 828V829.5M1436.6 826.4V828.6M1437.2 826.4V828.3M1437.8 826.3V828.6M1438.4 823.9V828.9M1439 826.5V828M1439.6 828.2V829.5M1440.2 818.5V829.3M1440.8 822.6V823.8M1441.4 828.5V829.5M1442 825.5V826.8M1442.6 821.3V827M1443.2 821.4V826.9M1443.8 816.5V827.4M1444.4 827.2V828.8M1445 809.6V827.4M1445.6 820.5V829.5M1446.2 825.9V827.5M1446.8 827.4V828.7M1447.4 820V825.8M1448 825.5V827.7M1448.6 824.4V827M1449.2 816.6V827.1M1449.8 825.2V827.3M1450.4 825.6V827.7M1451 824.1V826M1451.6 827.6V829.4M1452.2 826.4V827.6M1452.8 826.8V828.8M1453.4 820.6V829.5M1454 819.1V825.8M1454.6 822.5V828.3M1455.2 818.8V827.2M1455.8 816.1V829.5M1456.4 825.4V827.3M1457 825.9V828.4M1457.6 826.6V828.5M1458.2 827.5V829M1458.8 825.7V827.9M1459.4 828.3V829.5M1460 825.3V826.9M1460.6 825.1V827.1M1461.2 816V827.8M1461.8 819.8V827.7M1462.4 824.1V828.2M1463 827.8V829.5M1463.6 825.2V827.3M1464.2 824.8V826.8M1464.8 822.7V824.4M1465.4 825.3V827.6M1466 824.8V828M1466.6 828.2V829.5M1467.2 825.3V827M1467.8 826.9V829.2M1468.4 821.8V828.3M1469 809.9V827.4M1469.6 823.8V827M1470.2 824.8V826.1M1470.8 822.2V825.4M1471.4 825.1V827.1M1472 825.2V827.6M1472.6 827.1V829.5M1473.2 819.8V827.9M1473.8 825.5V828M1474.4 808.6V826.7M1475 825.2V826.4M1475.6 820.1V828.7M1476.2 828.3V829.5M1476.8 819.8V826M1477.4 817.7V827.8M1478 826.4V828.8M1478.6 826.6V829.1M1479.2 824.7V827M1479.8 822V829M1480.4 823.3V826.9M1481 824.8V826.3M1481.6 819.2V826.3M1482.2 828V829.4M1482.8 822.2V824.7M1483.4 818.3V825.7M1484 826.4V828.2M1484.6 828.2V829.5M1485.2 825.6V827.3M1485.8 827.9V829.5M1486.4 827.8V828.9M1487 826.3V827.8M1487.6 827.3V829.5M1488.2 823.3V826.8M1488.8 823.9V826.2M1489.4 826.1V827.7M1490 824.5V826.7M1490.6 822.2V829.5M1491.2 824.4V829.1M1491.8 825.7V828.1M1492.4 823.2V827M1493 823.7V829.5M1493.6 826V827M1494.2 823.7V825.4M1494.8 811.5V828.3M1495.4 824V826.3M1496 823.7V826.1M1496.6 825.1V826.8" stroke="#800000" stroke-width="1" fill="none"/>
<path d="M932 842.5V857.1M932.6 844.1V860.2M933.2 844V863.7M933.8 845.8V865M934.4 847.1V868M935 849.3V868.5M935.6 850.3V870.5M936.2 852.2V872.4M936.8 853.5V873.4M937.4 855.2V875.3M938 857V875.6M938.6 857.7V876.8M939.2 857.3V877.6M939.8 859.2V879.2M940.4 860V879.7M941 860.6V880.1M941.6 862V881.5M942.2 861.6V882.3M942.8 864.1V883.2M943.4 865.6V883.1M944 865.3V884.1M944.6 865.4V884.5M945.2 863V884.5M945.8 865.7V885.5M946.4 866.9V886.3M947 866.3V887M947.6 867.1V886.6M948.2 866.6V887.7M948.8 868.3V888.1M949.4 867.3V887M950 867.1V888.4M950.6 869.3V888.7M951.2 869.3V889.6M951.8 869.6V889.6M952.4 869.3V890.1M953 870V890M953.6 870V890.2M954.2 870.3V890.4M954.8 870.6V891.9M955.4 872.4V891.6M956 871.3V893.4M956.6 871.8V893.1M957.2 871.7V893.4M957.8 872V893.4M958.4 873.2V894.5M959 871.7V894.8M959.6 872.9V893.5M960.2 873.5V895.2M960.8 874.3V896M961.4 874V895.8M962 874.3V896.1M962.6 875.1V896.6M963.2 875.2V896.9M963.8 875.7V896.2M964.4 876.1V897.7M965 875V897.3M965.6 875.7V898.6M966.2 878.4V899.2M966.8 876.4V899.7M967.4 877.6V899.4M968 876.1V899M968.6 875.8V900.5M969.2 878.4V899.7M969.8 877.7V900M970.4 878.7V900.8M971 878.7V901.3M971.6 878.3V901.1M972.2 879V904.6M972.8 880V901.1M973.4 879.2V902.7M974 879.1V902.7M974.6 878.2V902.2M975.2 881.7V903.9M975.8 882.2V902.8M976.4 880.4V903.2M977 881.1V904.5M977.6 881.9V902.8M978.2 880.9V904.1M978.8 882.3V904.4M979.4 883.5V906M980 883.5V905.7M980.6 883V907.2M981.2 883.3V905.6M981.8 883.8V907.1M982.4 883.5V906M983 883.2V906.8M983.6 885.7V908.1M984.2 884.4V908M984.8 885.5V907.6M985.4 886.6V908.8M986 885.5V909.4M986.6 887.1V907.6M987.2 885.8V908.3M987.8 885.5V909.2M988.4 888.1V910.4M989 887.3V911.5M989.6 887.5V910.1M990.2 886.8V910.6M990.8 887V912.2M991.4 888.3V909.8M992 887.1V911.6M992.6 887.7V913.1M993.2 887.5V912.7M993.8 887.4V912.2M994.4 887.2V912.2M995 888.6V912.4M995.6 889V913.3M996.2 890.9V913.7M996.8 890.1V917M997.4 888.9V915M998 890.5V915M998.6 891V913.5M999.2 890.2V914.3M999.8 889.1V914.5M1000.4 891.3V915.2M1001 890.3V917M1001.6 892.1V917.5M1002.2 892.4V916.1M1002.8 892.6V916.5M1003.4 893.2V917.2M1004 891V917M1004.6 893.4V915.7M1005.2 893.2V918.1M1005.8 894.3V914.7M1006.4 892.5V917M1007 892.6V919.1M1007.6 893.8V919.5M1008.2 892.6V919.4M1008.8 892.8V918.5M1009.4 890.7V918.9M1010 893.9V920.1M1010.6 894.5V919.4M1011.2 895.2V924.6M1011.8 894.7V921.4M1012.4 896.1V919.3M1013 895.1V919.4M1013.6 893.7V920.8M1014.2 895.8V921M1014.8 894.6V920.2M1015.4 892.1V922.3M1016 896.2V921M1016.6 895.6V923.4M1017.2 895.8V920.2M1017.8 895.3V920.7M1018.4 895.9V922.2M1019 894.7V922.2M1019.6 896.8V925.6M1020.2 895.7V923.7M1020.8 896.2V922.2M1021.4 898.2V921.9M1022 898.5V922.3M1022.6 896.1V925.1M1023.2 898.4V921.2M1023.8 897.4V923.8M1024.4 898.8V924.5M1025 900.8V923.8M1025.6 898.2V924.4M1026.2 899.1V925M1026.8 897.2V926.5M1027.4 897.6V926.1M1028 895.6V924.3M1028.6 899.2V925.1M1029.2 900V925.1M1029.8 900.2V924.7M1030.4 900.9V926.7M1031 900.2V926.3M1031.6 899.8V928.6M1032.2 901.3V925.2M1032.8 896.7V926.2M1033.4 900.2V926M1034 896.6V928.6M1034.6 901.2V927.6M1035.2 901V927.5M1035.8 901.9V927.3M1036.4 896.2V927.5M1037 901.9V927.1M1037.6 901.8V926.5M1038.2 902.1V929.7M1038.8 900.3V927.8M1039.4 902.5V927.1M1040 902.7V928.1M1040.6 904.8V929.6M1041.2 902.1V927.8M1041.8 902.7V927.4M1042.4 902.4V929.5M1043 901.9V933.7M1043.6 901V930.5M1044.2 905.1V930.4M1044.8 903.9V930.1M1045.4 902.4V930.4M1046 903.2V929.9M1046.6 905V930.9M1047.2 905.1V929.5M1047.8 901.9V932M1048.4 904.1V930.8M1049 905.4V931.9M1049.6 907.2V929.8M1050.2 904.5V932M1050.8 905.1V931.7M1051.4 905.1V933.3M1052 904.3V932.7M1052.6 904.9V935.3M1053.2 905.9V932.5M1053.8 906.2V932.4M1054.4 905.8V935.1M1055 904.9V932.9M1055.6 908.1V938.4M1056.2 906.2V933.8M1056.8 907V933.9M1057.4 907.5V932.9M1058 905.6V933.1M1058.6 906.6V932.7M1059.2 907.3V935.8M1059.8 905.7V937.9M1060.4 908.2V933.9M1061 906.9V935.6M1061.6 908V933.4M1062.2 908.4V934.4M1062.8 907.5V932.1M1063.4 908.2V935.6M1064 906.8V935.8M1064.6 909.7V934.7M1065.2 909.1V936.2M1065.8 907.4V935.2M1066.4 910.7V937M1067 909.9V936.6M1067.6 905.8V936M1068.2 911.3V936.7M1068.8 911.5V936.4M1069.4 910.5V936.4M1070 910V934.8M1070.6 912.1V938.3M1071.2 908.7V937.6M1071.8 910.6V937.1M1072.4 911.7V937.3M1073 911V938.6M1073.6 910.6V935.2M1074.2 911.8V939.4M1074.8 905.7V938.6M1075.4 913.3V938M1076 912.5V939.5M1076.6 912.2V942.6M1077.2 911V939M1077.8 911.1V939M1078.4 911V935.8M1079 912.6V939.6M1079.6 913V941M1080.2 911.5V939.7M1080.8 914V937.5M1081.4 912V940.3M1082 912.5V940.3M1082.6 910V939M1083.2 913.7V938.2M1083.8 913.5V940.3M1084.4 912.2V939.6M1085 910.8V943.2M1085.6 913.1V940.8M1086.2 913.6V939.2M1086.8 911.4V940.6M1087.4 914.4V940.7M1088 913.7V940.9M1088.6 913.1V941.2M1089.2 909.4V941.3M1089.8 913.5V941.7M1090.4 914.3V940.9M1091 914.7V942.3M1091.6 914.7V943.5M1092.2 915V944.6M1092.8 914.2V942.9M1093.4 915.8V941.5M1094 913.5V942.2M1094.6 914.6V942.6M1095.2 911.9V945M1095.8 913.4V945.3M1096.4 909.7V943M1097 913.9V946.7M1097.6 915.5V942.9M1098.2 913.8V945.1M1098.8 914.9V944.5M1099.4 912.9V945.1M1100 916.5V944.3M1100.6 911.1V946.8M1101.2 909.1V944.4M1101.8 916.5V947.1M1102.4 914.6V942.7M1103 918.1V946.2M1103.6 918.2V947.4M1104.2 915.7V946.9M1104.8 915.9V945.9M1105.4 916.9V947.5M1106 916.7V945.7M1106.6 915.9V946.7M1107.2 918.3V947.8M1107.8 917.9V947.8M1108.4 917.5V948.6M1109 916.1V946.7M1109.6 917.7V947.3M1110.2 918V948.9M1110.8 918.9V947.6M1111.4 914.9V948.5M1112 919V947.8M1112.6 917.4V949.3M1113.2 911.7V950.8M1113.8 919V950.1M1114.4 916.5V946.5M1115 915.1V947.2M1115.6 918V946.1M1116.2 916.7V956.6M1116.8 919V949.7M1117.4 919.8V947.6M1118 911.7V950.7M1118.6 916V947.8M1119.2 918.5V950.1M1119.8 919.9V952.3M1120.4 920.4V951.7M1121 920.2V950.5M1121.6 919.5V948.7M1122.2 918.3V949.3M1122.8 921.8V953.8M1123.4 917.8V950M1124 919.2V950.9M1124.6 915.9V950.6M1125.2 915.2V951.1M1125.8 919.8V950.1M1126.4 916.7V948.5M1127 920.2V952M1127.6 919.7V954.3M1128.2 916.3V950.2M1128.8 918.2V952.8M1129.4 919.4V952.4M1130 919.8V953.7M1130.6 918.7V955M1131.2 913.9V949.2M1131.8 919.9V957.9M1132.4 920.9V954M1133 921.2V954.5M1133.6 919.3V953.3M1134.2 922.5V960.9M1134.8 920.9V952.2M1135.4 917.6V953.7M1136 919.8V955.4M1136.6 920.2V954.3M1137.2 921.4V959.7M1137.8 920.8V952.9M1138.4 920.3V954.3M1139 913.7V955.8M1139.6 921V953.3M1140.2 920.2V954.1M1140.8 919.6V958.2M1141.4 920.7V954.1M1142 921.8V956.7M1142.6 924.5V962.5M1143.2 921.8V956.9M1143.8 916.6V963.8M1144.4 921.7V957.3M1145 919.6V954.9M1145.6 921.3V957.7M1146.2 920.7V954.5M1146.8 921.1V957.1M1147.4 923V957M1148 922.8V957.6M1148.6 919.6V957.2M1149.2 924V957.4M1149.8 923V957.8M1150.4 920.9V955.3M1151 922.7V956M1151.6 924.8V963.7M1152.2 923.6V957.7M1152.8 925.1V955.8M1153.4 922.2V957.5M1154 922.5V957M1154.6 926.6V959.4M1155.2 924.5V966.9M1155.8 922.2V958.3M1156.4 922.5V958.8M1157 925.8V958.6M1157.6 922.5V959.1M1158.2 926V959.4M1158.8 920.7V959.6M1159.4 925.3V960.1M1160 922.1V959.3M1160.6 926.2V960.9M1161.2 926.4V957.6M1161.8 926.3V965.2M1162.4 923.5V959.1M1163 923.6V959.3M1163.6 925.8V958.1M1164.2 925.1V962.2M1164.8 923.8V960.2M1165.4 924.3V960.9M1166 925.5V961.6M1166.6 925.2V961.3M1167.2 925.3V962.1M1167.8 927.2V963M1168.4 925.2V964.1M1169 919V970.8M1169.6 927.6V964.2M1170.2 919.1V961.2M1170.8 927.5V962M1171.4 924.1V959M1172 925.6V964M1172.6 925.4V970.7M1173.2 921.6V963.2M1173.8 926.9V960.9M1174.4 925.6V971.6M1175 923V964.9M1175.6 926.9V961.4M1176.2 922.7V961.4M1176.8 925.9V960.2M1177.4 927V962.2M1178 922V963.2M1178.6 926.4V962.5M1179.2 927V960.9M1179.8 924.1V962.5M1180.4 926.8V963M1181 927.2V964M1181.6 922.4V962.5M1182.2 927.6V963.2M1182.8 928.9V960.7M1183.4 928.3V960.9M1184 930.3V961.8M1184.6 926.6V963.3M1185.2 927V963M1185.8 921.3V963.9M1186.4 923.5V961.8M1187 925.3V965.1M1187.6 925.8V962.5M1188.2 928.4V962.6M1188.8 928.8V960.7M1189.4 923.2V961M1190 928.3V963.9M1190.6 927.6V962.4M1191.2 929V961.3M1191.8 926.7V964.4M1192.4 929.5V963.5M1193 929.9V965M1193.6 929.1V965.6M1194.2 928.6V963.2M1194.8 926.8V963M1195.4 927.6V964M1196 919.7V969.1M1196.6 929.5V964.5M1197.2 928.9V962.8M1197.8 931.9V961.5M1198.4 926V967.4M1199 928.6V968.6M1199.6 927.2V975.6M1200.2 927.9V969.2M1200.8 927.1V965.8M1201.4 926.7V964.8M1202 928V978.2M1202.6 928.9V964.7M1203.2 930.2V966M1203.8 931.2V973.6M1204.4 931.2V962.9M1205 929V964.3M1205.6 931.8V965.4M1206.2 929.6V977.8M1206.8 930.7V966.1M1207.4 929.6V965.6M1208 927V964M1208.6 928.9V971M1209.2 928.3V978.1M1209.8 928.4V966.7M1210.4 932.2V967.2M1211 932.7V964.5M1211.6 929.1V963.2M1212.2 930.5V968.4M1212.8 932.8V966.6M1213.4 927.5V972.9M1214 926.5V965.2M1214.6 935.1V962.8M1215.2 933.5V979.5M1215.8 934.8V979M1216.4 925.1V964.6M1217 932.2V965.8M1217.6 928.8V981.7M1218.2 934.7V973.8M1218.8 929.6V966.2M1219.4 927.8V976.9M1220 934.7V966.2M1220.6 929.7V967M1221.2 935.9V966.8M1221.8 937V969.3M1222.4 931.6V964.7M1223 934.4V962M1223.6 936.9V980M1224.2 934.1V965.9M1224.8 933.5V966M1225.4 934.7V968.3M1226 934.8V966.6M1226.6 938.6V967.9M1227.2 936.1V969.5M1227.8 936.9V967.5M1228.4 937V984.2M1229 936.5V966.7M1229.6 929.6V966.1M1230.2 929.7V981.6M1230.8 939.2V968.1M1231.4 935.9V967.5M1232 934.5V969.3M1232.6 925.3V973.9M1233.2 935.3V973.1M1233.8 936.4V967.7M1234.4 933.5V968.6M1235 934.5V968.6M1235.6 935.5V965.7M1236.2 932.3V968.6M1236.8 938.6V986.8M1237.4 937.8V965.1M1238 937.2V967M1238.6 936.7V965.6M1239.2 939.8V966M1239.8 934.1V986.8M1240.4 936.3V967.9M1241 937.3V986.8M1241.6 939.3V968.5M1242.2 935.7V967.2M1242.8 937.5V965.1M1243.4 938.8V964.5M1244 941.7V967.9M1244.6 934.2V966.1M1245.2 937.3V972.9M1245.8 940.2V976.8M1246.4 939.9V986.8M1247 938.6V967.8M1247.6 938.4V971.2M1248.2 937.1V983.3M1248.8 937.7V986.8M1249.4 937.6V967.5M1250 939.8V986.8M1250.6 938V968.5M1251.2 941.6V984.2M1251.8 933.8V966M1252.4 940.4V972.2M1253 940.2V973.5M1253.6 931.5V968M1254.2 939.4V986.8M1254.8 939.6V986M1255.4 941.2V973.8M1256 935.3V974.5M1256.6 941.6V967.1M1257.2 940.5V969.6M1257.8 929.4V986.8M1258.4 940.6V970.1M1259 939.9V971.1M1259.6 941.8V986.8M1260.2 939.9V972M1260.8 937.8V969.5M1261.4 940.5V986.8M1262 942V986.7M1262.6 939.7V972.9M1263.2 942.4V967.2M1263.8 935.3V986.8M1264.4 935.4V968.8M1265 940.5V971.5M1265.6 931.2V970.9M1266.2 940.9V986.8M1266.8 941.2V969M1267.4 941V986.8M1268 938.4V986.8M1268.6 943V970.3M1269.2 941.8V972.1M1269.8 942.2V976.7M1270.4 940.2V986.8M1271 944.8V968.3M1271.6 938.4V971.5M1272.2 939V970.2M1272.8 941.2V968.6M1273.4 938.4V986.8M1274 943.4V974.7M1274.6 942.7V974.3M1275.2 939.6V972.6M1275.8 940V986.8M1276.4 938.9V973.8M1277 943.5V986.8M1277.6 941.3V972.4M1278.2 944.8V986.8M1278.8 940.1V986.8M1279.4 945V973.4M1280 942.9V983.3M1280.6 941.6V986.8M1281.2 944.5V985.4M1281.8 942.2V986.8M1282.4 943.3V986.8M1283 943.2V974.7M1283.6 941.7V964.9M1284.2 942V986.8M1284.8 940.6V986.8M1285.4 943.4V986.8M1286 942.5V972.1M1286.6 934.8V969.5M1287.2 940.3V968.2M1287.8 942.7V986.8M1288.4 943.4V986.8M1289 942.4V986.8M1289.6 944.5V986.8M1290.2 943.3V986.8M1290.8 940.7V973.8M1291.4 939.8V976.6M1292 940.3V986.8M1292.6 943.8V976.5M1293.2 943.4V986.8M1293.8 941V986.8M1294.4 940.2V986.8M1295 944.4V972.7M1295.6 942.1V969M1296.2 947.1V986.8M1296.8 946V972.1M1297.4 937.7V974.7M1298 936.7V986.8M1298.6 945V986.8M1299.2 943.2V984.5M1299.8 936.2V986.8M1300.4 934.5V986.8M1301 943.7V986.8M1301.6 943.1V975.5M1302.2 944.5V970.5M1302.8 937.4V968.6M1303.4 943.1V971.9M1304 945.9V986.8M1304.6 943.3V986.8M1305.2 947.3V986.8M1305.8 945.3V969.5M1306.4 945.9V968.7M1307 940.6V986.2M1307.6 944.3V986.8M1308.2 944.8V985.4M1308.8 945.9V986.8M1309.4 945.7V973.6M1310 945.7V986.8M1310.6 942.7V971.7M1311.2 945.6V981.4M1311.8 945.1V972.7M1312.4 944.9V978.5M1313 945.4V986.8M1313.6 945.9V986.8M1314.2 947.8V982.1M1314.8 946.7V971.6M1315.4 946.3V986.8M1316 934.2V972M1316.6 947.6V986.8M1317.2 944.6V986.8M1317.8 946.3V971M1318.4 942.8V986.8M1319 947.8V986.8M1319.6 945.8V981.8M1320.2 947.1V969.4M1320.8 945.3V985.5M1321.4 943V986.8M1322 946.9V986.8M1322.6 937.6V986.8M1323.2 947.3V979.4M1323.8 947.1V986.8M1324.4 942.8V986.8M1325 945.9V986.8M1325.6 949V970.9M1326.2 945.2V986.8M1326.8 946.3V976.4M1327.4 948.6V986.8M1328 943.7V986.8M1328.6 946.9V986.8M1329.2 946.6V986.8M1329.8 945.7V986.8M1330.4 949.2V971.3M1331 944.5V986.8M1331.6 942.7V985.7M1332.2 947.3V985.3M1332.8 947.7V979.9M1333.4 948.4V973.5M1334 946V986.8M1334.6 947.3V975.3M1335.2 940.9V986.8M1335.8 945.6V986.8M1336.4 948.9V986.8M1337 948.4V986.8M1337.6 946.1V978.6M1338.2 943.9V986.8M1338.8 939.6V986.8M1339.4 947.5V971.2M1340 948.5V975.4M1340.6 950.3V986.8M1341.2 951.6V986.8M1341.8 946.8V976.3M1342.4 948.9V986.8M1343 948.8V986.8M1343.6 945.5V974.6M1344.2 946.5V985.6M1344.8 949.4V986.8M1345.4 947.4V986.8M1346 945.8V979.9M1346.6 945.5V980.9M1347.2 950.6V986.8M1347.8 949V986.8M1348.4 950.5V971.7M1349 939.2V986.8M1349.6 949.7V972.6M1350.2 949.5V972.5M1350.8 948.4V986.8M1351.4 948.3V976.9M1352 950.4V986.8M1352.6 949.5V986.8M1353.2 947.8V974.7M1353.8 949V970M1354.4 948.8V986.8M1355 949V986.8M1355.6 950.1V986.8M1356.2 952.1V970.1M1356.8 948.3V981.5M1357.4 948.1V986.8M1358 949.3V986.8M1358.6 942.3V986.8M1359.2 949.5V971.3M1359.8 950.9V986.8M1360.4 949.6V986.8M1361 949.2V986.8M1361.6 952.3V986.8M1362.2 951V974.2M1362.8 950.3V986.8M1363.4 949.2V986.8M1364 949.2V986.3M1364.6 949.3V986.8M1365.2 952.7V983.3M1365.8 952V986.8M1366.4 938.8V986.8M1367 950.8V986.8M1367.6 949.5V972.3M1368.2 949.8V969.9M1368.8 951V986.8M1369.4 950.3V986.8M1370 950.7V986.8M1370.6 948.4V986.8M1371.2 948.6V971.3M1371.8 947.5V986.8M1372.4 950.8V986.8M1373 937.7V978.4M1373.6 948.6V986.8M1374.2 949.3V986.8M1374.8 951.3V986.8M1375.4 944.5V986.8M1376 951.1V986.8M1376.6 948.7V986.8M1377.2 951.7V986.8M1377.8 948.1V986.8M1378.4 949.1V979.3M1379 950.3V976.7M1379.6 947.9V986.8M1380.2 947.3V986.8M1380.8 950.2V977.6M1381.4 949.5V971.2M1382 951.7V986.8M1382.6 950.5V986.8M1383.2 949.7V986.8M1383.8 945.4V986.8M1384.4 944.1V983.6M1385 951.2V971.8M1385.6 952.9V986.8M1386.2 950.1V986.8M1386.8 947.1V986.8M1387.4 952.4V986.8M1388 949.9V986.8M1388.6 951.3V986.8M1389.2 950.4V986.8M1389.8 949.9V970.8M1390.4 952.2V981.3M1391 952.2V986.8M1391.6 948.9V986.8M1392.2 951.9V986.8M1392.8 948.6V986.8M1393.4 943.6V986.8M1394 952.9V986.8M1394.6 945.3V986.8M1395.2 950.1V986.8M1395.8 949.8V986.8M1396.4 950.1V974.4M1397 950.2V974.1M1397.6 953.6V986.8M1398.2 941.5V986.8M1398.8 954.6V973.5M1399.4 951.2V986.8M1400 949.9V970.6M1400.6 949.4V986.8M1401.2 951.3V978.7M1401.8 950.9V972.5M1402.4 948.8V986.8M1403 953.7V986.8M1403.6 952.9V986.8M1404.2 954.5V986.8M1404.8 950.9V986.8M1405.4 950.4V976M1406 952.9V980.3M1406.6 951.1V971.4M1407.2 952.3V986.8M1407.8 951.6V986.8M1408.4 951.8V970.9M1409 953.8V975.3M1409.6 950.2V986.8M1410.2 953.6V986.8M1410.8 949.5V986.8M1411.4 954.3V972.8M1412 943.9V973.4M1412.6 953.7V986.8M1413.2 951.4V986.8M1413.8 953.9V977.9M1414.4 947.2V986.8M1415 949.7V986.8M1415.6 950V986.8M1416.2 952.4V986.8M1416.8 954.2V975.2M1417.4 954.3V986.8M1418 956.7V972.1M1418.6 952.2V986.8M1419.2 952.1V982.9M1419.8 953.3V986.8M1420.4 952.4V986.8M1421 953.7V986.4M1421.6 955.2V986.8M1422.2 948.6V983.6M1422.8 955.1V986.8M1423.4 953.5V986.8M1424 943.4V986.8M1424.6 952.7V982.6M1425.2 953.8V986.8M1425.8 950.6V986.8M1426.4 951.4V986.8M1427 953.1V986.8M1427.6 952.2V986.8M1428.2 947.2V986.8M1428.8 953.9V986.8M1429.4 954.2V986.8M1430 947.4V972.3M1430.6 954.6V986.8M1431.2 948.2V986.8M1431.8 953.5V986.8M1432.4 953.1V986.8M1433 958.6V983.8M1433.6 952.9V979.2M1434.2 953.5V984.1M1434.8 955.2V986.8M1435.4 955.2V986.8M1436 950.5V986.8M1436.6 952.5V986.8M1437.2 953.5V986.8M1437.8 946.1V973M1438.4 949.4V986.8M1439 954.3V986.8M1439.6 954.4V977M1440.2 945.9V986.8M1440.8 956.2V986.8M1441.4 955.3V974.6M1442 954.4V986.8M1442.6 954.5V986.8M1443.2 957.1V986.8M1443.8 944.4V986.8M1444.4 951.7V971.3M1445 954.4V986.8M1445.6 951.6V986.8M1446.2 956.1V986.8M1446.8 954.5V986.8M1447.4 953.6V986.8M1448 954.2V970.4M1448.6 956.9V986.8M1449.2 953.3V986.8M1449.8 953V986.8M1450.4 953.3V986.8M1451 955V986.8M1451.6 954.4V986.8M1452.2 952.3V983.1M1452.8 956.2V971.1M1453.4 953.5V986.8M1454 956V986.8M1454.6 953.5V986.8M1455.2 955.6V986.8M1455.8 958.3V978.6M1456.4 956V976.9M1457 948.2V986.8M1457.6 954.4V986.8M1458.2 958.9V983.5M1458.8 951.2V974M1459.4 956.4V986.8M1460 955.1V986.8M1460.6 957.8V986.8M1461.2 956.5V978.5M1461.8 954.1V986.8M1462.4 954.2V986.8M1463 955.5V986.8M1463.6 954.3V972.1M1464.2 957.9V976.2M1464.8 958.7V982.7M1465.4 953.1V978.3M1466 955.2V978.8M1466.6 956.4V986.8M1467.2 956.3V986.8M1467.8 957.7V986.8M1468.4 951.5V986.8M1469 956.6V986.8M1469.6 951.3V986.8M1470.2 958.9V986.3M1470.8 955.5V977.3M1471.4 958.8V974M1472 948.6V974.2M1472.6 958.1V986.8M1473.2 953.4V986.8M1473.8 954.2V979.2M1474.4 957V979.9M1475 958.7V981.3M1475.6 956V986.8M1476.2 956.3V986.8M1476.8 956.3V971.5M1477.4 957V975.1M1478 954.7V982.4M1478.6 951.2V986.8M1479.2 946V986.8M1479.8 957.1V986.8M1480.4 951.8V986.8M1481 958.4V986.8M1481.6 960.8V986.8M1482.2 955.1V984.9M1482.8 954.6V978M1483.4 955.7V972.4M1484 957V986.8M1484.6 953.1V986.8M1485.2 948.9V975.9M1485.8 955.3V986.8M1486.4 958.1V986.8M1487 956V986.8M1487.6 953.3V975M1488.2 949.9V977.2M1488.8 946V978.2M1489.4 957.8V972.8M1490 958.2V986.8M1490.6 949.2V985.3M1491.2 960.3V986.8M1491.8 956.1V986.8M1492.4 945V986.8M1493 959.7V978.4M1493.6 958.8V986.8M1494.2 959V986.8M1494.8 958.6V972.4M1495.4 956V986.8M1496 948.2V986.8M1496.6 959.1V982.7" stroke="#7a08fa" stroke-width="1" fill="none"/>
<rect x="920.6" y="509" width="578.6" height="142.4" fill="none" stroke="#000" stroke-width="5" stroke-linejoin="round"/>
<rect x="920.6" y="660.5" width="578.6" height="170" fill="none" stroke="#000" stroke-width="5" stroke-linejoin="round"/>
<rect x="920.6" y="838.6" width="578.6" height="149.2" fill="none" stroke="#000" stroke-width="5" stroke-linejoin="round"/>
<path d="M934.3 508.3C934.6 509.5 935.3 511.3 936.1 515.6C937 519.8 938.3 527.8 939.4 533.8C940.5 539.9 941.6 548.2 942.7 552.1C943.8 556 944.6 555.5 946.2 557.2C947.8 559 949.9 560.6 952.2 562.5C954.5 564.5 956.5 566 959.9 568.9C963.2 571.8 967.8 575.9 972.3 579.9C976.8 583.8 981.8 588.3 986.9 592.7C992 597.1 997.8 602.4 1003 606.2C1008.2 610 1012.9 612.5 1018 615.3C1023.1 618.1 1028.8 620.6 1033.7 623C1038.6 625.4 1042.8 627.7 1047.2 629.8C1051.6 631.8 1055.4 633.8 1060 635.4C1064.6 637.1 1069.8 638.5 1074.6 639.8C1079.5 641.1 1083.8 642.1 1089.2 643.1C1094.7 644.1 1101.4 645 1107.5 645.7C1113.6 646.4 1116.6 646.8 1125.8 647.3C1134.9 647.8 1148.3 648.3 1162.3 648.6C1176.4 648.9 1191.5 648.9 1210 648.9C1228.5 649 1225.1 648.9 1273.1 648.9C1321 648.9 1460.3 648.9 1497.8 648.9" stroke="#ff0000" stroke-width="3.6" fill="none" stroke-linejoin="round"/>
<path d="M931.8 661.8C932.1 663.3 932.8 667.9 933.6 671C934.3 674 935.2 677.4 936.1 680.1C937.1 682.8 938.3 685.3 939.4 687.4C940.6 689.5 940.9 690.4 943.1 692.5C945.2 694.6 949.2 697.6 952.2 699.8C955.3 702 956.8 703 961.3 705.7C965.9 708.3 973.5 712.5 979.6 715.7C985.7 718.9 991.8 721.8 997.9 724.9C1004 727.9 1010.1 730.9 1016.2 734C1022.2 737 1028.3 740.1 1034.4 743.1C1040.5 746.2 1046.6 749.3 1052.7 752.3C1058.8 755.2 1064.9 758 1071 760.8C1077.1 763.7 1083.1 766.4 1089.2 769.3C1095.3 772.1 1101.4 775 1107.5 777.8C1113.6 780.6 1119.7 783.3 1125.8 786.1C1131.9 788.8 1138 791.7 1144 794.3C1150.1 796.9 1156.2 799.3 1162.3 801.6C1168.4 803.9 1174.5 806.1 1180.6 808C1186.7 809.9 1194 811.8 1198.9 813.1C1203.8 814.4 1206.8 814.7 1210 815.7C1213.2 816.6 1213.8 817.7 1218.3 818.6C1222.7 819.5 1230.4 820.4 1236.5 821.1C1242.6 821.9 1248.7 822.6 1254.8 823.1C1260.9 823.7 1267 824.1 1273.1 824.4C1279.2 824.8 1282.2 825.1 1291.3 825.3C1300.5 825.6 1312.7 825.9 1327.9 826.1C1343.1 826.3 1354.4 826.3 1382.7 826.4C1411 826.5 1478.6 826.6 1497.8 826.6" stroke="#ff0000" stroke-width="4" fill="none" stroke-linejoin="round"/>
<path d="M931.8 841.8C932.1 843.5 932.8 848.6 933.6 851.8C934.3 855 935.2 858.2 936.1 861C937.1 863.7 938.4 866.2 939.4 868.3C940.4 870.3 941.3 871.8 942.2 873.4C943.1 875 943.2 876.3 944.9 877.8C946.6 879.2 949.5 880.7 952.2 882C955 883.3 956.8 883.9 961.3 885.6C965.9 887.4 973.5 890.2 979.6 892.4C985.7 894.6 991.8 896.8 997.9 899C1004 901.1 1010.1 903 1016.2 905.2C1022.2 907.3 1028.3 909.6 1034.4 911.8C1040.5 913.9 1046.6 915.8 1052.7 918C1058.8 920.1 1064.9 922.4 1071 924.5C1077.1 926.7 1083.1 928.7 1089.2 930.8C1095.3 932.8 1101.4 934.8 1107.5 936.8C1113.6 938.8 1119.7 940.9 1125.8 942.8C1131.9 944.7 1138 946.6 1144 948.3C1150.1 950 1156.2 951.7 1162.3 953.2C1168.4 954.7 1174.5 956.2 1180.6 957.4C1186.7 958.7 1194 959.9 1198.9 960.7C1203.8 961.6 1206.8 962.1 1210 962.5C1213.2 963 1213.8 963.2 1218.3 963.6C1222.7 964.1 1230.4 965 1236.5 965.5C1242.6 966 1245.7 966.1 1254.8 966.6C1263.9 967 1276.1 967.9 1291.3 968.4C1306.6 968.9 1324.8 969.3 1346.2 969.7C1367.5 970 1394 970.3 1419.2 970.6C1444.5 970.9 1484.7 971.3 1497.8 971.5" stroke="#ff0000" stroke-width="4" fill="none" stroke-linejoin="round"/>
<path d="M1160 649.3H1497" stroke="#ff0020" stroke-width="4.4" fill="none" stroke-linecap="round"/>
<text x="919.3" y="1013.3" font-size="15.5" text-anchor="middle">0</text>
<text x="1035.3" y="1013.3" font-size="15.5" text-anchor="middle">1</text>
<text x="1151.3" y="1013.3" font-size="15.5" text-anchor="middle">2</text>
<text x="1267.3" y="1013.3" font-size="15.5" text-anchor="middle">3</text>
<text x="1383.3" y="1013.3" font-size="15.5" text-anchor="middle">4</text>
<text x="1499.8" y="1013.3" font-size="15.5" text-anchor="middle">5</text>
<path d="M919.3 987.8V996M977.3 987.8V992.4M1035.3 987.8V996M1093.3 987.8V992.4M1151.3 987.8V996M1209.3 987.8V992.4M1267.3 987.8V996M1325.3 987.8V992.4M1383.3 987.8V996M1441.3 987.8V992.4M1499.3 987.8V996" stroke="#000" stroke-width="3.6" stroke-linecap="round" fill="none"/>
<text x="1210" y="1034.4" font-size="22.5" text-anchor="middle" textLength="106" lengthAdjust="spacingAndGlyphs">Time (ms)</text>
<text x="898" y="761" font-size="22.5" text-anchor="middle" textLength="143" lengthAdjust="spacingAndGlyphs" transform="rotate(-90 898 761)">Intensity (a.u.)</text>
<text x="930.5" y="634.6" font-size="39" textLength="40.5" lengthAdjust="spacingAndGlyphs">IV</text>
<text x="935.8" y="815.4" font-size="38" textLength="25.5" lengthAdjust="spacingAndGlyphs">V</text>
<text x="928.5" y="973.6" font-size="39" textLength="41.5" lengthAdjust="spacingAndGlyphs">VI</text>
<line x1="1257.2" y1="526.8" x2="1257.2" y2="541.8" stroke="#f070f0" stroke-width="1.3" />
<text x="1284.5" y="540.5" font-size="16.6" textLength="206" lengthAdjust="spacing">CLSO:0.20Dy<tspan font-size="9" dy="-9.5">3+</tspan><tspan dy="9.5">/0.20Sm</tspan><tspan font-size="9" dy="-9.5">3+</tspan></text>
<text x="1284.5" y="563" font-size="16.4" textLength="168.5" lengthAdjust="spacing">monitered at 479 nm</text>
<line x1="1235.3" y1="582.7" x2="1278.9" y2="582.7" stroke="#d01010" stroke-width="3.8" stroke-linecap="round"/>
<text x="1284.5" y="588.6" font-size="16.8" textLength="83" lengthAdjust="spacing">R<tspan font-size="9.5" dy="-9">2</tspan><tspan dy="9">=0.9578</tspan></text>
<text x="1285.5" y="610.5" font-size="16.8" textLength="83" lengthAdjust="spacing">τ*=3.88 <tspan font-weight="normal">μs</tspan></text>
<line x1="1256.3" y1="690.5" x2="1256.3" y2="705.5" stroke="#802020" stroke-width="1.3" />
<text x="1283.2" y="703.7" font-size="16.6" textLength="206.5" lengthAdjust="spacing">CLSO:0.20Dy<tspan font-size="9" dy="-9.5">3+</tspan><tspan dy="9.5">/0.20Sm</tspan><tspan font-size="9" dy="-9.5">3+</tspan></text>
<text x="1283.2" y="725.6" font-size="16.4" textLength="168.5" lengthAdjust="spacing">monitered at 573 nm</text>
<line x1="1233.5" y1="745.9" x2="1278" y2="745.9" stroke="#ff0000" stroke-width="3.8" stroke-linecap="round"/>
<text x="1283.2" y="751.9" font-size="16.8" textLength="83.5" lengthAdjust="spacing">R<tspan font-size="9.5" dy="-9">2</tspan><tspan dy="9">=0.9976</tspan></text>
<text x="1284.5" y="777.2" font-size="16.8" textLength="93" lengthAdjust="spacing">τ*=32.44 <tspan font-weight="normal">μs</tspan></text>
<line x1="1253" y1="851.2" x2="1253" y2="866.2" stroke="#9050f0" stroke-width="1.3" />
<text x="1280.4" y="864.8" font-size="16.6" textLength="204.5" lengthAdjust="spacing">CLSO:0.20Dy<tspan font-size="9" dy="-9.5">3+</tspan><tspan dy="9.5">/0.20Sm</tspan><tspan font-size="9" dy="-9.5">3+</tspan></text>
<text x="1280.4" y="886.7" font-size="16.4" textLength="169" lengthAdjust="spacing">monitered at 601 nm</text>
<line x1="1230.7" y1="907" x2="1275.3" y2="907" stroke="#ff0000" stroke-width="3.8" stroke-linecap="round"/>
<text x="1280.4" y="912.9" font-size="16.8" textLength="82" lengthAdjust="spacing">R<tspan font-size="9.5" dy="-9">2</tspan><tspan dy="9">=0.9807</tspan></text>
<text x="1281.3" y="934.6" font-size="16.8" textLength="93.5" lengthAdjust="spacing">τ*=22.89 <tspan font-weight="normal">μs</tspan></text>
</g>
</g>
</svg>
</body></html>
